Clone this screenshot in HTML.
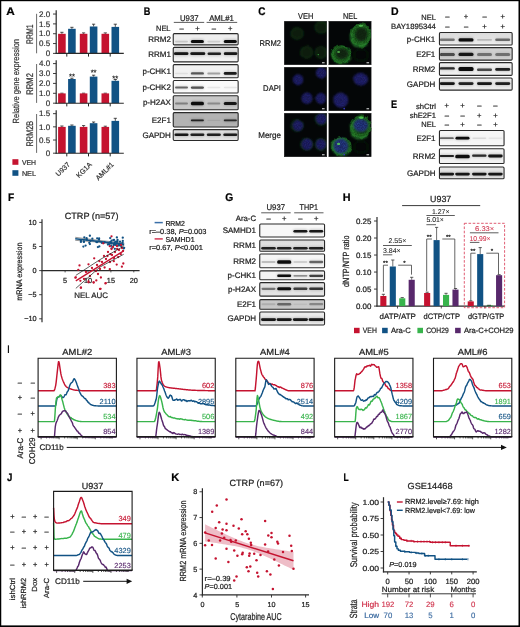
<!DOCTYPE html><html><head><meta charset="utf-8"><title>Figure</title><style>html,body{margin:0;padding:0;background:#fff;width:520px;height:627px;overflow:hidden}svg{display:block;will-change:transform;text-rendering:geometricPrecision;font-family:"Liberation Sans",sans-serif}</style></head><body><svg width="520" height="627" viewBox="0 0 520 627" font-family="Liberation Sans, sans-serif"><defs><filter id="bl" x="-30%" y="-200%" width="160%" height="500%"><feGaussianBlur stdDeviation="0.55"/></filter><filter id="bl2" x="-30%" y="-200%" width="160%" height="500%"><feGaussianBlur stdDeviation="0.9"/></filter><clipPath id="cp1"><rect x="172.80" y="33.20" width="65.80" height="12.10" rx="1.3"/></clipPath><clipPath id="cp2"><rect x="172.80" y="46.90" width="65.80" height="15.40" rx="1.3"/></clipPath><linearGradient id="cp2g" x1="0" y1="0" x2="0" y2="1"><stop offset="0" stop-color="#dedede"/><stop offset="1" stop-color="#f6f6f6"/></linearGradient><clipPath id="cp3"><rect x="172.80" y="64.20" width="65.80" height="14.00" rx="1.3"/></clipPath><clipPath id="cp4"><rect x="172.80" y="80.10" width="65.80" height="13.40" rx="1.3"/></clipPath><clipPath id="cp5"><rect x="172.80" y="95.30" width="65.80" height="14.90" rx="1.3"/></clipPath><clipPath id="cp6"><rect x="172.80" y="112.20" width="65.80" height="15.20" rx="1.3"/></clipPath><clipPath id="cp7"><rect x="172.80" y="129.20" width="65.80" height="11.70" rx="1.3"/></clipPath><clipPath id="cp8"><rect x="439.00" y="32.10" width="73.60" height="13.40" rx="1.3"/></clipPath><linearGradient id="cp8g" x1="0" y1="0" x2="0" y2="1"><stop offset="0" stop-color="#d9d9d9"/><stop offset="1" stop-color="#f0f0f0"/></linearGradient><clipPath id="cp9"><rect x="439.00" y="47.20" width="73.60" height="13.40" rx="1.3"/></clipPath><clipPath id="cp10"><rect x="439.00" y="62.20" width="73.60" height="13.60" rx="1.3"/></clipPath><clipPath id="cp11"><rect x="439.00" y="77.50" width="73.60" height="13.10" rx="1.3"/></clipPath><clipPath id="cp12"><rect x="439.00" y="130.00" width="65.50" height="16.20" rx="1.3"/></clipPath><clipPath id="cp13"><rect x="439.00" y="148.30" width="65.50" height="15.70" rx="1.3"/></clipPath><clipPath id="cp14"><rect x="439.00" y="166.60" width="65.50" height="12.60" rx="1.3"/></clipPath><clipPath id="cp15"><rect x="259.30" y="223.50" width="65.70" height="13.90" rx="1.3"/></clipPath><clipPath id="cp16"><rect x="259.30" y="239.60" width="65.70" height="12.10" rx="1.3"/></clipPath><linearGradient id="cp16g" x1="0" y1="0" x2="0" y2="1"><stop offset="0" stop-color="#dadada"/><stop offset="1" stop-color="#ececec"/></linearGradient><clipPath id="cp17"><rect x="259.30" y="253.50" width="65.70" height="14.70" rx="1.3"/></clipPath><clipPath id="cp18"><rect x="259.30" y="270.40" width="65.70" height="9.80" rx="1.3"/></clipPath><clipPath id="cp19"><rect x="259.30" y="282.20" width="65.70" height="14.40" rx="1.3"/></clipPath><clipPath id="cp20"><rect x="259.30" y="299.20" width="65.70" height="10.50" rx="1.3"/></clipPath><clipPath id="cp21"><rect x="259.30" y="311.60" width="65.70" height="13.80" rx="1.3"/></clipPath><filter id="cb1" x="-50%" y="-50%" width="200%" height="200%"><feGaussianBlur stdDeviation="0.7"/></filter><filter id="cb2" x="-50%" y="-50%" width="200%" height="200%"><feGaussianBlur stdDeviation="1.2"/></filter><filter id="org2" x="-30%" y="-30%" width="160%" height="160%"><feTurbulence type="fractalNoise" baseFrequency="0.18" numOctaves="2" seed="8" result="t"/><feDisplacementMap in="SourceGraphic" in2="t" scale="6" xChannelSelector="R" yChannelSelector="G" result="d"/><feGaussianBlur in="d" stdDeviation="0.7"/></filter><filter id="org" x="-30%" y="-30%" width="160%" height="160%"><feTurbulence type="fractalNoise" baseFrequency="0.3" numOctaves="2" seed="3" result="t"/><feDisplacementMap in="SourceGraphic" in2="t" scale="2.2" xChannelSelector="R" yChannelSelector="G" result="d"/><feGaussianBlur in="d" stdDeviation="0.85"/></filter><filter id="mot" x="-20%" y="-20%" width="140%" height="140%"><feTurbulence type="fractalNoise" baseFrequency="0.9" numOctaves="2" seed="5" result="n"/><feColorMatrix in="n" type="matrix" values="0 0 0 0 0  0 0 0 0 0  0 0 0 0 0  0 0 0 -2.2 1.7" result="m"/><feComposite in="SourceGraphic" in2="m" operator="in" result="c"/><feGaussianBlur in="c" stdDeviation="0.45"/></filter><radialGradient id="nuc"><stop offset="0" stop-color="#1e1e62"/><stop offset="0.8" stop-color="#252578"/><stop offset="1" stop-color="#252578" stop-opacity="0.5"/></radialGradient><radialGradient id="nucm"><stop offset="0" stop-color="#22387e"/><stop offset="0.8" stop-color="#28448c"/><stop offset="1" stop-color="#2a6080" stop-opacity="0.7"/></radialGradient><clipPath id="mc1"><rect x="284.0" y="21.0" width="43.0" height="44.0"/></clipPath><clipPath id="mc2"><rect x="328.5" y="21.0" width="43.0" height="44.0"/></clipPath><clipPath id="mc3"><rect x="284.0" y="67.0" width="43.0" height="44.0"/></clipPath><clipPath id="mc4"><rect x="328.5" y="67.0" width="43.0" height="44.0"/></clipPath><clipPath id="mc5"><rect x="284.0" y="113.0" width="43.0" height="44.0"/></clipPath><clipPath id="mc6"><rect x="328.5" y="113.0" width="43.0" height="44.0"/></clipPath></defs><rect width="520" height="627" fill="#fff"/><rect x="0.00" y="0.00" width="520.00" height="1.20" fill="#000" />
<rect x="0.00" y="0.00" width="1.25" height="627.00" fill="#000" />
<rect x="518.50" y="0.00" width="1.50" height="627.00" fill="#000" />
<rect x="0.00" y="625.40" width="520.00" height="1.60" fill="#000" />
<text x="6.30" y="14.80" font-size="11" stroke="#000" stroke-width="0.22" textLength="8.50" lengthAdjust="spacingAndGlyphs" fill="#000" font-weight="bold">A</text>
<text x="143.70" y="15.00" font-size="11" stroke="#000" stroke-width="0.22" textLength="6.60" lengthAdjust="spacingAndGlyphs" fill="#000" font-weight="bold">B</text>
<text x="258.20" y="15.30" font-size="11" stroke="#000" stroke-width="0.22" textLength="7.20" lengthAdjust="spacingAndGlyphs" fill="#000" font-weight="bold">C</text>
<text x="391.00" y="14.80" font-size="11" stroke="#000" stroke-width="0.22" textLength="7.60" lengthAdjust="spacingAndGlyphs" fill="#000" font-weight="bold">D</text>
<text x="391.00" y="108.00" font-size="11" stroke="#000" stroke-width="0.22" textLength="6.10" lengthAdjust="spacingAndGlyphs" fill="#000" font-weight="bold">E</text>
<text x="8.00" y="200.70" font-size="11" stroke="#000" stroke-width="0.22" textLength="6.20" lengthAdjust="spacingAndGlyphs" fill="#000" font-weight="bold">F</text>
<text x="225.20" y="200.60" font-size="11" stroke="#000" stroke-width="0.22" textLength="8.00" lengthAdjust="spacingAndGlyphs" fill="#000" font-weight="bold">G</text>
<text x="342.80" y="201.10" font-size="11" stroke="#000" stroke-width="0.22" textLength="7.80" lengthAdjust="spacingAndGlyphs" fill="#000" font-weight="bold">H</text>
<text x="7.40" y="352.50" font-size="11" stroke="#000" stroke-width="0.22" textLength="1.90" lengthAdjust="spacingAndGlyphs" fill="#000" font-weight="bold">I</text>
<text x="7.00" y="481.20" font-size="11" stroke="#000" stroke-width="0.22" textLength="5.40" lengthAdjust="spacingAndGlyphs" fill="#000" font-weight="bold">J</text>
<text x="171.20" y="481.10" font-size="11" stroke="#000" stroke-width="0.22" textLength="8.00" lengthAdjust="spacingAndGlyphs" fill="#000" font-weight="bold">K</text>
<text x="343.50" y="481.20" font-size="11" stroke="#000" stroke-width="0.22" textLength="5.20" lengthAdjust="spacingAndGlyphs" fill="#000" font-weight="bold">L</text>
<line x1="61.90" y1="33.80" x2="61.90" y2="32.30" stroke="#222" stroke-width="0.8" />
<line x1="60.30" y1="32.30" x2="63.50" y2="32.30" stroke="#222" stroke-width="0.8" />
<line x1="71.90" y1="28.80" x2="71.90" y2="27.30" stroke="#222" stroke-width="0.8" />
<line x1="70.30" y1="27.30" x2="73.50" y2="27.30" stroke="#222" stroke-width="0.8" />
<rect x="58.10" y="33.80" width="7.60" height="19.60" fill="#c51330" />
<rect x="68.10" y="28.80" width="7.60" height="24.60" fill="#115284" />
<line x1="66.80" y1="53.40" x2="66.80" y2="56.60" stroke="#222" stroke-width="1.0" />
<line x1="83.60" y1="33.80" x2="83.60" y2="32.90" stroke="#222" stroke-width="0.8" />
<line x1="82.00" y1="32.90" x2="85.20" y2="32.90" stroke="#222" stroke-width="0.8" />
<line x1="93.60" y1="26.50" x2="93.60" y2="24.20" stroke="#222" stroke-width="0.8" />
<line x1="92.00" y1="24.20" x2="95.20" y2="24.20" stroke="#222" stroke-width="0.8" />
<rect x="79.80" y="33.80" width="7.60" height="19.60" fill="#c51330" />
<rect x="89.80" y="26.50" width="7.60" height="26.90" fill="#115284" />
<line x1="88.50" y1="53.40" x2="88.50" y2="56.60" stroke="#222" stroke-width="1.0" />
<line x1="105.30" y1="33.80" x2="105.30" y2="32.90" stroke="#222" stroke-width="0.8" />
<line x1="103.70" y1="32.90" x2="106.90" y2="32.90" stroke="#222" stroke-width="0.8" />
<line x1="115.30" y1="26.90" x2="115.30" y2="24.20" stroke="#222" stroke-width="0.8" />
<line x1="113.70" y1="24.20" x2="116.90" y2="24.20" stroke="#222" stroke-width="0.8" />
<rect x="101.50" y="33.80" width="7.60" height="19.60" fill="#c51330" />
<rect x="111.50" y="26.90" width="7.60" height="26.50" fill="#115284" />
<line x1="110.20" y1="53.40" x2="110.20" y2="56.60" stroke="#222" stroke-width="1.0" />
<line x1="56.20" y1="10.20" x2="56.20" y2="53.90" stroke="#2b2b2b" stroke-width="1.2" />
<line x1="55.60" y1="53.40" x2="123.80" y2="53.40" stroke="#2b2b2b" stroke-width="1.1" />
<line x1="53.00" y1="53.40" x2="56.20" y2="53.40" stroke="#2b2b2b" stroke-width="0.9" />
<text x="50.20" y="56.05" font-size="8" stroke="#333" stroke-width="0.22" text-anchor="end" fill="#333">0</text>
<line x1="53.00" y1="43.56" x2="56.20" y2="43.56" stroke="#2b2b2b" stroke-width="0.9" />
<text x="50.20" y="46.21" font-size="8" stroke="#333" stroke-width="0.22" text-anchor="end" fill="#333">0.5</text>
<line x1="53.00" y1="33.72" x2="56.20" y2="33.72" stroke="#2b2b2b" stroke-width="0.9" />
<text x="50.20" y="36.37" font-size="8" stroke="#333" stroke-width="0.22" text-anchor="end" fill="#333">1.0</text>
<line x1="53.00" y1="23.88" x2="56.20" y2="23.88" stroke="#2b2b2b" stroke-width="0.9" />
<text x="50.20" y="26.53" font-size="8" stroke="#333" stroke-width="0.22" text-anchor="end" fill="#333">1.5</text>
<line x1="53.00" y1="14.04" x2="56.20" y2="14.04" stroke="#2b2b2b" stroke-width="0.9" />
<text x="50.20" y="16.69" font-size="8" stroke="#333" stroke-width="0.22" text-anchor="end" fill="#333">2.0</text>
<text x="33.10" y="34.20" font-size="9.6" stroke="#333" stroke-width="0.22" text-anchor="middle" textLength="19.70" lengthAdjust="spacingAndGlyphs" fill="#333" transform="rotate(-90 33.10 34.20)">RRM1</text>
<line x1="36.60" y1="13.80" x2="36.60" y2="53.30" stroke="#444" stroke-width="0.8" />
<line x1="61.90" y1="93.40" x2="61.90" y2="93.20" stroke="#222" stroke-width="0.8" />
<line x1="60.30" y1="93.20" x2="63.50" y2="93.20" stroke="#222" stroke-width="0.8" />
<line x1="71.90" y1="79.00" x2="71.90" y2="78.20" stroke="#222" stroke-width="0.8" />
<line x1="70.30" y1="78.20" x2="73.50" y2="78.20" stroke="#222" stroke-width="0.8" />
<rect x="58.10" y="93.40" width="7.60" height="9.80" fill="#c51330" />
<rect x="68.10" y="79.00" width="7.60" height="24.20" fill="#115284" />
<line x1="66.80" y1="103.20" x2="66.80" y2="106.40" stroke="#222" stroke-width="1.0" />
<text x="71.90" y="79.40" font-size="7.6" stroke="#222" stroke-width="0.22" text-anchor="middle" fill="#222">**</text>
<line x1="83.60" y1="93.40" x2="83.60" y2="93.20" stroke="#222" stroke-width="0.8" />
<line x1="82.00" y1="93.20" x2="85.20" y2="93.20" stroke="#222" stroke-width="0.8" />
<line x1="93.60" y1="76.60" x2="93.60" y2="75.20" stroke="#222" stroke-width="0.8" />
<line x1="92.00" y1="75.20" x2="95.20" y2="75.20" stroke="#222" stroke-width="0.8" />
<rect x="79.80" y="93.40" width="7.60" height="9.80" fill="#c51330" />
<rect x="89.80" y="76.60" width="7.60" height="26.60" fill="#115284" />
<line x1="88.50" y1="103.20" x2="88.50" y2="106.40" stroke="#222" stroke-width="1.0" />
<text x="93.60" y="75.40" font-size="7.6" stroke="#222" stroke-width="0.22" text-anchor="middle" fill="#222">**</text>
<line x1="105.30" y1="93.40" x2="105.30" y2="93.20" stroke="#222" stroke-width="0.8" />
<line x1="103.70" y1="93.20" x2="106.90" y2="93.20" stroke="#222" stroke-width="0.8" />
<line x1="115.30" y1="80.80" x2="115.30" y2="79.50" stroke="#222" stroke-width="0.8" />
<line x1="113.70" y1="79.50" x2="116.90" y2="79.50" stroke="#222" stroke-width="0.8" />
<rect x="101.50" y="93.40" width="7.60" height="9.80" fill="#c51330" />
<rect x="111.50" y="80.80" width="7.60" height="22.40" fill="#115284" />
<line x1="110.20" y1="103.20" x2="110.20" y2="106.40" stroke="#222" stroke-width="1.0" />
<text x="115.30" y="80.60" font-size="7.6" stroke="#222" stroke-width="0.22" text-anchor="middle" fill="#222">**</text>
<line x1="56.20" y1="60.20" x2="56.20" y2="103.70" stroke="#2b2b2b" stroke-width="1.2" />
<line x1="55.60" y1="103.20" x2="123.80" y2="103.20" stroke="#2b2b2b" stroke-width="1.1" />
<line x1="53.00" y1="103.20" x2="56.20" y2="103.20" stroke="#2b2b2b" stroke-width="0.9" />
<text x="50.20" y="105.85" font-size="8" stroke="#333" stroke-width="0.22" text-anchor="end" fill="#333">0</text>
<line x1="53.00" y1="93.30" x2="56.20" y2="93.30" stroke="#2b2b2b" stroke-width="0.9" />
<text x="50.20" y="95.95" font-size="8" stroke="#333" stroke-width="0.22" text-anchor="end" fill="#333">1.0</text>
<line x1="53.00" y1="83.40" x2="56.20" y2="83.40" stroke="#2b2b2b" stroke-width="0.9" />
<text x="50.20" y="86.05" font-size="8" stroke="#333" stroke-width="0.22" text-anchor="end" fill="#333">2.0</text>
<line x1="53.00" y1="73.50" x2="56.20" y2="73.50" stroke="#2b2b2b" stroke-width="0.9" />
<text x="50.20" y="76.15" font-size="8" stroke="#333" stroke-width="0.22" text-anchor="end" fill="#333">3.0</text>
<line x1="53.00" y1="63.60" x2="56.20" y2="63.60" stroke="#2b2b2b" stroke-width="0.9" />
<text x="50.20" y="66.25" font-size="8" stroke="#333" stroke-width="0.22" text-anchor="end" fill="#333">4.0</text>
<text x="33.10" y="83.85" font-size="9.6" stroke="#333" stroke-width="0.22" text-anchor="middle" textLength="21.60" lengthAdjust="spacingAndGlyphs" fill="#333" transform="rotate(-90 33.10 83.85)">RRM2</text>
<line x1="36.60" y1="64.00" x2="36.60" y2="102.90" stroke="#444" stroke-width="0.8" />
<line x1="61.90" y1="126.90" x2="61.90" y2="126.00" stroke="#222" stroke-width="0.8" />
<line x1="60.30" y1="126.00" x2="63.50" y2="126.00" stroke="#222" stroke-width="0.8" />
<line x1="71.90" y1="125.80" x2="71.90" y2="125.00" stroke="#222" stroke-width="0.8" />
<line x1="70.30" y1="125.00" x2="73.50" y2="125.00" stroke="#222" stroke-width="0.8" />
<rect x="58.10" y="126.90" width="7.60" height="26.30" fill="#c51330" />
<rect x="68.10" y="125.80" width="7.60" height="27.40" fill="#115284" />
<line x1="66.80" y1="153.20" x2="66.80" y2="156.40" stroke="#222" stroke-width="1.0" />
<line x1="83.60" y1="126.90" x2="83.60" y2="125.60" stroke="#222" stroke-width="0.8" />
<line x1="82.00" y1="125.60" x2="85.20" y2="125.60" stroke="#222" stroke-width="0.8" />
<line x1="93.60" y1="123.20" x2="93.60" y2="122.00" stroke="#222" stroke-width="0.8" />
<line x1="92.00" y1="122.00" x2="95.20" y2="122.00" stroke="#222" stroke-width="0.8" />
<rect x="79.80" y="126.90" width="7.60" height="26.30" fill="#c51330" />
<rect x="89.80" y="123.20" width="7.60" height="30.00" fill="#115284" />
<line x1="88.50" y1="153.20" x2="88.50" y2="156.40" stroke="#222" stroke-width="1.0" />
<line x1="105.30" y1="126.90" x2="105.30" y2="126.20" stroke="#222" stroke-width="0.8" />
<line x1="103.70" y1="126.20" x2="106.90" y2="126.20" stroke="#222" stroke-width="0.8" />
<line x1="115.30" y1="120.90" x2="115.30" y2="118.30" stroke="#222" stroke-width="0.8" />
<line x1="113.70" y1="118.30" x2="116.90" y2="118.30" stroke="#222" stroke-width="0.8" />
<rect x="101.50" y="126.90" width="7.60" height="26.30" fill="#c51330" />
<rect x="111.50" y="120.90" width="7.60" height="32.30" fill="#115284" />
<line x1="110.20" y1="153.20" x2="110.20" y2="156.40" stroke="#222" stroke-width="1.0" />
<line x1="56.20" y1="110.20" x2="56.20" y2="153.70" stroke="#2b2b2b" stroke-width="1.2" />
<line x1="55.60" y1="153.20" x2="123.80" y2="153.20" stroke="#2b2b2b" stroke-width="1.1" />
<line x1="53.00" y1="153.20" x2="56.20" y2="153.20" stroke="#2b2b2b" stroke-width="0.9" />
<text x="50.20" y="155.85" font-size="8" stroke="#333" stroke-width="0.22" text-anchor="end" fill="#333">0</text>
<line x1="53.00" y1="140.02" x2="56.20" y2="140.02" stroke="#2b2b2b" stroke-width="0.9" />
<text x="50.20" y="142.67" font-size="8" stroke="#333" stroke-width="0.22" text-anchor="end" fill="#333">0.5</text>
<line x1="53.00" y1="126.85" x2="56.20" y2="126.85" stroke="#2b2b2b" stroke-width="0.9" />
<text x="50.20" y="129.50" font-size="8" stroke="#333" stroke-width="0.22" text-anchor="end" fill="#333">1.0</text>
<line x1="53.00" y1="113.67" x2="56.20" y2="113.67" stroke="#2b2b2b" stroke-width="0.9" />
<text x="50.20" y="116.32" font-size="8" stroke="#333" stroke-width="0.22" text-anchor="end" fill="#333">1.5</text>
<text x="33.10" y="133.60" font-size="9.6" stroke="#333" stroke-width="0.22" text-anchor="middle" textLength="25.70" lengthAdjust="spacingAndGlyphs" fill="#333" transform="rotate(-90 33.10 133.60)">RRM2B</text>
<line x1="36.60" y1="114.00" x2="36.60" y2="152.90" stroke="#444" stroke-width="0.8" />
<text x="19.40" y="81.20" font-size="8.9" stroke="#333" stroke-width="0.22" text-anchor="middle" textLength="84.50" lengthAdjust="spacingAndGlyphs" fill="#333" transform="rotate(-90 19.40 81.20)">Relative gene expression</text>
<rect x="12.40" y="159.20" width="6.00" height="5.60" fill="#c51330" />
<rect x="12.40" y="170.20" width="6.00" height="5.60" fill="#115284" />
<text x="21.90" y="164.60" font-size="7.1" stroke="#333" stroke-width="0.22" textLength="14.10" lengthAdjust="spacingAndGlyphs" fill="#333">VEH</text>
<text x="21.90" y="175.80" font-size="7.1" stroke="#333" stroke-width="0.22" textLength="14.10" lengthAdjust="spacingAndGlyphs" fill="#333">NEL</text>
<text x="70.40" y="165.00" font-size="7.0" stroke="#333" stroke-width="0.22" text-anchor="end" fill="#333" transform="rotate(-45 70.40 165.00)">U937</text>
<text x="92.30" y="165.00" font-size="7.0" stroke="#333" stroke-width="0.22" text-anchor="end" fill="#333" transform="rotate(-45 92.30 165.00)">KG1A</text>
<text x="114.20" y="165.00" font-size="7.0" stroke="#333" stroke-width="0.22" text-anchor="end" fill="#333" transform="rotate(-45 114.20 165.00)">AML#1</text>
<text x="180.00" y="20.80" font-size="8.2" stroke="#222" stroke-width="0.22" textLength="18.50" lengthAdjust="spacingAndGlyphs" fill="#222">U937</text>
<text x="209.20" y="20.80" font-size="8.2" stroke="#222" stroke-width="0.22" textLength="24.60" lengthAdjust="spacingAndGlyphs" fill="#222">AML#1</text>
<line x1="173.80" y1="22.40" x2="204.20" y2="22.40" stroke="#333" stroke-width="0.8" />
<line x1="206.60" y1="22.40" x2="237.20" y2="22.40" stroke="#333" stroke-width="0.8" />
<text x="170.50" y="31.20" font-size="7.8" stroke="#222" stroke-width="0.22" text-anchor="end" textLength="14.50" lengthAdjust="spacingAndGlyphs" fill="#222">NEL</text>
<text x="181.50" y="31.00" font-size="7.6" stroke="#222" stroke-width="0.22" text-anchor="middle" fill="#222">–</text>
<text x="197.40" y="31.00" font-size="7.6" stroke="#222" stroke-width="0.22" text-anchor="middle" fill="#222">+</text>
<text x="213.80" y="31.00" font-size="7.6" stroke="#222" stroke-width="0.22" text-anchor="middle" fill="#222">–</text>
<text x="230.30" y="31.00" font-size="7.6" stroke="#222" stroke-width="0.22" text-anchor="middle" fill="#222">+</text>
<g clip-path="url(#cp1)"><rect x="172.80" y="33.20" width="65.80" height="12.10" fill="#eeeeee"/><rect x="174.50" y="39.80" width="14.00" height="3.60" rx="1.80" fill="#0a0a0a" fill-opacity="0.03" filter="url(#bl2)"/><rect x="175.00" y="40.80" width="13.00" height="1.60" rx="0.80" fill="#0a0a0a" fill-opacity="0.14" filter="url(#bl)"/><rect x="190.40" y="39.10" width="14.00" height="5.00" rx="2.50" fill="#0a0a0a" fill-opacity="0.18" filter="url(#bl2)"/><rect x="190.90" y="40.10" width="13.00" height="3.00" rx="1.50" fill="#0a0a0a" fill-opacity="1.00" filter="url(#bl)"/><rect x="206.80" y="39.80" width="14.00" height="3.60" rx="1.80" fill="#0a0a0a" fill-opacity="0.02" filter="url(#bl2)"/><rect x="207.30" y="40.80" width="13.00" height="1.60" rx="0.80" fill="#0a0a0a" fill-opacity="0.12" filter="url(#bl)"/><rect x="223.30" y="39.10" width="14.00" height="5.00" rx="2.50" fill="#0a0a0a" fill-opacity="0.18" filter="url(#bl2)"/><rect x="223.80" y="40.10" width="13.00" height="3.00" rx="1.50" fill="#0a0a0a" fill-opacity="1.00" filter="url(#bl)"/></g>
<rect x="173.25" y="33.65" width="64.90" height="11.20" rx="1.1" fill="none" stroke="#2a2a2a" stroke-width="1.1"/>
<text x="170.90" y="41.95" font-size="8.0" stroke="#222" stroke-width="0.22" text-anchor="end" fill="#222">RRM2</text>
<g clip-path="url(#cp2)"><rect x="172.80" y="46.90" width="65.80" height="15.40" fill="url(#cp2g)"/><rect x="173.45" y="51.30" width="15.50" height="4.80" rx="2.40" fill="#0a0a0a" fill-opacity="0.17" filter="url(#bl2)"/><rect x="173.95" y="52.30" width="14.50" height="2.80" rx="1.40" fill="#0a0a0a" fill-opacity="0.95" filter="url(#bl)"/><rect x="189.80" y="51.30" width="16.00" height="4.80" rx="2.40" fill="#0a0a0a" fill-opacity="0.17" filter="url(#bl2)"/><rect x="190.30" y="52.30" width="15.00" height="2.80" rx="1.40" fill="#0a0a0a" fill-opacity="0.95" filter="url(#bl)"/><rect x="207.05" y="51.40" width="14.50" height="4.60" rx="2.30" fill="#0a0a0a" fill-opacity="0.16" filter="url(#bl2)"/><rect x="207.55" y="52.40" width="13.50" height="2.60" rx="1.30" fill="#0a0a0a" fill-opacity="0.90" filter="url(#bl)"/><rect x="223.35" y="51.30" width="14.50" height="4.80" rx="2.40" fill="#0a0a0a" fill-opacity="0.17" filter="url(#bl2)"/><rect x="223.85" y="52.30" width="13.50" height="2.80" rx="1.40" fill="#0a0a0a" fill-opacity="0.95" filter="url(#bl)"/></g>
<rect x="173.25" y="47.35" width="64.90" height="14.50" rx="1.1" fill="none" stroke="#2a2a2a" stroke-width="1.1"/>
<text x="170.90" y="57.30" font-size="8.0" stroke="#222" stroke-width="0.22" text-anchor="end" fill="#222">RRM1</text>
<g clip-path="url(#cp3)"><rect x="172.80" y="64.20" width="65.80" height="14.00" fill="#f2f2f2"/><rect x="174.50" y="71.65" width="14.00" height="3.50" rx="1.75" fill="#0a0a0a" fill-opacity="0.01" filter="url(#bl2)"/><rect x="175.00" y="72.65" width="13.00" height="1.50" rx="0.75" fill="#0a0a0a" fill-opacity="0.07" filter="url(#bl)"/><rect x="190.40" y="71.20" width="14.00" height="4.40" rx="2.20" fill="#0a0a0a" fill-opacity="0.11" filter="url(#bl2)"/><rect x="190.90" y="72.20" width="13.00" height="2.40" rx="1.20" fill="#0a0a0a" fill-opacity="0.60" filter="url(#bl)"/><rect x="206.80" y="71.40" width="14.00" height="4.00" rx="2.00" fill="#0a0a0a" fill-opacity="0.05" filter="url(#bl2)"/><rect x="207.30" y="72.40" width="13.00" height="2.00" rx="1.00" fill="#0a0a0a" fill-opacity="0.30" filter="url(#bl)"/><rect x="223.30" y="71.00" width="14.00" height="4.80" rx="2.40" fill="#0a0a0a" fill-opacity="0.17" filter="url(#bl2)"/><rect x="223.80" y="72.00" width="13.00" height="2.80" rx="1.40" fill="#0a0a0a" fill-opacity="0.92" filter="url(#bl)"/></g>
<rect x="173.25" y="64.65" width="64.90" height="13.10" rx="1.1" fill="none" stroke="#2a2a2a" stroke-width="1.1"/>
<text x="170.90" y="73.90" font-size="8.0" stroke="#222" stroke-width="0.22" text-anchor="end" fill="#222">p-CHK1</text>
<g clip-path="url(#cp4)"><rect x="172.80" y="80.10" width="65.80" height="13.40" fill="#fafafa"/><rect x="174.50" y="85.60" width="14.00" height="4.00" rx="2.00" fill="#0a0a0a" fill-opacity="0.10" filter="url(#bl2)"/><rect x="175.00" y="86.60" width="13.00" height="2.00" rx="1.00" fill="#0a0a0a" fill-opacity="0.55" filter="url(#bl)"/><rect x="190.40" y="85.40" width="14.00" height="4.40" rx="2.20" fill="#0a0a0a" fill-opacity="0.12" filter="url(#bl2)"/><rect x="190.90" y="86.40" width="13.00" height="2.40" rx="1.20" fill="#0a0a0a" fill-opacity="0.68" filter="url(#bl)"/><rect x="206.80" y="85.85" width="14.00" height="3.50" rx="1.75" fill="#0a0a0a" fill-opacity="0.01" filter="url(#bl2)"/><rect x="207.30" y="86.85" width="13.00" height="1.50" rx="0.75" fill="#0a0a0a" fill-opacity="0.08" filter="url(#bl)"/><rect x="223.30" y="85.85" width="14.00" height="3.50" rx="1.75" fill="#0a0a0a" fill-opacity="0.01" filter="url(#bl2)"/><rect x="223.80" y="86.85" width="13.00" height="1.50" rx="0.75" fill="#0a0a0a" fill-opacity="0.08" filter="url(#bl)"/></g>
<rect x="173.25" y="80.55" width="64.90" height="12.50" rx="1.1" fill="none" stroke="#2a2a2a" stroke-width="1.1"/>
<text x="170.90" y="89.50" font-size="8.0" stroke="#222" stroke-width="0.22" text-anchor="end" fill="#222">p-CHK2</text>
<g clip-path="url(#cp5)"><rect x="172.80" y="95.30" width="65.80" height="14.90" fill="#c8c8c8"/><rect x="174.50" y="101.50" width="14.00" height="4.00" rx="2.00" fill="#0a0a0a" fill-opacity="0.06" filter="url(#bl2)"/><rect x="175.00" y="102.50" width="13.00" height="2.00" rx="1.00" fill="#0a0a0a" fill-opacity="0.33" filter="url(#bl)"/><rect x="190.40" y="100.80" width="14.00" height="5.40" rx="2.50" fill="#0a0a0a" fill-opacity="0.18" filter="url(#bl2)"/><rect x="190.90" y="101.80" width="13.00" height="3.40" rx="1.50" fill="#0a0a0a" fill-opacity="1.00" filter="url(#bl)"/><rect x="206.80" y="101.50" width="14.00" height="4.00" rx="2.00" fill="#0a0a0a" fill-opacity="0.05" filter="url(#bl2)"/><rect x="207.30" y="102.50" width="13.00" height="2.00" rx="1.00" fill="#0a0a0a" fill-opacity="0.28" filter="url(#bl)"/><rect x="223.30" y="101.00" width="14.00" height="5.00" rx="2.50" fill="#0a0a0a" fill-opacity="0.17" filter="url(#bl2)"/><rect x="223.80" y="102.00" width="13.00" height="3.00" rx="1.50" fill="#0a0a0a" fill-opacity="0.95" filter="url(#bl)"/></g>
<rect x="173.25" y="95.75" width="64.90" height="14.00" rx="1.1" fill="none" stroke="#2a2a2a" stroke-width="1.1"/>
<text x="170.90" y="105.45" font-size="8.0" stroke="#222" stroke-width="0.22" text-anchor="end" fill="#222">p-H2AX</text>
<g clip-path="url(#cp6)"><rect x="172.80" y="112.20" width="65.80" height="15.20" fill="#b3b3b3"/><rect x="190.40" y="118.60" width="14.00" height="3.60" rx="1.80" fill="#0a0a0a" fill-opacity="0.15" filter="url(#bl2)"/><rect x="190.90" y="119.60" width="13.00" height="1.60" rx="0.80" fill="#0a0a0a" fill-opacity="0.85" filter="url(#bl)"/><rect x="206.80" y="118.70" width="14.00" height="3.40" rx="1.70" fill="#0a0a0a" fill-opacity="0.01" filter="url(#bl2)"/><rect x="207.30" y="119.70" width="13.00" height="1.40" rx="0.70" fill="#0a0a0a" fill-opacity="0.08" filter="url(#bl)"/><rect x="223.30" y="118.60" width="14.00" height="3.60" rx="1.80" fill="#0a0a0a" fill-opacity="0.14" filter="url(#bl2)"/><rect x="223.80" y="119.60" width="13.00" height="1.60" rx="0.80" fill="#0a0a0a" fill-opacity="0.80" filter="url(#bl)"/></g>
<rect x="173.25" y="112.65" width="64.90" height="14.30" rx="1.1" fill="none" stroke="#2a2a2a" stroke-width="1.1"/>
<text x="170.90" y="122.50" font-size="8.0" stroke="#222" stroke-width="0.22" text-anchor="end" fill="#222">E2F1</text>
<g clip-path="url(#cp7)"><rect x="172.80" y="129.20" width="65.80" height="11.70" fill="#e2e2e2"/><rect x="174.00" y="132.40" width="15.00" height="4.60" rx="2.30" fill="#0a0a0a" fill-opacity="0.17" filter="url(#bl2)"/><rect x="174.50" y="133.40" width="14.00" height="2.60" rx="1.30" fill="#0a0a0a" fill-opacity="0.95" filter="url(#bl)"/><rect x="189.90" y="132.40" width="15.00" height="4.60" rx="2.30" fill="#0a0a0a" fill-opacity="0.16" filter="url(#bl2)"/><rect x="190.40" y="133.40" width="14.00" height="2.60" rx="1.30" fill="#0a0a0a" fill-opacity="0.90" filter="url(#bl)"/><rect x="206.30" y="132.40" width="15.00" height="4.60" rx="2.30" fill="#0a0a0a" fill-opacity="0.16" filter="url(#bl2)"/><rect x="206.80" y="133.40" width="14.00" height="2.60" rx="1.30" fill="#0a0a0a" fill-opacity="0.90" filter="url(#bl)"/><rect x="222.80" y="132.40" width="15.00" height="4.60" rx="2.30" fill="#0a0a0a" fill-opacity="0.17" filter="url(#bl2)"/><rect x="223.30" y="133.40" width="14.00" height="2.60" rx="1.30" fill="#0a0a0a" fill-opacity="0.92" filter="url(#bl)"/></g>
<rect x="173.25" y="129.65" width="64.90" height="10.80" rx="1.1" fill="none" stroke="#2a2a2a" stroke-width="1.1"/>
<text x="170.90" y="137.75" font-size="8.0" stroke="#222" stroke-width="0.22" text-anchor="end" fill="#222">GAPDH</text>
<text x="435.90" y="19.50" font-size="7.6" stroke="#222" stroke-width="0.22" text-anchor="end" textLength="14.60" lengthAdjust="spacingAndGlyphs" fill="#222">NEL</text>
<text x="435.90" y="28.70" font-size="7.6" stroke="#222" stroke-width="0.22" text-anchor="end" textLength="44.90" lengthAdjust="spacingAndGlyphs" fill="#222">BAY1895344</text>
<text x="447.30" y="19.30" font-size="7.6" stroke="#222" stroke-width="0.22" text-anchor="middle" fill="#222">–</text>
<text x="466.00" y="19.30" font-size="7.6" stroke="#222" stroke-width="0.22" text-anchor="middle" fill="#222">+</text>
<text x="484.50" y="19.30" font-size="7.6" stroke="#222" stroke-width="0.22" text-anchor="middle" fill="#222">–</text>
<text x="502.70" y="19.30" font-size="7.6" stroke="#222" stroke-width="0.22" text-anchor="middle" fill="#222">+</text>
<text x="447.30" y="28.60" font-size="7.6" stroke="#222" stroke-width="0.22" text-anchor="middle" fill="#222">–</text>
<text x="466.00" y="28.60" font-size="7.6" stroke="#222" stroke-width="0.22" text-anchor="middle" fill="#222">–</text>
<text x="484.50" y="28.60" font-size="7.6" stroke="#222" stroke-width="0.22" text-anchor="middle" fill="#222">+</text>
<text x="502.70" y="28.60" font-size="7.6" stroke="#222" stroke-width="0.22" text-anchor="middle" fill="#222">+</text>
<g clip-path="url(#cp8)"><rect x="439.00" y="32.10" width="73.60" height="13.40" fill="url(#cp8g)"/><rect x="439.30" y="37.60" width="16.00" height="4.40" rx="2.20" fill="#0a0a0a" fill-opacity="0.08" filter="url(#bl2)"/><rect x="439.80" y="38.60" width="15.00" height="2.40" rx="1.20" fill="#0a0a0a" fill-opacity="0.45" filter="url(#bl)"/><rect x="458.00" y="37.20" width="16.00" height="5.20" rx="2.50" fill="#0a0a0a" fill-opacity="0.18" filter="url(#bl2)"/><rect x="458.50" y="38.20" width="15.00" height="3.20" rx="1.50" fill="#0a0a0a" fill-opacity="1.00" filter="url(#bl)"/><rect x="476.50" y="37.90" width="16.00" height="3.80" rx="1.90" fill="#0a0a0a" fill-opacity="0.03" filter="url(#bl2)"/><rect x="477.00" y="38.90" width="15.00" height="1.80" rx="0.90" fill="#0a0a0a" fill-opacity="0.18" filter="url(#bl)"/><rect x="494.70" y="37.50" width="16.00" height="4.60" rx="2.30" fill="#0a0a0a" fill-opacity="0.09" filter="url(#bl2)"/><rect x="495.20" y="38.50" width="15.00" height="2.60" rx="1.30" fill="#0a0a0a" fill-opacity="0.50" filter="url(#bl)"/></g>
<rect x="439.45" y="32.55" width="72.70" height="12.50" rx="1.1" fill="none" stroke="#2a2a2a" stroke-width="1.1"/>
<text x="435.30" y="41.50" font-size="8.0" stroke="#222" stroke-width="0.22" text-anchor="end" fill="#222">p-CHK1</text>
<g clip-path="url(#cp9)"><rect x="439.00" y="47.20" width="73.60" height="13.40" fill="#d0d0d0"/><rect x="439.30" y="51.90" width="16.00" height="5.00" rx="2.50" fill="#0a0a0a" fill-opacity="0.12" filter="url(#bl2)"/><rect x="439.80" y="52.90" width="15.00" height="3.00" rx="1.50" fill="#0a0a0a" fill-opacity="0.65" filter="url(#bl)"/><rect x="458.00" y="51.70" width="16.00" height="5.40" rx="2.50" fill="#0a0a0a" fill-opacity="0.17" filter="url(#bl2)"/><rect x="458.50" y="52.70" width="15.00" height="3.40" rx="1.50" fill="#0a0a0a" fill-opacity="0.95" filter="url(#bl)"/><rect x="476.50" y="51.90" width="16.00" height="5.00" rx="2.50" fill="#0a0a0a" fill-opacity="0.08" filter="url(#bl2)"/><rect x="477.00" y="52.90" width="15.00" height="3.00" rx="1.50" fill="#0a0a0a" fill-opacity="0.42" filter="url(#bl)"/><rect x="494.70" y="51.90" width="16.00" height="5.00" rx="2.50" fill="#0a0a0a" fill-opacity="0.08" filter="url(#bl2)"/><rect x="495.20" y="52.90" width="15.00" height="3.00" rx="1.50" fill="#0a0a0a" fill-opacity="0.42" filter="url(#bl)"/></g>
<rect x="439.45" y="47.65" width="72.70" height="12.50" rx="1.1" fill="none" stroke="#2a2a2a" stroke-width="1.1"/>
<text x="435.30" y="56.60" font-size="8.0" stroke="#222" stroke-width="0.22" text-anchor="end" fill="#222">E2F1</text>
<g clip-path="url(#cp10)"><rect x="439.00" y="62.20" width="73.60" height="13.60" fill="#f0f0f0"/><rect x="439.30" y="66.20" width="16.00" height="4.40" rx="2.20" fill="#0a0a0a" fill-opacity="0.15" filter="url(#bl2)"/><rect x="439.80" y="67.20" width="15.00" height="2.40" rx="1.20" fill="#0a0a0a" fill-opacity="0.85" filter="url(#bl)"/><rect x="458.00" y="66.00" width="16.00" height="6.00" rx="2.50" fill="#0a0a0a" fill-opacity="0.18" filter="url(#bl2)"/><rect x="458.50" y="67.00" width="15.00" height="4.00" rx="1.50" fill="#0a0a0a" fill-opacity="1.00" filter="url(#bl)"/><rect x="476.50" y="67.60" width="16.00" height="4.40" rx="2.20" fill="#0a0a0a" fill-opacity="0.13" filter="url(#bl2)"/><rect x="477.00" y="68.60" width="15.00" height="2.40" rx="1.20" fill="#0a0a0a" fill-opacity="0.70" filter="url(#bl)"/><rect x="494.70" y="67.00" width="16.00" height="4.80" rx="2.40" fill="#0a0a0a" fill-opacity="0.16" filter="url(#bl2)"/><rect x="495.20" y="68.00" width="15.00" height="2.80" rx="1.40" fill="#0a0a0a" fill-opacity="0.90" filter="url(#bl)"/></g>
<rect x="439.45" y="62.65" width="72.70" height="12.70" rx="1.1" fill="none" stroke="#2a2a2a" stroke-width="1.1"/>
<text x="435.30" y="71.70" font-size="8.0" stroke="#222" stroke-width="0.22" text-anchor="end" fill="#222">RRM2</text>
<g clip-path="url(#cp11)"><rect x="439.00" y="77.50" width="73.60" height="13.10" fill="#ececec"/><rect x="439.30" y="81.30" width="16.00" height="4.60" rx="2.30" fill="#0a0a0a" fill-opacity="0.17" filter="url(#bl2)"/><rect x="439.80" y="82.30" width="15.00" height="2.60" rx="1.30" fill="#0a0a0a" fill-opacity="0.95" filter="url(#bl)"/><rect x="458.00" y="81.30" width="16.00" height="4.60" rx="2.30" fill="#0a0a0a" fill-opacity="0.16" filter="url(#bl2)"/><rect x="458.50" y="82.30" width="15.00" height="2.60" rx="1.30" fill="#0a0a0a" fill-opacity="0.90" filter="url(#bl)"/><rect x="476.50" y="81.20" width="16.00" height="4.80" rx="2.40" fill="#0a0a0a" fill-opacity="0.17" filter="url(#bl2)"/><rect x="477.00" y="82.20" width="15.00" height="2.80" rx="1.40" fill="#0a0a0a" fill-opacity="0.95" filter="url(#bl)"/><rect x="494.70" y="81.30" width="16.00" height="4.60" rx="2.30" fill="#0a0a0a" fill-opacity="0.16" filter="url(#bl2)"/><rect x="495.20" y="82.30" width="15.00" height="2.60" rx="1.30" fill="#0a0a0a" fill-opacity="0.90" filter="url(#bl)"/></g>
<rect x="439.45" y="77.95" width="72.70" height="12.20" rx="1.1" fill="none" stroke="#2a2a2a" stroke-width="1.1"/>
<text x="435.30" y="86.75" font-size="8.0" stroke="#222" stroke-width="0.22" text-anchor="end" fill="#222">GAPDH</text>
<text x="435.90" y="108.50" font-size="7.6" stroke="#222" stroke-width="0.22" text-anchor="end" textLength="19.90" lengthAdjust="spacingAndGlyphs" fill="#222">shCtrl</text>
<text x="435.90" y="117.90" font-size="7.6" stroke="#222" stroke-width="0.22" text-anchor="end" textLength="26.20" lengthAdjust="spacingAndGlyphs" fill="#222">shE2F1</text>
<text x="435.90" y="127.00" font-size="7.6" stroke="#222" stroke-width="0.22" text-anchor="end" textLength="14.60" lengthAdjust="spacingAndGlyphs" fill="#222">NEL</text>
<text x="446.80" y="108.40" font-size="7.6" stroke="#222" stroke-width="0.22" text-anchor="middle" fill="#222">+</text>
<text x="462.50" y="108.40" font-size="7.6" stroke="#222" stroke-width="0.22" text-anchor="middle" fill="#222">+</text>
<text x="479.30" y="108.40" font-size="7.6" stroke="#222" stroke-width="0.22" text-anchor="middle" fill="#222">–</text>
<text x="495.40" y="108.40" font-size="7.6" stroke="#222" stroke-width="0.22" text-anchor="middle" fill="#222">–</text>
<text x="446.80" y="117.80" font-size="7.6" stroke="#222" stroke-width="0.22" text-anchor="middle" fill="#222">–</text>
<text x="462.50" y="117.80" font-size="7.6" stroke="#222" stroke-width="0.22" text-anchor="middle" fill="#222">–</text>
<text x="479.30" y="117.80" font-size="7.6" stroke="#222" stroke-width="0.22" text-anchor="middle" fill="#222">+</text>
<text x="495.40" y="117.80" font-size="7.6" stroke="#222" stroke-width="0.22" text-anchor="middle" fill="#222">+</text>
<text x="446.80" y="127.00" font-size="7.6" stroke="#222" stroke-width="0.22" text-anchor="middle" fill="#222">–</text>
<text x="462.50" y="127.00" font-size="7.6" stroke="#222" stroke-width="0.22" text-anchor="middle" fill="#222">+</text>
<text x="479.30" y="127.00" font-size="7.6" stroke="#222" stroke-width="0.22" text-anchor="middle" fill="#222">–</text>
<text x="495.40" y="127.00" font-size="7.6" stroke="#222" stroke-width="0.22" text-anchor="middle" fill="#222">+</text>
<g clip-path="url(#cp12)"><rect x="439.00" y="130.00" width="65.50" height="16.20" fill="#f6f6f6"/><rect x="439.30" y="136.30" width="15.00" height="3.80" rx="1.90" fill="#0a0a0a" fill-opacity="0.10" filter="url(#bl2)"/><rect x="439.80" y="137.30" width="14.00" height="1.80" rx="0.90" fill="#0a0a0a" fill-opacity="0.55" filter="url(#bl)"/><rect x="455.00" y="135.80" width="15.00" height="4.80" rx="2.40" fill="#0a0a0a" fill-opacity="0.18" filter="url(#bl2)"/><rect x="455.50" y="136.80" width="14.00" height="2.80" rx="1.40" fill="#0a0a0a" fill-opacity="1.00" filter="url(#bl)"/><rect x="471.80" y="136.50" width="15.00" height="3.40" rx="1.70" fill="#0a0a0a" fill-opacity="0.02" filter="url(#bl2)"/><rect x="472.30" y="137.50" width="14.00" height="1.40" rx="0.70" fill="#0a0a0a" fill-opacity="0.10" filter="url(#bl)"/><rect x="487.90" y="136.50" width="15.00" height="3.40" rx="1.70" fill="#0a0a0a" fill-opacity="0.01" filter="url(#bl2)"/><rect x="488.40" y="137.50" width="14.00" height="1.40" rx="0.70" fill="#0a0a0a" fill-opacity="0.06" filter="url(#bl)"/></g>
<rect x="439.45" y="130.45" width="64.60" height="15.30" rx="1.1" fill="none" stroke="#2a2a2a" stroke-width="1.1"/>
<text x="435.50" y="140.80" font-size="8.0" stroke="#222" stroke-width="0.22" text-anchor="end" fill="#222">E2F1</text>
<g clip-path="url(#cp13)"><rect x="439.00" y="148.30" width="65.50" height="15.70" fill="#f2f2f2"/><rect x="439.05" y="153.90" width="15.50" height="4.20" rx="2.10" fill="#0a0a0a" fill-opacity="0.16" filter="url(#bl2)"/><rect x="439.55" y="154.90" width="14.50" height="2.20" rx="1.10" fill="#0a0a0a" fill-opacity="0.90" filter="url(#bl)"/><rect x="454.75" y="153.80" width="15.50" height="5.40" rx="2.50" fill="#0a0a0a" fill-opacity="0.18" filter="url(#bl2)"/><rect x="455.25" y="154.80" width="14.50" height="3.40" rx="1.50" fill="#0a0a0a" fill-opacity="1.00" filter="url(#bl)"/><rect x="471.55" y="153.60" width="15.50" height="4.20" rx="2.10" fill="#0a0a0a" fill-opacity="0.15" filter="url(#bl2)"/><rect x="472.05" y="154.60" width="14.50" height="2.20" rx="1.10" fill="#0a0a0a" fill-opacity="0.85" filter="url(#bl)"/><rect x="487.65" y="153.60" width="15.50" height="4.80" rx="2.40" fill="#0a0a0a" fill-opacity="0.17" filter="url(#bl2)"/><rect x="488.15" y="154.60" width="14.50" height="2.80" rx="1.40" fill="#0a0a0a" fill-opacity="0.95" filter="url(#bl)"/></g>
<rect x="439.45" y="148.75" width="64.60" height="14.80" rx="1.1" fill="none" stroke="#2a2a2a" stroke-width="1.1"/>
<text x="435.50" y="158.85" font-size="8.0" stroke="#222" stroke-width="0.22" text-anchor="end" fill="#222">RRM2</text>
<g clip-path="url(#cp14)"><rect x="439.00" y="166.60" width="65.50" height="12.60" fill="#e6e6e6"/><rect x="439.05" y="171.80" width="15.50" height="4.60" rx="2.30" fill="#0a0a0a" fill-opacity="0.17" filter="url(#bl2)"/><rect x="439.55" y="172.80" width="14.50" height="2.60" rx="1.30" fill="#0a0a0a" fill-opacity="0.95" filter="url(#bl)"/><rect x="454.75" y="171.80" width="15.50" height="4.60" rx="2.30" fill="#0a0a0a" fill-opacity="0.17" filter="url(#bl2)"/><rect x="455.25" y="172.80" width="14.50" height="2.60" rx="1.30" fill="#0a0a0a" fill-opacity="0.95" filter="url(#bl)"/><rect x="471.55" y="171.80" width="15.50" height="4.60" rx="2.30" fill="#0a0a0a" fill-opacity="0.17" filter="url(#bl2)"/><rect x="472.05" y="172.80" width="14.50" height="2.60" rx="1.30" fill="#0a0a0a" fill-opacity="0.95" filter="url(#bl)"/><rect x="487.65" y="171.70" width="15.50" height="4.80" rx="2.40" fill="#0a0a0a" fill-opacity="0.17" filter="url(#bl2)"/><rect x="488.15" y="172.70" width="14.50" height="2.80" rx="1.40" fill="#0a0a0a" fill-opacity="0.95" filter="url(#bl)"/></g>
<rect x="439.45" y="167.05" width="64.60" height="11.70" rx="1.1" fill="none" stroke="#2a2a2a" stroke-width="1.1"/>
<text x="435.50" y="175.60" font-size="8.0" stroke="#222" stroke-width="0.22" text-anchor="end" fill="#222">GAPDH</text>
<text x="266.50" y="210.10" font-size="8.2" stroke="#222" stroke-width="0.22" textLength="18.50" lengthAdjust="spacingAndGlyphs" fill="#222">U937</text>
<text x="299.60" y="210.10" font-size="8.2" stroke="#222" stroke-width="0.22" textLength="18.40" lengthAdjust="spacingAndGlyphs" fill="#222">THP1</text>
<line x1="261.20" y1="212.80" x2="290.70" y2="212.80" stroke="#333" stroke-width="0.8" />
<line x1="294.20" y1="212.80" x2="323.50" y2="212.80" stroke="#333" stroke-width="0.8" />
<text x="256.00" y="221.00" font-size="7.8" stroke="#222" stroke-width="0.22" text-anchor="end" textLength="20.20" lengthAdjust="spacingAndGlyphs" fill="#222">Ara-C</text>
<text x="268.50" y="221.00" font-size="7.6" stroke="#222" stroke-width="0.22" text-anchor="middle" fill="#222">–</text>
<text x="284.20" y="221.00" font-size="7.6" stroke="#222" stroke-width="0.22" text-anchor="middle" fill="#222">+</text>
<text x="300.40" y="221.00" font-size="7.6" stroke="#222" stroke-width="0.22" text-anchor="middle" fill="#222">–</text>
<text x="316.20" y="221.00" font-size="7.6" stroke="#222" stroke-width="0.22" text-anchor="middle" fill="#222">+</text>
<g clip-path="url(#cp15)"><rect x="259.30" y="223.50" width="65.70" height="13.90" fill="#f8f8f8"/><rect x="292.90" y="228.90" width="15.00" height="4.60" rx="2.30" fill="#0a0a0a" fill-opacity="0.17" filter="url(#bl2)"/><rect x="293.40" y="229.90" width="14.00" height="2.60" rx="1.30" fill="#0a0a0a" fill-opacity="0.95" filter="url(#bl)"/><rect x="308.70" y="228.90" width="15.00" height="4.60" rx="2.30" fill="#0a0a0a" fill-opacity="0.17" filter="url(#bl2)"/><rect x="309.20" y="229.90" width="14.00" height="2.60" rx="1.30" fill="#0a0a0a" fill-opacity="0.95" filter="url(#bl)"/></g>
<rect x="259.75" y="223.95" width="64.80" height="13.00" rx="1.1" fill="none" stroke="#2a2a2a" stroke-width="1.1"/>
<text x="256.00" y="233.15" font-size="8.0" stroke="#222" stroke-width="0.22" text-anchor="end" fill="#222">SAMHD1</text>
<g clip-path="url(#cp16)"><rect x="259.30" y="239.60" width="65.70" height="12.10" fill="url(#cp16g)"/><rect x="260.75" y="246.00" width="15.50" height="4.60" rx="2.30" fill="#0a0a0a" fill-opacity="0.16" filter="url(#bl2)"/><rect x="261.25" y="247.00" width="14.50" height="2.60" rx="1.30" fill="#0a0a0a" fill-opacity="0.90" filter="url(#bl)"/><rect x="276.45" y="246.00" width="15.50" height="4.60" rx="2.30" fill="#0a0a0a" fill-opacity="0.16" filter="url(#bl2)"/><rect x="276.95" y="247.00" width="14.50" height="2.60" rx="1.30" fill="#0a0a0a" fill-opacity="0.90" filter="url(#bl)"/><rect x="292.65" y="246.00" width="15.50" height="4.60" rx="2.30" fill="#0a0a0a" fill-opacity="0.16" filter="url(#bl2)"/><rect x="293.15" y="247.00" width="14.50" height="2.60" rx="1.30" fill="#0a0a0a" fill-opacity="0.90" filter="url(#bl)"/><rect x="308.45" y="246.00" width="15.50" height="4.60" rx="2.30" fill="#0a0a0a" fill-opacity="0.17" filter="url(#bl2)"/><rect x="308.95" y="247.00" width="14.50" height="2.60" rx="1.30" fill="#0a0a0a" fill-opacity="0.92" filter="url(#bl)"/></g>
<rect x="259.75" y="240.05" width="64.80" height="11.20" rx="1.1" fill="none" stroke="#2a2a2a" stroke-width="1.1"/>
<text x="256.00" y="248.35" font-size="8.0" stroke="#222" stroke-width="0.22" text-anchor="end" fill="#222">RRM1</text>
<g clip-path="url(#cp17)"><rect x="259.30" y="253.50" width="65.70" height="14.70" fill="#f6f6f6"/><rect x="261.00" y="260.10" width="15.00" height="3.80" rx="1.90" fill="#0a0a0a" fill-opacity="0.04" filter="url(#bl2)"/><rect x="261.50" y="261.10" width="14.00" height="1.80" rx="0.90" fill="#0a0a0a" fill-opacity="0.20" filter="url(#bl)"/><rect x="276.70" y="259.20" width="15.00" height="5.60" rx="2.50" fill="#0a0a0a" fill-opacity="0.18" filter="url(#bl2)"/><rect x="277.20" y="260.20" width="14.00" height="3.60" rx="1.50" fill="#0a0a0a" fill-opacity="1.00" filter="url(#bl)"/><rect x="292.90" y="260.20" width="15.00" height="3.60" rx="1.80" fill="#0a0a0a" fill-opacity="0.03" filter="url(#bl2)"/><rect x="293.40" y="261.20" width="14.00" height="1.60" rx="0.80" fill="#0a0a0a" fill-opacity="0.18" filter="url(#bl)"/><rect x="308.70" y="259.80" width="15.00" height="4.40" rx="2.20" fill="#0a0a0a" fill-opacity="0.10" filter="url(#bl2)"/><rect x="309.20" y="260.80" width="14.00" height="2.40" rx="1.20" fill="#0a0a0a" fill-opacity="0.55" filter="url(#bl)"/></g>
<rect x="259.75" y="253.95" width="64.80" height="13.80" rx="1.1" fill="none" stroke="#2a2a2a" stroke-width="1.1"/>
<text x="256.00" y="263.55" font-size="8.0" stroke="#222" stroke-width="0.22" text-anchor="end" fill="#222">RRM2</text>
<g clip-path="url(#cp18)"><rect x="259.30" y="270.40" width="65.70" height="9.80" fill="#f4f4f4"/><rect x="276.70" y="273.50" width="15.00" height="4.60" rx="2.30" fill="#0a0a0a" fill-opacity="0.18" filter="url(#bl2)"/><rect x="277.20" y="274.50" width="14.00" height="2.60" rx="1.30" fill="#0a0a0a" fill-opacity="1.00" filter="url(#bl)"/><rect x="292.90" y="274.20" width="15.00" height="3.20" rx="1.60" fill="#0a0a0a" fill-opacity="0.09" filter="url(#bl2)"/><rect x="293.40" y="275.20" width="14.00" height="1.20" rx="0.60" fill="#0a0a0a" fill-opacity="0.50" filter="url(#bl)"/><rect x="308.70" y="273.70" width="15.00" height="4.20" rx="2.10" fill="#0a0a0a" fill-opacity="0.14" filter="url(#bl2)"/><rect x="309.20" y="274.70" width="14.00" height="2.20" rx="1.10" fill="#0a0a0a" fill-opacity="0.75" filter="url(#bl)"/></g>
<rect x="259.75" y="270.85" width="64.80" height="8.90" rx="1.1" fill="none" stroke="#2a2a2a" stroke-width="1.1"/>
<text x="256.00" y="278.00" font-size="8.0" stroke="#222" stroke-width="0.22" text-anchor="end" fill="#222">p-CHK1</text>
<g clip-path="url(#cp19)"><rect x="259.30" y="282.20" width="65.70" height="14.40" fill="#e4e4e4"/><rect x="261.00" y="286.70" width="15.00" height="4.20" rx="2.10" fill="#0a0a0a" fill-opacity="0.08" filter="url(#bl2)"/><rect x="261.50" y="287.70" width="14.00" height="2.20" rx="1.10" fill="#0a0a0a" fill-opacity="0.45" filter="url(#bl)"/><rect x="276.70" y="286.30" width="15.00" height="5.00" rx="2.50" fill="#0a0a0a" fill-opacity="0.18" filter="url(#bl2)"/><rect x="277.20" y="287.30" width="14.00" height="3.00" rx="1.50" fill="#0a0a0a" fill-opacity="1.00" filter="url(#bl)"/><rect x="292.90" y="286.60" width="15.00" height="4.40" rx="2.20" fill="#0a0a0a" fill-opacity="0.14" filter="url(#bl2)"/><rect x="293.40" y="287.60" width="14.00" height="2.40" rx="1.20" fill="#0a0a0a" fill-opacity="0.75" filter="url(#bl)"/><rect x="308.70" y="286.60" width="15.00" height="4.40" rx="2.20" fill="#0a0a0a" fill-opacity="0.14" filter="url(#bl2)"/><rect x="309.20" y="287.60" width="14.00" height="2.40" rx="1.20" fill="#0a0a0a" fill-opacity="0.80" filter="url(#bl)"/></g>
<rect x="259.75" y="282.65" width="64.80" height="13.50" rx="1.1" fill="none" stroke="#2a2a2a" stroke-width="1.1"/>
<text x="256.00" y="292.10" font-size="8.0" stroke="#222" stroke-width="0.22" text-anchor="end" fill="#222">p-H2AX</text>
<g clip-path="url(#cp20)"><rect x="259.30" y="299.20" width="65.70" height="10.50" fill="#c9c9c9"/><rect x="261.00" y="302.20" width="15.00" height="4.00" rx="2.00" fill="#0a0a0a" fill-opacity="0.02" filter="url(#bl2)"/><rect x="261.50" y="303.20" width="14.00" height="2.00" rx="1.00" fill="#0a0a0a" fill-opacity="0.12" filter="url(#bl)"/><rect x="276.70" y="301.90" width="15.00" height="4.60" rx="2.30" fill="#0a0a0a" fill-opacity="0.08" filter="url(#bl2)"/><rect x="277.20" y="302.90" width="14.00" height="2.60" rx="1.30" fill="#0a0a0a" fill-opacity="0.45" filter="url(#bl)"/><rect x="292.90" y="302.40" width="15.00" height="3.60" rx="1.80" fill="#0a0a0a" fill-opacity="0.01" filter="url(#bl2)"/><rect x="293.40" y="303.40" width="14.00" height="1.60" rx="0.80" fill="#0a0a0a" fill-opacity="0.06" filter="url(#bl)"/><rect x="308.70" y="302.10" width="15.00" height="4.20" rx="2.10" fill="#0a0a0a" fill-opacity="0.05" filter="url(#bl2)"/><rect x="309.20" y="303.10" width="14.00" height="2.20" rx="1.10" fill="#0a0a0a" fill-opacity="0.30" filter="url(#bl)"/></g>
<rect x="259.75" y="299.65" width="64.80" height="9.60" rx="1.1" fill="none" stroke="#2a2a2a" stroke-width="1.1"/>
<text x="256.00" y="307.15" font-size="8.0" stroke="#222" stroke-width="0.22" text-anchor="end" fill="#222">E2F1</text>
<g clip-path="url(#cp21)"><rect x="259.30" y="311.60" width="65.70" height="13.80" fill="#ebebeb"/><rect x="260.50" y="317.30" width="16.00" height="4.60" rx="2.30" fill="#0a0a0a" fill-opacity="0.17" filter="url(#bl2)"/><rect x="261.00" y="318.30" width="15.00" height="2.60" rx="1.30" fill="#0a0a0a" fill-opacity="0.95" filter="url(#bl)"/><rect x="276.20" y="317.30" width="16.00" height="4.60" rx="2.30" fill="#0a0a0a" fill-opacity="0.17" filter="url(#bl2)"/><rect x="276.70" y="318.30" width="15.00" height="2.60" rx="1.30" fill="#0a0a0a" fill-opacity="0.95" filter="url(#bl)"/><rect x="292.40" y="317.30" width="16.00" height="4.60" rx="2.30" fill="#0a0a0a" fill-opacity="0.17" filter="url(#bl2)"/><rect x="292.90" y="318.30" width="15.00" height="2.60" rx="1.30" fill="#0a0a0a" fill-opacity="0.95" filter="url(#bl)"/><rect x="308.20" y="317.30" width="16.00" height="4.60" rx="2.30" fill="#0a0a0a" fill-opacity="0.17" filter="url(#bl2)"/><rect x="308.70" y="318.30" width="15.00" height="2.60" rx="1.30" fill="#0a0a0a" fill-opacity="0.95" filter="url(#bl)"/></g>
<rect x="259.75" y="312.05" width="64.80" height="12.90" rx="1.1" fill="none" stroke="#2a2a2a" stroke-width="1.1"/>
<text x="256.00" y="321.20" font-size="8.0" stroke="#222" stroke-width="0.22" text-anchor="end" fill="#222">GAPDH</text>
<text x="298.00" y="18.60" font-size="8.4" stroke="#222" stroke-width="0.22" textLength="15.30" lengthAdjust="spacingAndGlyphs" fill="#222">VEH</text>
<text x="343.10" y="18.60" font-size="8.4" stroke="#222" stroke-width="0.22" textLength="14.20" lengthAdjust="spacingAndGlyphs" fill="#222">NEL</text>
<text x="281.00" y="46.00" font-size="8.3" stroke="#222" stroke-width="0.22" text-anchor="end" textLength="21.40" lengthAdjust="spacingAndGlyphs" fill="#222">RRM2</text>
<text x="281.00" y="91.40" font-size="8.3" stroke="#222" stroke-width="0.22" text-anchor="end" textLength="17.90" lengthAdjust="spacingAndGlyphs" fill="#222">DAPI</text>
<text x="281.00" y="137.80" font-size="8.3" stroke="#222" stroke-width="0.22" text-anchor="end" textLength="22.80" lengthAdjust="spacingAndGlyphs" fill="#222">Merge</text>
<g clip-path="url(#mc1)"><rect x="284.0" y="21.0" width="43.0" height="44.0" fill="#040607"/><ellipse cx="297.1" cy="33.5" rx="5.9" ry="5.6" fill="#0a1d0e" stroke="#123616" stroke-width="1.1" filter="url(#org)"/><ellipse cx="321.3" cy="27.2" rx="6.0" ry="5.8" fill="#0a1d0e" stroke="#123616" stroke-width="1.1" filter="url(#org)"/><ellipse cx="306.6" cy="52.4" rx="5.8" ry="5.7" fill="#0a1d0e" stroke="#123616" stroke-width="1.1" filter="url(#org)"/><ellipse cx="321.0" cy="52.4" rx="5.4" ry="5.7" fill="#0a1d0e" stroke="#123616" stroke-width="1.1" filter="url(#org)"/><circle cx="318.3" cy="54.6" r="0.7" fill="#3aa040"/><rect x="322.0" y="62.2" width="2.6" height="1.1" fill="#d0d0d0"/></g>
<rect x="284.2" y="21.2" width="42.6" height="43.6" fill="none" stroke="#666" stroke-width="0.4"/>
<g clip-path="url(#mc2)"><rect x="328.5" y="21.0" width="43.0" height="44.0" fill="#040607"/><ellipse cx="360.8" cy="35.0" rx="10.3" ry="11.8" fill="#124c18" filter="url(#org2)"/><ellipse cx="360.8" cy="35.0" rx="9.8" ry="11.3" fill="#3fae45" filter="url(#mot)" opacity="0.35"/><ellipse cx="361.40000000000003" cy="34.4" rx="6.386" ry="6.844" fill="#071509" filter="url(#cb2)" opacity="0.8"/><ellipse cx="360.9" cy="25.8" rx="2.4" ry="1.1" fill="#5ccc58" opacity="0.75" filter="url(#cb1)"/><ellipse cx="341.4" cy="54.3" rx="10.3" ry="9.4" fill="#124c18" filter="url(#org2)"/><ellipse cx="341.4" cy="54.3" rx="9.8" ry="8.9" fill="#3fae45" filter="url(#mot)" opacity="0.35"/><ellipse cx="342.0" cy="53.699999999999996" rx="6.386" ry="5.452" fill="#071509" filter="url(#cb2)" opacity="0.8"/><ellipse cx="338.6" cy="52.0" rx="1.5" ry="1.1" fill="#5ccc58" opacity="0.75" filter="url(#cb1)"/><path d="M351.2,33.0 Q350.5,42.0 355,45.5 Q361,47.8 367,44.0" fill="none" stroke="#2c9032" stroke-width="1.6" filter="url(#org)"/><path d="M332,50.0 Q331,61.0 340,63.5 Q348,64.0 351,57.0" fill="none" stroke="#25802b" stroke-width="1.3" filter="url(#org)"/><ellipse cx="361" cy="55.0" rx="7" ry="6" fill="none" stroke="#0b1d0d" stroke-width="1.2" filter="url(#cb2)"/><rect x="366.5" y="62.2" width="2.6" height="1.1" fill="#d0d0d0"/></g>
<rect x="328.7" y="21.2" width="42.6" height="43.6" fill="none" stroke="#666" stroke-width="0.4"/>
<g clip-path="url(#mc3)"><rect x="284.0" y="67.0" width="43.0" height="44.0" fill="#040607"/><ellipse cx="298.0" cy="79.7" rx="5.2" ry="5.5" fill="url(#nuc)" filter="url(#org)"/><ellipse cx="298.0" cy="79.7" rx="4.680000000000001" ry="4.95" fill="#15154a" filter="url(#mot)" opacity="0.8"/><ellipse cx="321.3" cy="72.9" rx="5.4" ry="5.5" fill="url(#nuc)" filter="url(#org)"/><ellipse cx="321.3" cy="72.9" rx="4.86" ry="4.95" fill="#15154a" filter="url(#mot)" opacity="0.8"/><ellipse cx="307.0" cy="98.2" rx="5.5" ry="5.8" fill="url(#nuc)" filter="url(#org)"/><ellipse cx="307.0" cy="98.2" rx="4.95" ry="5.22" fill="#15154a" filter="url(#mot)" opacity="0.8"/><ellipse cx="320.9" cy="98.4" rx="5.0" ry="5.5" fill="url(#nuc)" filter="url(#org)"/><ellipse cx="320.9" cy="98.4" rx="4.5" ry="4.95" fill="#15154a" filter="url(#mot)" opacity="0.8"/><rect x="322.0" y="108.2" width="2.6" height="1.1" fill="#d0d0d0"/></g>
<rect x="284.2" y="67.2" width="42.6" height="43.6" fill="none" stroke="#666" stroke-width="0.4"/>
<g clip-path="url(#mc4)"><rect x="328.5" y="67.0" width="43.0" height="44.0" fill="#040607"/><ellipse cx="360.8" cy="79.2" rx="7.3" ry="6.5" fill="url(#nuc)" filter="url(#org)"/><ellipse cx="360.8" cy="79.2" rx="6.57" ry="5.8500000000000005" fill="#15154a" filter="url(#mot)" opacity="0.6"/><ellipse cx="340.8" cy="100.2" rx="7.5" ry="7.6" fill="url(#nuc)" filter="url(#org)"/><ellipse cx="340.8" cy="100.2" rx="6.75" ry="6.84" fill="#15154a" filter="url(#mot)" opacity="0.6"/><circle cx="344.2" cy="108.6" r="0.9" fill="#3434b8" filter="url(#cb1)"/><rect x="366.5" y="108.2" width="2.6" height="1.1" fill="#d0d0d0"/></g>
<rect x="328.7" y="67.2" width="42.6" height="43.6" fill="none" stroke="#666" stroke-width="0.4"/>
<g clip-path="url(#mc5)"><rect x="284.0" y="113.0" width="43.0" height="44.0" fill="#040607"/><ellipse cx="297.1" cy="125.5" rx="5.9" ry="5.6" fill="#0a1d0e" stroke="#123616" stroke-width="1.1" filter="url(#org)"/><ellipse cx="321.3" cy="119.2" rx="6.0" ry="5.8" fill="#0a1d0e" stroke="#123616" stroke-width="1.1" filter="url(#org)"/><ellipse cx="306.6" cy="144.4" rx="5.8" ry="5.7" fill="#0a1d0e" stroke="#123616" stroke-width="1.1" filter="url(#org)"/><ellipse cx="321.0" cy="144.4" rx="5.4" ry="5.7" fill="#0a1d0e" stroke="#123616" stroke-width="1.1" filter="url(#org)"/><circle cx="318.3" cy="146.6" r="0.7" fill="#3aa040"/><ellipse cx="298.0" cy="125.7" rx="5.2" ry="5.5" fill="url(#nuc)" filter="url(#org)"/><ellipse cx="298.0" cy="125.7" rx="4.680000000000001" ry="4.95" fill="#15154a" filter="url(#mot)" opacity="0.8"/><ellipse cx="321.3" cy="118.9" rx="5.4" ry="5.5" fill="url(#nuc)" filter="url(#org)"/><ellipse cx="321.3" cy="118.9" rx="4.86" ry="4.95" fill="#15154a" filter="url(#mot)" opacity="0.8"/><ellipse cx="307.0" cy="144.2" rx="5.5" ry="5.8" fill="url(#nuc)" filter="url(#org)"/><ellipse cx="307.0" cy="144.2" rx="4.95" ry="5.22" fill="#15154a" filter="url(#mot)" opacity="0.8"/><ellipse cx="320.9" cy="144.4" rx="5.0" ry="5.5" fill="url(#nuc)" filter="url(#org)"/><ellipse cx="320.9" cy="144.4" rx="4.5" ry="4.95" fill="#15154a" filter="url(#mot)" opacity="0.8"/><rect x="322.0" y="154.2" width="2.6" height="1.1" fill="#d0d0d0"/></g>
<rect x="284.2" y="113.2" width="42.6" height="43.6" fill="none" stroke="#666" stroke-width="0.4"/>
<g clip-path="url(#mc6)"><rect x="328.5" y="113.0" width="43.0" height="44.0" fill="#040607"/><ellipse cx="360.8" cy="127.0" rx="10.3" ry="11.8" fill="#124c18" filter="url(#org2)"/><ellipse cx="360.8" cy="127.0" rx="9.8" ry="11.3" fill="#3fae45" filter="url(#mot)" opacity="0.35"/><ellipse cx="361.40000000000003" cy="126.4" rx="6.386" ry="6.844" fill="#071509" filter="url(#cb2)" opacity="0.8"/><ellipse cx="360.9" cy="117.8" rx="2.4" ry="1.1" fill="#5ccc58" opacity="0.75" filter="url(#cb1)"/><ellipse cx="341.4" cy="146.3" rx="10.3" ry="9.4" fill="#124c18" filter="url(#org2)"/><ellipse cx="341.4" cy="146.3" rx="9.8" ry="8.9" fill="#3fae45" filter="url(#mot)" opacity="0.35"/><ellipse cx="342.0" cy="145.70000000000002" rx="6.386" ry="5.452" fill="#071509" filter="url(#cb2)" opacity="0.8"/><ellipse cx="338.6" cy="144.0" rx="1.5" ry="1.1" fill="#5ccc58" opacity="0.75" filter="url(#cb1)"/><path d="M351.2,125.0 Q350.5,134.0 355,137.5 Q361,139.8 367,136.0" fill="none" stroke="#2c9032" stroke-width="1.6" filter="url(#org)"/><path d="M332,142.0 Q331,153.0 340,155.5 Q348,156.0 351,149.0" fill="none" stroke="#25802b" stroke-width="1.3" filter="url(#org)"/><ellipse cx="361" cy="147.0" rx="7" ry="6" fill="none" stroke="#0b1d0d" stroke-width="1.2" filter="url(#cb2)"/><ellipse cx="360.8" cy="125.2" rx="7.3" ry="6.5" fill="url(#nucm)" filter="url(#org)"/><ellipse cx="360.8" cy="125.2" rx="6.57" ry="5.8500000000000005" fill="#15154a" filter="url(#mot)" opacity="0.6"/><ellipse cx="340.8" cy="146.2" rx="7.5" ry="7.6" fill="url(#nucm)" filter="url(#org)"/><ellipse cx="340.8" cy="146.2" rx="6.75" ry="6.84" fill="#15154a" filter="url(#mot)" opacity="0.6"/><circle cx="344.2" cy="154.6" r="0.9" fill="#3434b8" filter="url(#cb1)"/><ellipse cx="361.5" cy="117.7" rx="2.0" ry="1.1" fill="#4cc04c" filter="url(#cb1)"/><ellipse cx="338.6" cy="143.9" rx="1.6" ry="1.2" fill="#58d058" opacity="0.85" filter="url(#cb1)"/><rect x="366.5" y="154.2" width="2.6" height="1.1" fill="#d0d0d0"/></g>
<rect x="328.7" y="113.2" width="42.6" height="43.6" fill="none" stroke="#666" stroke-width="0.4"/>
<text x="64.70" y="218.90" font-size="9.0" stroke="#222" stroke-width="0.22" textLength="53.80" lengthAdjust="spacingAndGlyphs" fill="#222">CTRP (n=57)</text>
<line x1="42.00" y1="219.20" x2="42.00" y2="322.30" stroke="#2b2b2b" stroke-width="1.2" />
<line x1="41.40" y1="270.60" x2="139.60" y2="270.60" stroke="#2b2b2b" stroke-width="1.2" />
<line x1="39.20" y1="222.40" x2="42.00" y2="222.40" stroke="#2b2b2b" stroke-width="0.9" />
<text x="36.60" y="225.00" font-size="7.3" stroke="#222" stroke-width="0.22" text-anchor="end" fill="#222">10</text>
<line x1="39.20" y1="246.50" x2="42.00" y2="246.50" stroke="#2b2b2b" stroke-width="0.9" />
<text x="36.60" y="249.10" font-size="7.3" stroke="#222" stroke-width="0.22" text-anchor="end" fill="#222">5</text>
<line x1="39.20" y1="270.60" x2="42.00" y2="270.60" stroke="#2b2b2b" stroke-width="0.9" />
<text x="36.60" y="273.20" font-size="7.3" stroke="#222" stroke-width="0.22" text-anchor="end" fill="#222">0</text>
<line x1="39.20" y1="294.70" x2="42.00" y2="294.70" stroke="#2b2b2b" stroke-width="0.9" />
<text x="36.60" y="297.30" font-size="7.3" stroke="#222" stroke-width="0.22" text-anchor="end" fill="#222">−5</text>
<line x1="39.20" y1="318.80" x2="42.00" y2="318.80" stroke="#2b2b2b" stroke-width="0.9" />
<text x="36.60" y="321.40" font-size="7.3" stroke="#222" stroke-width="0.22" text-anchor="end" fill="#222">−10</text>
<line x1="65.10" y1="270.60" x2="65.10" y2="272.40" stroke="#2b2b2b" stroke-width="0.8" />
<text x="65.10" y="283.10" font-size="7.3" stroke="#222" stroke-width="0.22" text-anchor="middle" fill="#222">5</text>
<line x1="88.00" y1="270.60" x2="88.00" y2="272.40" stroke="#2b2b2b" stroke-width="0.8" />
<text x="88.00" y="283.10" font-size="7.3" stroke="#222" stroke-width="0.22" text-anchor="middle" fill="#222">10</text>
<line x1="110.90" y1="270.60" x2="110.90" y2="272.40" stroke="#2b2b2b" stroke-width="0.8" />
<text x="110.90" y="283.10" font-size="7.3" stroke="#222" stroke-width="0.22" text-anchor="middle" fill="#222">15</text>
<line x1="133.80" y1="270.60" x2="133.80" y2="272.40" stroke="#2b2b2b" stroke-width="0.8" />
<text x="133.80" y="283.10" font-size="7.3" stroke="#222" stroke-width="0.22" text-anchor="middle" fill="#222">20</text>
<text x="74.30" y="297.60" font-size="8.0" stroke="#222" stroke-width="0.22" textLength="33.70" lengthAdjust="spacingAndGlyphs" fill="#222">NEL AUC</text>
<text x="22.20" y="271.60" font-size="8.1" stroke="#222" stroke-width="0.22" text-anchor="middle" textLength="58.20" lengthAdjust="spacingAndGlyphs" fill="#222" transform="rotate(-90 22.20 271.60)">mRNA expression</text>
<path d="M75.20,237.30 L100.00,240.50 L124.20,243.00" fill="none" stroke="#555" stroke-width="0.6" stroke-linejoin="round" />
<path d="M75.20,240.30 L100.00,242.30 L124.20,245.60" fill="none" stroke="#555" stroke-width="0.6" stroke-linejoin="round" />
<circle cx="90.47" cy="240.82" r="1.15" fill="#115284"/>
<circle cx="114.25" cy="244.38" r="1.15" fill="#115284"/>
<circle cx="101.73" cy="242.87" r="1.15" fill="#115284"/>
<circle cx="104.61" cy="242.25" r="1.15" fill="#115284"/>
<circle cx="122.50" cy="242.73" r="1.15" fill="#115284"/>
<circle cx="86.60" cy="238.23" r="1.15" fill="#115284"/>
<circle cx="120.71" cy="244.51" r="1.15" fill="#115284"/>
<circle cx="110.58" cy="242.22" r="1.15" fill="#115284"/>
<circle cx="80.88" cy="240.77" r="1.15" fill="#115284"/>
<circle cx="89.30" cy="242.79" r="1.15" fill="#115284"/>
<circle cx="115.57" cy="244.92" r="1.15" fill="#115284"/>
<circle cx="97.19" cy="238.29" r="1.15" fill="#115284"/>
<circle cx="86.77" cy="239.64" r="1.15" fill="#115284"/>
<circle cx="109.26" cy="244.10" r="1.15" fill="#115284"/>
<circle cx="83.38" cy="246.56" r="1.15" fill="#115284"/>
<circle cx="118.98" cy="245.26" r="1.15" fill="#115284"/>
<circle cx="113.97" cy="239.90" r="1.15" fill="#115284"/>
<circle cx="122.77" cy="237.68" r="1.15" fill="#115284"/>
<circle cx="124.15" cy="247.83" r="1.15" fill="#115284"/>
<circle cx="117.02" cy="245.74" r="1.15" fill="#115284"/>
<circle cx="83.90" cy="241.88" r="1.15" fill="#115284"/>
<circle cx="97.22" cy="242.02" r="1.15" fill="#115284"/>
<circle cx="84.32" cy="237.29" r="1.15" fill="#115284"/>
<circle cx="121.14" cy="245.99" r="1.15" fill="#115284"/>
<circle cx="116.87" cy="237.42" r="1.15" fill="#115284"/>
<circle cx="99.13" cy="238.40" r="1.15" fill="#115284"/>
<circle cx="89.88" cy="235.75" r="1.15" fill="#115284"/>
<circle cx="83.85" cy="241.39" r="1.15" fill="#115284"/>
<circle cx="80.90" cy="241.96" r="1.15" fill="#115284"/>
<circle cx="113.32" cy="240.11" r="1.15" fill="#115284"/>
<circle cx="114.63" cy="243.74" r="1.15" fill="#115284"/>
<circle cx="99.00" cy="239.63" r="1.15" fill="#115284"/>
<circle cx="117.40" cy="241.47" r="1.15" fill="#115284"/>
<circle cx="117.57" cy="239.95" r="1.15" fill="#115284"/>
<circle cx="110.98" cy="243.23" r="1.15" fill="#115284"/>
<circle cx="114.77" cy="242.37" r="1.15" fill="#115284"/>
<circle cx="122.79" cy="240.94" r="1.15" fill="#115284"/>
<circle cx="99.32" cy="246.41" r="1.15" fill="#115284"/>
<circle cx="103.51" cy="242.96" r="1.15" fill="#115284"/>
<circle cx="110.20" cy="238.11" r="1.15" fill="#115284"/>
<circle cx="114.83" cy="248.80" r="1.15" fill="#115284"/>
<circle cx="89.89" cy="244.06" r="1.15" fill="#115284"/>
<circle cx="116.92" cy="241.96" r="1.15" fill="#115284"/>
<circle cx="120.01" cy="241.63" r="1.15" fill="#115284"/>
<circle cx="111.21" cy="245.75" r="1.15" fill="#115284"/>
<circle cx="115.91" cy="241.60" r="1.15" fill="#115284"/>
<circle cx="97.89" cy="247.06" r="1.15" fill="#115284"/>
<circle cx="107.98" cy="244.48" r="1.15" fill="#115284"/>
<circle cx="111.64" cy="248.29" r="1.15" fill="#115284"/>
<circle cx="92.38" cy="238.72" r="1.15" fill="#115284"/>
<circle cx="118.86" cy="245.40" r="1.15" fill="#115284"/>
<circle cx="85.60" cy="245.58" r="1.15" fill="#115284"/>
<circle cx="96.37" cy="242.09" r="1.15" fill="#115284"/>
<circle cx="113.64" cy="245.12" r="1.15" fill="#115284"/>
<circle cx="123.68" cy="248.45" r="1.15" fill="#115284"/>
<circle cx="111.56" cy="240.67" r="1.15" fill="#115284"/>
<circle cx="110.37" cy="242.43" r="1.15" fill="#115284"/>
<path d="M75.20,238.70 L124.20,244.40" fill="none" stroke="#115284" stroke-width="1.6" stroke-linejoin="round" />
<circle cx="111.50" cy="236.30" r="1.15" fill="#c51330"/>
<circle cx="103.20" cy="243.30" r="1.15" fill="#c51330"/>
<circle cx="109.80" cy="246.20" r="1.15" fill="#c51330"/>
<circle cx="111.50" cy="249.00" r="1.15" fill="#c51330"/>
<circle cx="117.10" cy="249.00" r="1.15" fill="#c51330"/>
<circle cx="94.20" cy="258.30" r="1.15" fill="#c51330"/>
<circle cx="99.40" cy="261.20" r="1.15" fill="#c51330"/>
<circle cx="88.50" cy="264.30" r="1.15" fill="#c51330"/>
<circle cx="79.50" cy="265.40" r="1.15" fill="#c51330"/>
<circle cx="78.30" cy="269.80" r="1.15" fill="#c51330"/>
<circle cx="104.60" cy="267.50" r="1.15" fill="#c51330"/>
<circle cx="109.80" cy="269.20" r="1.15" fill="#c51330"/>
<circle cx="116.70" cy="264.60" r="1.15" fill="#c51330"/>
<circle cx="121.90" cy="266.70" r="1.15" fill="#c51330"/>
<circle cx="123.30" cy="263.50" r="1.15" fill="#c51330"/>
<circle cx="75.80" cy="277.30" r="1.15" fill="#c51330"/>
<circle cx="80.40" cy="280.80" r="1.15" fill="#c51330"/>
<circle cx="88.50" cy="281.30" r="1.15" fill="#c51330"/>
<circle cx="93.70" cy="282.50" r="1.15" fill="#c51330"/>
<circle cx="96.30" cy="280.40" r="1.15" fill="#c51330"/>
<circle cx="100.90" cy="277.50" r="1.15" fill="#c51330"/>
<circle cx="105.80" cy="283.10" r="1.15" fill="#c51330"/>
<circle cx="100.60" cy="288.80" r="1.15" fill="#c51330"/>
<circle cx="81.00" cy="287.70" r="1.15" fill="#c51330"/>
<circle cx="107.50" cy="256.00" r="1.15" fill="#c51330"/>
<circle cx="110.40" cy="254.20" r="1.15" fill="#c51330"/>
<circle cx="113.80" cy="261.20" r="1.15" fill="#c51330"/>
<circle cx="118.20" cy="257.10" r="1.15" fill="#c51330"/>
<circle cx="120.80" cy="254.20" r="1.15" fill="#c51330"/>
<circle cx="123.10" cy="250.80" r="1.15" fill="#c51330"/>
<circle cx="75.40" cy="277.70" r="1.15" fill="#c51330"/>
<circle cx="88.50" cy="282.30" r="1.15" fill="#c51330"/>
<circle cx="93.50" cy="282.30" r="1.15" fill="#c51330"/>
<circle cx="105.40" cy="283.40" r="1.15" fill="#c51330"/>
<circle cx="80.80" cy="287.70" r="1.15" fill="#c51330"/>
<circle cx="100.00" cy="288.90" r="1.15" fill="#c51330"/>
<circle cx="86.00" cy="272.00" r="1.15" fill="#c51330"/>
<circle cx="92.00" cy="268.00" r="1.15" fill="#c51330"/>
<circle cx="97.00" cy="265.00" r="1.15" fill="#c51330"/>
<circle cx="102.00" cy="262.00" r="1.15" fill="#c51330"/>
<circle cx="106.00" cy="259.00" r="1.15" fill="#c51330"/>
<circle cx="112.00" cy="255.00" r="1.15" fill="#c51330"/>
<circle cx="115.00" cy="252.00" r="1.15" fill="#c51330"/>
<circle cx="119.00" cy="250.00" r="1.15" fill="#c51330"/>
<circle cx="122.00" cy="248.00" r="1.15" fill="#c51330"/>
<circle cx="90.00" cy="276.00" r="1.15" fill="#c51330"/>
<circle cx="84.00" cy="279.00" r="1.15" fill="#c51330"/>
<circle cx="108.00" cy="252.00" r="1.15" fill="#c51330"/>
<circle cx="113.00" cy="247.00" r="1.15" fill="#c51330"/>
<circle cx="117.00" cy="246.00" r="1.15" fill="#c51330"/>
<circle cx="121.00" cy="245.00" r="1.15" fill="#c51330"/>
<circle cx="96.00" cy="271.00" r="1.15" fill="#c51330"/>
<circle cx="100.00" cy="269.00" r="1.15" fill="#c51330"/>
<circle cx="110.00" cy="262.00" r="1.15" fill="#c51330"/>
<circle cx="114.00" cy="258.00" r="1.15" fill="#c51330"/>
<circle cx="104.00" cy="256.00" r="1.15" fill="#c51330"/>
<circle cx="98.00" cy="274.00" r="1.15" fill="#c51330"/>
<path d="M75.80,275.40 L100.00,259.60 L123.70,246.20" fill="none" stroke="#1a1a1a" stroke-width="0.7" stroke-linejoin="round" />
<path d="M75.80,288.40 L100.00,267.00 L123.70,254.30" fill="none" stroke="#1a1a1a" stroke-width="0.7" stroke-linejoin="round" />
<path d="M75.80,280.80 L123.70,250.80" fill="none" stroke="#c51330" stroke-width="1.4" stroke-linejoin="round" />
<line x1="154.60" y1="222.60" x2="162.80" y2="222.60" stroke="#3b6fa8" stroke-width="1.5" />
<text x="165.40" y="226.20" font-size="7.2" stroke="#222" stroke-width="0.22" textLength="19.50" lengthAdjust="spacingAndGlyphs" fill="#222">RRM2</text>
<text x="149.20" y="233.80" font-size="7.2" stroke="#222" stroke-width="0.22" textLength="57.30" lengthAdjust="spacingAndGlyphs" fill="#222">r=–0.38, <tspan font-style="italic">P</tspan>=0.003</text>
<line x1="154.60" y1="238.90" x2="162.80" y2="238.90" stroke="#d43a55" stroke-width="1.5" />
<text x="165.40" y="242.00" font-size="7.2" stroke="#222" stroke-width="0.22" textLength="29.20" lengthAdjust="spacingAndGlyphs" fill="#222">SAMHD1</text>
<text x="149.20" y="250.30" font-size="7.2" stroke="#222" stroke-width="0.22" textLength="53.60" lengthAdjust="spacingAndGlyphs" fill="#222">r=0.67, <tspan font-style="italic">P</tspan>&lt;0.001</text>
<text x="430.10" y="202.40" font-size="8.9" stroke="#222" stroke-width="0.22" textLength="21.20" lengthAdjust="spacingAndGlyphs" fill="#222">U937</text>
<line x1="402.10" y1="205.60" x2="480.20" y2="205.60" stroke="#222" stroke-width="0.9" />
<line x1="377.00" y1="216.90" x2="377.00" y2="306.60" stroke="#2b2b2b" stroke-width="1.2" />
<line x1="376.40" y1="306.10" x2="504.40" y2="306.10" stroke="#2b2b2b" stroke-width="1.2" />
<line x1="374.00" y1="221.00" x2="377.00" y2="221.00" stroke="#2b2b2b" stroke-width="0.9" />
<text x="371.40" y="223.80" font-size="7.8" stroke="#222" stroke-width="0.22" text-anchor="end" textLength="15.50" lengthAdjust="spacingAndGlyphs" fill="#222">0.25</text>
<line x1="374.00" y1="238.02" x2="377.00" y2="238.02" stroke="#2b2b2b" stroke-width="0.9" />
<text x="371.40" y="240.82" font-size="7.8" stroke="#222" stroke-width="0.22" text-anchor="end" textLength="15.50" lengthAdjust="spacingAndGlyphs" fill="#222">0.20</text>
<line x1="374.00" y1="255.04" x2="377.00" y2="255.04" stroke="#2b2b2b" stroke-width="0.9" />
<text x="371.40" y="257.84" font-size="7.8" stroke="#222" stroke-width="0.22" text-anchor="end" textLength="15.50" lengthAdjust="spacingAndGlyphs" fill="#222">0.15</text>
<line x1="374.00" y1="272.06" x2="377.00" y2="272.06" stroke="#2b2b2b" stroke-width="0.9" />
<text x="371.40" y="274.86" font-size="7.8" stroke="#222" stroke-width="0.22" text-anchor="end" textLength="15.50" lengthAdjust="spacingAndGlyphs" fill="#222">0.10</text>
<line x1="374.00" y1="289.08" x2="377.00" y2="289.08" stroke="#2b2b2b" stroke-width="0.9" />
<text x="371.40" y="291.88" font-size="7.8" stroke="#222" stroke-width="0.22" text-anchor="end" textLength="15.50" lengthAdjust="spacingAndGlyphs" fill="#222">0.05</text>
<line x1="374.00" y1="306.10" x2="377.00" y2="306.10" stroke="#2b2b2b" stroke-width="0.9" />
<text x="371.40" y="308.90" font-size="7.8" stroke="#222" stroke-width="0.22" text-anchor="end" textLength="15.50" lengthAdjust="spacingAndGlyphs" fill="#222">0.00</text>
<text x="349.40" y="261.20" font-size="8.9" stroke="#222" stroke-width="0.22" text-anchor="middle" textLength="51.50" lengthAdjust="spacingAndGlyphs" fill="#222" transform="rotate(-90 349.40 261.20)">dNTP/NTP ratio</text>
<line x1="383.35" y1="296.00" x2="383.35" y2="294.30" stroke="#333" stroke-width="0.7" />
<line x1="381.75" y1="294.30" x2="384.95" y2="294.30" stroke="#333" stroke-width="0.8" />
<rect x="380.30" y="296.00" width="6.10" height="10.10" fill="#c51330" />
<line x1="392.80" y1="266.50" x2="392.80" y2="260.00" stroke="#333" stroke-width="0.7" />
<line x1="391.20" y1="260.00" x2="394.40" y2="260.00" stroke="#333" stroke-width="0.8" />
<rect x="389.75" y="266.50" width="6.10" height="39.60" fill="#115284" />
<line x1="402.25" y1="298.30" x2="402.25" y2="297.60" stroke="#333" stroke-width="0.7" />
<line x1="400.65" y1="297.60" x2="403.85" y2="297.60" stroke="#333" stroke-width="0.8" />
<rect x="399.20" y="298.30" width="6.10" height="7.80" fill="#38b44c" />
<line x1="411.70" y1="279.80" x2="411.70" y2="277.30" stroke="#333" stroke-width="0.7" />
<line x1="410.10" y1="277.30" x2="413.30" y2="277.30" stroke="#333" stroke-width="0.8" />
<rect x="408.65" y="279.80" width="6.10" height="26.30" fill="#58286c" />
<line x1="397.50" y1="306.10" x2="397.50" y2="308.50" stroke="#2b2b2b" stroke-width="0.8" />
<line x1="427.15" y1="293.00" x2="427.15" y2="292.20" stroke="#333" stroke-width="0.7" />
<line x1="425.55" y1="292.20" x2="428.75" y2="292.20" stroke="#333" stroke-width="0.8" />
<rect x="424.10" y="293.00" width="6.10" height="13.10" fill="#c51330" />
<line x1="436.60" y1="240.10" x2="436.60" y2="227.40" stroke="#333" stroke-width="0.7" />
<line x1="435.00" y1="227.40" x2="438.20" y2="227.40" stroke="#333" stroke-width="0.8" />
<rect x="433.55" y="240.10" width="6.10" height="66.00" fill="#115284" />
<line x1="446.05" y1="294.90" x2="446.05" y2="293.30" stroke="#333" stroke-width="0.7" />
<line x1="444.45" y1="293.30" x2="447.65" y2="293.30" stroke="#333" stroke-width="0.8" />
<rect x="443.00" y="294.90" width="6.10" height="11.20" fill="#38b44c" />
<line x1="455.50" y1="289.60" x2="455.50" y2="288.50" stroke="#333" stroke-width="0.7" />
<line x1="453.90" y1="288.50" x2="457.10" y2="288.50" stroke="#333" stroke-width="0.8" />
<rect x="452.45" y="289.60" width="6.10" height="16.50" fill="#58286c" />
<line x1="441.30" y1="306.10" x2="441.30" y2="308.50" stroke="#2b2b2b" stroke-width="0.8" />
<line x1="470.75" y1="301.40" x2="470.75" y2="300.80" stroke="#333" stroke-width="0.7" />
<line x1="469.15" y1="300.80" x2="472.35" y2="300.80" stroke="#333" stroke-width="0.8" />
<rect x="467.70" y="301.40" width="6.10" height="4.70" fill="#c51330" />
<line x1="480.20" y1="254.10" x2="480.20" y2="247.60" stroke="#333" stroke-width="0.7" />
<line x1="478.60" y1="247.60" x2="481.80" y2="247.60" stroke="#333" stroke-width="0.8" />
<rect x="477.15" y="254.10" width="6.10" height="52.00" fill="#115284" />
<rect x="486.60" y="305.30" width="6.10" height="0.80" fill="#38b44c" />
<line x1="499.10" y1="275.20" x2="499.10" y2="274.70" stroke="#333" stroke-width="0.7" />
<line x1="497.50" y1="274.70" x2="500.70" y2="274.70" stroke="#333" stroke-width="0.8" />
<rect x="496.05" y="275.20" width="6.10" height="30.90" fill="#58286c" />
<line x1="484.90" y1="306.10" x2="484.90" y2="308.50" stroke="#2b2b2b" stroke-width="0.8" />
<text x="397.70" y="318.50" font-size="7.9" stroke="#222" stroke-width="0.22" text-anchor="middle" textLength="36.40" lengthAdjust="spacingAndGlyphs" fill="#222">dATP/ATP</text>
<text x="441.75" y="318.50" font-size="7.9" stroke="#222" stroke-width="0.22" text-anchor="middle" textLength="36.40" lengthAdjust="spacingAndGlyphs" fill="#222">dCTP/CTP</text>
<text x="486.10" y="318.50" font-size="7.9" stroke="#222" stroke-width="0.22" text-anchor="middle" textLength="36.40" lengthAdjust="spacingAndGlyphs" fill="#222">dGTP/GTP</text>
<path d="M383.40,291.80 L383.40,265.20 L388.00,265.20" fill="none" stroke="#333" stroke-width="0.75" stroke-linejoin="round" />
<text x="385.40" y="265.00" font-size="6.2" stroke="#222" stroke-width="0.22" text-anchor="middle" fill="#222">**</text>
<path d="M398.20,265.20 L411.50,265.20 L411.50,274.60" fill="none" stroke="#333" stroke-width="0.75" stroke-linejoin="round" />
<text x="404.50" y="265.00" font-size="6.2" stroke="#222" stroke-width="0.22" text-anchor="middle" fill="#222">*</text>
<text x="388.50" y="243.40" font-size="7.0" stroke="#222" stroke-width="0.08" textLength="17.80" lengthAdjust="spacingAndGlyphs" fill="#222">2.55<tspan font-size="7.00" stroke-width="0">×</tspan></text>
<line x1="383.00" y1="245.50" x2="411.80" y2="245.50" stroke="#333" stroke-width="0.8" />
<text x="383.00" y="253.10" font-size="7.0" stroke="#222" stroke-width="0.08" textLength="17.70" lengthAdjust="spacingAndGlyphs" fill="#222">3.84<tspan font-size="7.00" stroke-width="0">×</tspan></text>
<line x1="383.00" y1="254.80" x2="392.30" y2="254.80" stroke="#333" stroke-width="0.8" />
<path d="M426.70,291.20 L426.70,239.00 L432.00,239.00" fill="none" stroke="#333" stroke-width="0.75" stroke-linejoin="round" />
<text x="429.20" y="238.80" font-size="6.2" stroke="#222" stroke-width="0.22" text-anchor="middle" fill="#222">**</text>
<path d="M442.30,239.00 L454.80,239.00 L454.80,288.30" fill="none" stroke="#333" stroke-width="0.75" stroke-linejoin="round" />
<text x="448.30" y="238.80" font-size="6.2" stroke="#222" stroke-width="0.22" text-anchor="middle" fill="#222">**</text>
<text x="432.00" y="213.60" font-size="7.0" stroke="#222" stroke-width="0.08" textLength="17.50" lengthAdjust="spacingAndGlyphs" fill="#222">1.27<tspan font-size="7.00" stroke-width="0">×</tspan></text>
<line x1="426.40" y1="215.50" x2="454.80" y2="215.50" stroke="#333" stroke-width="0.8" />
<text x="426.40" y="222.30" font-size="7.0" stroke="#222" stroke-width="0.08" textLength="17.50" lengthAdjust="spacingAndGlyphs" fill="#222">5.01<tspan font-size="7.00" stroke-width="0">×</tspan></text>
<line x1="426.40" y1="224.70" x2="436.00" y2="224.70" stroke="#333" stroke-width="0.8" />
<path d="M470.80,300.60 L470.80,253.20 L475.60,253.20" fill="none" stroke="#333" stroke-width="0.75" stroke-linejoin="round" />
<text x="473.00" y="253.00" font-size="6.2" stroke="#222" stroke-width="0.22" text-anchor="middle" fill="#222">**</text>
<path d="M486.30,253.20 L498.50,253.20 L498.50,274.40" fill="none" stroke="#333" stroke-width="0.75" stroke-linejoin="round" />
<text x="492.00" y="253.00" font-size="6.2" stroke="#222" stroke-width="0.22" text-anchor="middle" fill="#222">*</text>
<text x="475.10" y="230.90" font-size="7.0" stroke="#d0354e" stroke-width="0.08" textLength="19.10" lengthAdjust="spacingAndGlyphs" fill="#d0354e">6.33<tspan font-size="7.00" stroke-width="0">×</tspan></text>
<line x1="469.90" y1="232.80" x2="498.50" y2="232.80" stroke="#333" stroke-width="0.8" />
<text x="469.60" y="240.50" font-size="7.0" stroke="#d0354e" stroke-width="0.08" textLength="21.00" lengthAdjust="spacingAndGlyphs" fill="#d0354e">10.99<tspan font-size="7.00" stroke-width="0">×</tspan></text>
<line x1="469.90" y1="242.40" x2="479.40" y2="242.40" stroke="#333" stroke-width="0.8" />
<line x1="487.20" y1="305.30" x2="491.00" y2="305.30" stroke="#333" stroke-width="0.9" />
<rect x="464.3" y="223.3" width="40.3" height="84.4" fill="none" stroke="#d8344f" stroke-width="0.8" stroke-dasharray="2.6,1.6"/>
<rect x="354.00" y="327.80" width="5.60" height="5.40" fill="#c51330" />
<text x="362.80" y="333.30" font-size="7.7" stroke="#222" stroke-width="0.22" textLength="14.00" lengthAdjust="spacingAndGlyphs" fill="#222">VEH</text>
<rect x="382.10" y="327.80" width="5.60" height="5.40" fill="#115284" />
<text x="390.90" y="333.30" font-size="7.7" stroke="#222" stroke-width="0.22" textLength="19.90" lengthAdjust="spacingAndGlyphs" fill="#222">Ara-C</text>
<rect x="417.40" y="327.80" width="5.60" height="5.40" fill="#38b44c" />
<text x="426.20" y="333.30" font-size="7.7" stroke="#222" stroke-width="0.22" textLength="22.50" lengthAdjust="spacingAndGlyphs" fill="#222">COH29</text>
<rect x="455.10" y="327.80" width="5.60" height="5.40" fill="#58286c" />
<text x="463.90" y="333.30" font-size="7.7" stroke="#222" stroke-width="0.22" textLength="49.70" lengthAdjust="spacingAndGlyphs" fill="#222">Ara-C+COH29</text>
<text x="19.80" y="384.90" font-size="7.4" stroke="#222" stroke-width="0.22" text-anchor="middle" fill="#222">–</text>
<text x="32.70" y="384.90" font-size="7.4" stroke="#222" stroke-width="0.22" text-anchor="middle" fill="#222">–</text>
<text x="19.80" y="400.40" font-size="7.4" stroke="#222" stroke-width="0.22" text-anchor="middle" fill="#222">+</text>
<text x="32.70" y="400.40" font-size="7.4" stroke="#222" stroke-width="0.22" text-anchor="middle" fill="#222">–</text>
<text x="19.80" y="416.40" font-size="7.4" stroke="#222" stroke-width="0.22" text-anchor="middle" fill="#222">–</text>
<text x="32.70" y="416.40" font-size="7.4" stroke="#222" stroke-width="0.22" text-anchor="middle" fill="#222">+</text>
<text x="19.80" y="432.60" font-size="7.4" stroke="#222" stroke-width="0.22" text-anchor="middle" fill="#222">+</text>
<text x="32.70" y="432.60" font-size="7.4" stroke="#222" stroke-width="0.22" text-anchor="middle" fill="#222">+</text>
<text x="22.70" y="437.60" font-size="8.4" stroke="#222" stroke-width="0.22" text-anchor="end" textLength="20.90" lengthAdjust="spacingAndGlyphs" fill="#222" transform="rotate(-90 22.70 437.60)">Ara-C</text>
<text x="35.50" y="437.60" font-size="8.4" stroke="#222" stroke-width="0.22" text-anchor="end" textLength="26.60" lengthAdjust="spacingAndGlyphs" fill="#222" transform="rotate(-90 35.50 437.60)">COH29</text>
<text x="39.40" y="450.40" font-size="8.1" stroke="#222" stroke-width="0.22" textLength="24.40" lengthAdjust="spacingAndGlyphs" fill="#222">CD11b</text>
<line x1="66.70" y1="447.40" x2="502.00" y2="447.40" stroke="#111" stroke-width="1.0" />
<path d="M501.0,444.7 L506.8,447.4 L501.0,450.1 Z" fill="#111"/>
<path d="M41.10,436.70v2.6 M46.54,436.70v1.7 M49.72,436.70v1.7 M51.98,436.70v1.7 M53.73,436.70v1.7 M55.17,436.70v1.7 M56.38,436.70v1.7 M57.42,436.70v1.7 M58.35,436.70v1.7 M59.17,436.70v2.6 M64.62,436.70v1.7 M67.80,436.70v1.7 M70.06,436.70v1.7 M71.81,436.70v1.7 M73.24,436.70v1.7 M74.45,436.70v1.7 M75.50,436.70v1.7 M76.42,436.70v1.7 M77.25,436.70v2.6 M82.69,436.70v1.7 M85.87,436.70v1.7 M88.13,436.70v1.7 M89.88,436.70v1.7 M91.32,436.70v1.7 M92.53,436.70v1.7 M93.57,436.70v1.7 M94.50,436.70v1.7 M95.32,436.70v2.6 M100.77,436.70v1.7 M103.95,436.70v1.7 M106.21,436.70v1.7 M107.96,436.70v1.7 M109.39,436.70v1.7 M110.60,436.70v1.7 M111.65,436.70v1.7 M112.57,436.70v1.7" stroke="#222" stroke-width="0.75" fill="none"/>
<text x="77.25" y="355.00" font-size="8.8" stroke="#222" stroke-width="0.22" text-anchor="middle" textLength="29.80" lengthAdjust="spacingAndGlyphs" fill="#222">AML#2</text>
<path d="M38.10,390.80 L38.50,390.80 L38.90,390.80 L39.30,390.80 L39.70,390.80 L40.10,390.80 L40.50,390.80 L40.90,390.80 L41.30,390.80 L41.70,390.80 L42.10,390.80 L42.50,390.80 L42.90,390.80 L43.30,390.80 L43.70,390.80 L44.10,390.80 L44.50,390.80 L44.90,390.80 L45.30,390.80 L45.70,390.80 L46.10,390.80 L46.50,390.80 L46.90,390.80 L47.30,390.80 L47.70,390.80 L48.10,390.80 L48.50,390.80 L48.90,390.80 L49.30,390.80 L49.70,390.80 L50.10,390.80 L50.50,390.80 L50.90,390.80 L51.30,390.80 L51.70,390.80 L52.10,390.80 L52.50,390.80 L52.90,390.80 L53.30,390.80 L53.70,390.80 L54.10,390.70 L54.50,389.96 L54.90,388.69 L55.30,387.09 L55.70,385.32 L56.10,382.62 L56.50,379.06 L56.90,375.21 L57.30,371.60 L57.70,368.16 L58.10,364.41 L58.50,361.80 L58.90,361.67 L59.30,363.47 L59.70,366.16 L60.10,368.80 L60.50,371.42 L60.90,373.93 L61.30,375.63 L61.70,377.10 L62.10,378.39 L62.50,379.55 L62.90,380.58 L63.30,381.53 L63.70,382.42 L64.10,383.27 L64.50,384.09 L64.90,384.84 L65.30,385.50 L65.70,386.06 L66.10,386.50 L66.50,386.85 L66.90,387.16 L67.30,387.45 L67.70,387.70 L68.10,387.93 L68.50,388.14 L68.90,388.32 L69.30,388.49 L69.70,388.64 L70.10,388.78 L70.50,388.92 L70.90,389.05 L71.30,389.19 L71.70,389.31 L72.10,389.43 L72.50,389.55 L72.90,389.65 L73.30,389.76 L73.70,389.85 L74.10,389.94 L74.50,390.02 L74.90,390.09 L75.30,390.16 L75.70,390.21 L76.10,390.26 L76.50,390.30 L76.90,390.33 L77.30,390.37 L77.70,390.40 L78.10,390.43 L78.50,390.46 L78.90,390.49 L79.30,390.52 L79.70,390.54 L80.10,390.57 L80.50,390.59 L80.90,390.62 L81.30,390.64 L81.70,390.66 L82.10,390.68 L82.50,390.70 L82.90,390.71 L83.30,390.73 L83.70,390.74 L84.10,390.76 L84.50,390.77 L84.90,390.78 L85.30,390.79 L85.70,390.79 L86.10,390.80 L86.50,390.80 L86.90,390.80 L87.30,390.80 L87.70,390.80 L88.10,390.80 L88.50,390.80 L88.90,390.80 L89.30,390.80 L89.70,390.80 L90.10,390.80 L90.50,390.80 L90.90,390.80 L91.30,390.80 L91.70,390.80 L92.10,390.80 L92.50,390.80 L92.90,390.80 L93.30,390.80 L93.70,390.80 L94.10,390.80 L94.50,390.80 L94.90,390.80 L95.30,390.80 L95.70,390.80 L96.10,390.80 L96.50,390.80 L96.90,390.80 L97.30,390.80 L97.70,390.80 L98.10,390.80 L98.50,390.80 L98.90,390.80 L99.30,390.80 L99.70,390.80 L100.10,390.80 L100.50,390.80 L100.90,390.80 L101.30,390.80 L101.70,390.80 L102.10,390.80 L102.50,390.80 L102.90,390.80 L103.30,390.80 L103.70,390.80 L104.10,390.80 L104.50,390.80 L104.90,390.80 L105.30,390.80 L105.70,390.80 L106.10,390.80 L106.50,390.80 L106.90,390.80 L107.30,390.80 L107.70,390.80 L108.10,390.80 L108.50,390.80 L108.90,390.80 L109.30,390.80 L109.70,390.80 L110.10,390.80 L110.50,390.80 L110.90,390.80 L111.30,390.80 L111.70,390.80 L112.10,390.80 L112.50,390.80 L112.90,390.80 L113.30,390.80 L113.70,390.80 L114.10,390.80 L114.50,390.80 L114.90,390.80 L115.30,390.80 L115.70,390.80 L116.10,390.80" fill="none" stroke="#c51330" stroke-width="1.45" stroke-linejoin="round" />
<path d="M38.10,405.90 L38.50,405.90 L38.90,405.90 L39.30,405.90 L39.70,405.90 L40.10,405.90 L40.50,405.90 L40.90,405.90 L41.30,405.90 L41.70,405.90 L42.10,405.90 L42.50,405.90 L42.90,405.90 L43.30,405.90 L43.70,405.90 L44.10,405.90 L44.50,405.90 L44.90,405.90 L45.30,405.90 L45.70,405.90 L46.10,405.90 L46.50,405.90 L46.90,405.90 L47.30,405.90 L47.70,405.90 L48.10,405.90 L48.50,405.90 L48.90,405.90 L49.30,405.90 L49.70,405.90 L50.10,405.90 L50.50,405.90 L50.90,405.90 L51.30,405.90 L51.70,405.90 L52.10,405.90 L52.50,405.90 L52.90,405.90 L53.30,405.90 L53.70,405.90 L54.10,405.90 L54.50,405.90 L54.90,405.90 L55.30,405.90 L55.70,405.40 L56.10,403.83 L56.50,401.22 L56.90,398.96 L57.30,397.90 L57.70,397.54 L58.10,397.10 L58.50,397.02 L58.90,396.89 L59.30,396.66 L59.70,396.21 L60.10,395.85 L60.50,395.56 L60.90,395.58 L61.30,395.75 L61.70,396.54 L62.10,397.08 L62.50,397.47 L62.90,397.48 L63.30,397.47 L63.70,397.19 L64.10,396.52 L64.50,395.74 L64.90,394.77 L65.30,394.65 L65.70,394.87 L66.10,394.77 L66.50,393.79 L66.90,392.65 L67.30,391.72 L67.70,391.37 L68.10,390.90 L68.50,389.84 L68.90,388.41 L69.30,387.00 L69.70,385.80 L70.10,384.71 L70.50,383.95 L70.90,383.32 L71.30,382.85 L71.70,382.54 L72.10,382.37 L72.50,381.87 L72.90,381.14 L73.30,380.11 L73.70,379.25 L74.10,378.76 L74.50,378.91 L74.90,379.55 L75.30,380.22 L75.70,381.00 L76.10,381.94 L76.50,382.99 L76.90,384.23 L77.30,385.33 L77.70,386.60 L78.10,387.52 L78.50,388.53 L78.90,389.45 L79.30,390.90 L79.70,392.04 L80.10,392.86 L80.50,393.60 L80.90,394.44 L81.30,395.07 L81.70,395.61 L82.10,396.01 L82.50,396.15 L82.90,396.39 L83.30,396.83 L83.70,397.48 L84.10,397.78 L84.50,398.42 L84.90,398.47 L85.30,398.66 L85.70,398.91 L86.10,399.82 L86.50,400.28 L86.90,400.38 L87.30,401.09 L87.70,401.85 L88.10,402.19 L88.50,402.17 L88.90,403.00 L89.30,403.49 L89.70,403.74 L90.10,403.98 L90.50,404.46 L90.90,404.62 L91.30,404.68 L91.70,404.84 L92.10,405.06 L92.50,405.29 L92.90,405.39 L93.30,405.49 L93.70,405.56 L94.10,405.63 L94.50,405.66 L94.90,405.69 L95.30,405.73 L95.70,405.78 L96.10,405.82 L96.50,405.85 L96.90,405.87 L97.30,405.89 L97.70,405.90 L98.10,405.90 L98.50,405.90 L98.90,405.90 L99.30,405.90 L99.70,405.90 L100.10,405.90 L100.50,405.90 L100.90,405.90 L101.30,405.90 L101.70,405.90 L102.10,405.90 L102.50,405.90 L102.90,405.90 L103.30,405.90 L103.70,405.90 L104.10,405.90 L104.50,405.90 L104.90,405.90 L105.30,405.90 L105.70,405.90 L106.10,405.90 L106.50,405.90 L106.90,405.90 L107.30,405.90 L107.70,405.90 L108.10,405.90 L108.50,405.90 L108.90,405.90 L109.30,405.90 L109.70,405.90 L110.10,405.90 L110.50,405.90 L110.90,405.90 L111.30,405.90 L111.70,405.90 L112.10,405.90 L112.50,405.90 L112.90,405.90 L113.30,405.90 L113.70,405.90 L114.10,405.90 L114.50,405.90 L114.90,405.90 L115.30,405.90 L115.70,405.90 L116.10,405.90" fill="none" stroke="#115284" stroke-width="1.45" stroke-linejoin="round" />
<path d="M38.10,421.60 L38.50,421.60 L38.90,421.60 L39.30,421.60 L39.70,421.60 L40.10,421.60 L40.50,421.60 L40.90,421.60 L41.30,421.60 L41.70,421.60 L42.10,421.60 L42.50,421.60 L42.90,421.60 L43.30,421.60 L43.70,421.60 L44.10,421.60 L44.50,421.60 L44.90,421.60 L45.30,421.60 L45.70,421.60 L46.10,421.60 L46.50,421.60 L46.90,421.60 L47.30,421.60 L47.70,421.60 L48.10,421.60 L48.50,421.60 L48.90,421.60 L49.30,421.60 L49.70,421.60 L50.10,421.60 L50.50,421.60 L50.90,421.60 L51.30,421.60 L51.70,421.60 L52.10,421.60 L52.50,421.60 L52.90,421.60 L53.30,421.60 L53.70,421.60 L54.10,421.60 L54.50,420.85 L54.90,415.83 L55.30,409.25 L55.70,404.59 L56.10,400.86 L56.50,398.17 L56.90,397.57 L57.30,397.50 L57.70,397.15 L58.10,396.89 L58.50,396.88 L58.90,396.76 L59.30,396.18 L59.70,395.42 L60.10,395.09 L60.50,394.96 L60.90,395.17 L61.30,396.25 L61.70,397.96 L62.10,399.64 L62.50,401.00 L62.90,402.31 L63.30,404.05 L63.70,405.65 L64.10,407.19 L64.50,408.53 L64.90,409.77 L65.30,410.47 L65.70,411.19 L66.10,411.99 L66.50,412.81 L66.90,413.40 L67.30,414.31 L67.70,414.58 L68.10,415.42 L68.50,415.99 L68.90,416.45 L69.30,416.72 L69.70,417.30 L70.10,417.70 L70.50,417.50 L70.90,417.50 L71.30,417.83 L71.70,418.61 L72.10,418.92 L72.50,418.77 L72.90,418.92 L73.30,419.38 L73.70,419.67 L74.10,419.75 L74.50,419.94 L74.90,420.01 L75.30,420.30 L75.70,420.44 L76.10,420.57 L76.50,420.61 L76.90,420.74 L77.30,420.95 L77.70,421.04 L78.10,421.12 L78.50,421.19 L78.90,421.30 L79.30,421.38 L79.70,421.40 L80.10,421.45 L80.50,421.51 L80.90,421.56 L81.30,421.59 L81.70,421.60 L82.10,421.60 L82.50,421.60 L82.90,421.60 L83.30,421.60 L83.70,421.60 L84.10,421.60 L84.50,421.60 L84.90,421.60 L85.30,421.60 L85.70,421.60 L86.10,421.60 L86.50,421.60 L86.90,421.60 L87.30,421.60 L87.70,421.60 L88.10,421.60 L88.50,421.60 L88.90,421.60 L89.30,421.60 L89.70,421.60 L90.10,421.60 L90.50,421.60 L90.90,421.60 L91.30,421.60 L91.70,421.60 L92.10,421.60 L92.50,421.60 L92.90,421.60 L93.30,421.60 L93.70,421.60 L94.10,421.60 L94.50,421.60 L94.90,421.60 L95.30,421.60 L95.70,421.60 L96.10,421.60 L96.50,421.60 L96.90,421.60 L97.30,421.60 L97.70,421.60 L98.10,421.60 L98.50,421.60 L98.90,421.60 L99.30,421.60 L99.70,421.60 L100.10,421.60 L100.50,421.60 L100.90,421.60 L101.30,421.60 L101.70,421.60 L102.10,421.60 L102.50,421.60 L102.90,421.60 L103.30,421.60 L103.70,421.60 L104.10,421.60 L104.50,421.60 L104.90,421.60 L105.30,421.60 L105.70,421.60 L106.10,421.60 L106.50,421.60 L106.90,421.60 L107.30,421.60 L107.70,421.60 L108.10,421.60 L108.50,421.60 L108.90,421.60 L109.30,421.60 L109.70,421.60 L110.10,421.60 L110.50,421.60 L110.90,421.60 L111.30,421.60 L111.70,421.60 L112.10,421.60 L112.50,421.60 L112.90,421.60 L113.30,421.60 L113.70,421.60 L114.10,421.60 L114.50,421.60 L114.90,421.60 L115.30,421.60 L115.70,421.60 L116.10,421.60" fill="none" stroke="#38b44c" stroke-width="1.45" stroke-linejoin="round" />
<path d="M38.10,437.00 L38.50,437.00 L38.90,437.00 L39.30,437.00 L39.70,437.00 L40.10,437.00 L40.50,437.00 L40.90,437.00 L41.30,437.00 L41.70,437.00 L42.10,437.00 L42.50,437.00 L42.90,437.00 L43.30,437.00 L43.70,437.00 L44.10,437.00 L44.50,437.00 L44.90,437.00 L45.30,437.00 L45.70,437.00 L46.10,437.00 L46.50,437.00 L46.90,437.00 L47.30,437.00 L47.70,437.00 L48.10,437.00 L48.50,437.00 L48.90,437.00 L49.30,437.00 L49.70,437.00 L50.10,437.00 L50.50,437.00 L50.90,437.00 L51.30,437.00 L51.70,437.00 L52.10,437.00 L52.50,437.00 L52.90,437.00 L53.30,437.00 L53.70,437.00 L54.10,437.00 L54.50,436.29 L54.90,431.26 L55.30,426.53 L55.70,424.26 L56.10,422.88 L56.50,421.83 L56.90,421.08 L57.30,420.18 L57.70,419.07 L58.10,417.72 L58.50,416.76 L58.90,416.03 L59.30,415.29 L59.70,414.99 L60.10,414.57 L60.50,414.40 L60.90,413.92 L61.30,413.76 L61.70,412.92 L62.10,412.07 L62.50,411.44 L62.90,411.10 L63.30,411.01 L63.70,410.82 L64.10,410.82 L64.50,410.81 L64.90,410.92 L65.30,410.85 L65.70,411.18 L66.10,411.75 L66.50,412.50 L66.90,412.67 L67.30,413.16 L67.70,413.68 L68.10,414.49 L68.50,415.23 L68.90,416.29 L69.30,417.00 L69.70,417.84 L70.10,418.48 L70.50,419.30 L70.90,420.00 L71.30,420.91 L71.70,421.60 L72.10,422.24 L72.50,423.25 L72.90,424.67 L73.30,425.64 L73.70,426.21 L74.10,426.54 L74.50,427.23 L74.90,427.80 L75.30,428.41 L75.70,428.99 L76.10,429.55 L76.50,430.15 L76.90,430.83 L77.30,431.11 L77.70,431.22 L78.10,431.89 L78.50,432.76 L78.90,433.15 L79.30,433.13 L79.70,433.44 L80.10,434.04 L80.50,434.66 L80.90,434.98 L81.30,435.26 L81.70,435.67 L82.10,436.18 L82.50,436.74 L82.90,437.00 L83.30,437.00 L83.70,437.00 L84.10,437.00 L84.50,437.00 L84.90,437.00 L85.30,437.00 L85.70,437.00 L86.10,437.00 L86.50,437.00 L86.90,437.00 L87.30,437.00 L87.70,437.00 L88.10,437.00 L88.50,437.00 L88.90,437.00 L89.30,437.00 L89.70,437.00 L90.10,437.00 L90.50,437.00 L90.90,437.00 L91.30,437.00 L91.70,437.00 L92.10,437.00 L92.50,437.00 L92.90,437.00 L93.30,437.00 L93.70,437.00 L94.10,437.00 L94.50,437.00 L94.90,437.00 L95.30,437.00 L95.70,437.00 L96.10,437.00 L96.50,437.00 L96.90,437.00 L97.30,437.00 L97.70,437.00 L98.10,437.00 L98.50,437.00 L98.90,437.00 L99.30,437.00 L99.70,437.00 L100.10,437.00 L100.50,437.00 L100.90,437.00 L101.30,437.00 L101.70,437.00 L102.10,437.00 L102.50,437.00 L102.90,437.00 L103.30,437.00 L103.70,437.00 L104.10,437.00 L104.50,437.00 L104.90,437.00 L105.30,437.00 L105.70,437.00 L106.10,437.00 L106.50,437.00 L106.90,437.00 L107.30,437.00 L107.70,437.00 L108.10,437.00 L108.50,437.00 L108.90,437.00 L109.30,437.00 L109.70,437.00 L110.10,437.00 L110.50,437.00 L110.90,437.00 L111.30,437.00 L111.70,437.00 L112.10,437.00 L112.50,437.00 L112.90,437.00 L113.30,437.00 L113.70,437.00 L114.10,437.00 L114.50,437.00 L114.90,437.00 L115.30,437.00 L115.70,437.00 L116.10,437.00" fill="none" stroke="#58286c" stroke-width="1.45" stroke-linejoin="round" />
<text x="115.50" y="387.50" font-size="7.4" stroke="#c51330" stroke-width="0.12" text-anchor="end" fill="#c51330">383</text>
<text x="115.50" y="403.80" font-size="7.4" stroke="#115284" stroke-width="0.12" text-anchor="end" fill="#115284">2110</text>
<text x="115.50" y="419.00" font-size="7.4" stroke="#38b44c" stroke-width="0.12" text-anchor="end" fill="#38b44c">534</text>
<text x="115.50" y="434.20" font-size="7.4" stroke="#58286c" stroke-width="0.12" text-anchor="end" fill="#58286c">854</text>
<path d="M38.10,436.70 V358.20 H116.40 V436.70" fill="none" stroke="#1a1a1a" stroke-width="1.1"/>
<line x1="37.60" y1="436.70" x2="116.90" y2="436.70" stroke="#1a1a1a" stroke-width="1.6" />
<path d="M139.95,436.70v2.6 M145.39,436.70v1.7 M148.57,436.70v1.7 M150.83,436.70v1.7 M152.58,436.70v1.7 M154.02,436.70v1.7 M155.23,436.70v1.7 M156.27,436.70v1.7 M157.20,436.70v1.7 M158.02,436.70v2.6 M163.47,436.70v1.7 M166.65,436.70v1.7 M168.91,436.70v1.7 M170.66,436.70v1.7 M172.09,436.70v1.7 M173.30,436.70v1.7 M174.35,436.70v1.7 M175.27,436.70v1.7 M176.10,436.70v2.6 M181.54,436.70v1.7 M184.72,436.70v1.7 M186.98,436.70v1.7 M188.73,436.70v1.7 M190.17,436.70v1.7 M191.38,436.70v1.7 M192.42,436.70v1.7 M193.35,436.70v1.7 M194.17,436.70v2.6 M199.62,436.70v1.7 M202.80,436.70v1.7 M205.06,436.70v1.7 M206.81,436.70v1.7 M208.24,436.70v1.7 M209.45,436.70v1.7 M210.50,436.70v1.7 M211.42,436.70v1.7" stroke="#222" stroke-width="0.75" fill="none"/>
<text x="176.10" y="355.00" font-size="8.8" stroke="#222" stroke-width="0.22" text-anchor="middle" textLength="29.80" lengthAdjust="spacingAndGlyphs" fill="#222">AML#3</text>
<path d="M136.95,390.80 L137.35,390.80 L137.75,390.80 L138.15,390.80 L138.55,390.80 L138.95,390.80 L139.35,390.80 L139.75,390.80 L140.15,390.80 L140.55,390.80 L140.95,390.80 L141.35,390.80 L141.75,390.80 L142.15,390.80 L142.55,390.80 L142.95,390.80 L143.35,390.80 L143.75,390.80 L144.15,390.80 L144.55,390.80 L144.95,390.80 L145.35,390.80 L145.75,390.80 L146.15,390.80 L146.55,390.80 L146.95,390.80 L147.35,390.80 L147.75,390.80 L148.15,390.80 L148.55,390.80 L148.95,390.80 L149.35,390.80 L149.75,390.80 L150.15,390.80 L150.55,390.80 L150.95,390.80 L151.35,390.80 L151.75,390.80 L152.15,390.80 L152.55,390.80 L152.95,390.80 L153.35,390.80 L153.75,390.80 L154.15,390.80 L154.55,390.80 L154.95,390.80 L155.35,390.80 L155.75,390.80 L156.15,390.53 L156.55,388.63 L156.95,385.43 L157.35,381.57 L157.75,376.90 L158.15,369.04 L158.55,362.48 L158.95,361.67 L159.35,363.45 L159.75,366.08 L160.15,368.91 L160.55,372.87 L160.95,376.91 L161.35,379.60 L161.75,381.05 L162.15,382.30 L162.55,383.36 L162.95,384.22 L163.35,384.91 L163.75,385.41 L164.15,385.76 L164.55,386.05 L164.95,386.31 L165.35,386.54 L165.75,386.73 L166.15,386.90 L166.55,387.05 L166.95,387.17 L167.35,387.28 L167.75,387.37 L168.15,387.45 L168.55,387.54 L168.95,387.61 L169.35,387.68 L169.75,387.75 L170.15,387.81 L170.55,387.87 L170.95,387.93 L171.35,387.98 L171.75,388.04 L172.15,388.08 L172.55,388.13 L172.95,388.17 L173.35,388.22 L173.75,388.26 L174.15,388.30 L174.55,388.34 L174.95,388.38 L175.35,388.43 L175.75,388.47 L176.15,388.51 L176.55,388.55 L176.95,388.60 L177.35,388.65 L177.75,388.69 L178.15,388.74 L178.55,388.79 L178.95,388.84 L179.35,388.88 L179.75,388.93 L180.15,388.98 L180.55,389.03 L180.95,389.08 L181.35,389.13 L181.75,389.17 L182.15,389.22 L182.55,389.27 L182.95,389.32 L183.35,389.36 L183.75,389.41 L184.15,389.46 L184.55,389.50 L184.95,389.55 L185.35,389.59 L185.75,389.63 L186.15,389.68 L186.55,389.72 L186.95,389.76 L187.35,389.80 L187.75,389.84 L188.15,389.88 L188.55,389.91 L188.95,389.95 L189.35,389.99 L189.75,390.02 L190.15,390.05 L190.55,390.08 L190.95,390.11 L191.35,390.14 L191.75,390.17 L192.15,390.19 L192.55,390.22 L192.95,390.24 L193.35,390.26 L193.75,390.28 L194.15,390.30 L194.55,390.31 L194.95,390.33 L195.35,390.34 L195.75,390.36 L196.15,390.37 L196.55,390.38 L196.95,390.40 L197.35,390.41 L197.75,390.42 L198.15,390.43 L198.55,390.44 L198.95,390.46 L199.35,390.47 L199.75,390.48 L200.15,390.49 L200.55,390.50 L200.95,390.51 L201.35,390.52 L201.75,390.53 L202.15,390.54 L202.55,390.54 L202.95,390.55 L203.35,390.56 L203.75,390.57 L204.15,390.58 L204.55,390.59 L204.95,390.59 L205.35,390.60 L205.75,390.61 L206.15,390.62 L206.55,390.63 L206.95,390.63 L207.35,390.64 L207.75,390.65 L208.15,390.66 L208.55,390.66 L208.95,390.67 L209.35,390.68 L209.75,390.69 L210.15,390.69 L210.55,390.70 L210.95,390.71 L211.35,390.72 L211.75,390.72 L212.15,390.73 L212.55,390.74 L212.95,390.75 L213.35,390.76 L213.75,390.77 L214.15,390.77 L214.55,390.78 L214.95,390.79" fill="none" stroke="#c51330" stroke-width="1.45" stroke-linejoin="round" />
<path d="M136.95,405.90 L137.35,405.90 L137.75,405.90 L138.15,405.90 L138.55,405.90 L138.95,405.90 L139.35,405.90 L139.75,405.90 L140.15,405.90 L140.55,405.90 L140.95,405.90 L141.35,405.90 L141.75,405.90 L142.15,405.90 L142.55,405.90 L142.95,405.90 L143.35,405.90 L143.75,405.90 L144.15,405.90 L144.55,405.90 L144.95,405.90 L145.35,405.90 L145.75,405.90 L146.15,405.90 L146.55,405.90 L146.95,405.90 L147.35,405.90 L147.75,405.90 L148.15,405.90 L148.55,405.90 L148.95,405.90 L149.35,405.90 L149.75,405.90 L150.15,405.90 L150.55,405.90 L150.95,405.90 L151.35,405.90 L151.75,405.90 L152.15,405.90 L152.55,405.90 L152.95,405.90 L153.35,405.90 L153.75,405.71 L154.15,405.03 L154.55,404.11 L154.95,403.02 L155.35,401.77 L155.75,400.42 L156.15,399.30 L156.55,397.02 L156.95,393.46 L157.35,389.83 L157.75,387.02 L158.15,385.06 L158.55,383.28 L158.95,381.57 L159.35,381.11 L159.75,381.48 L160.15,382.05 L160.55,382.79 L160.95,383.32 L161.35,384.03 L161.75,384.53 L162.15,385.03 L162.55,385.67 L162.95,386.81 L163.35,387.78 L163.75,388.56 L164.15,389.64 L164.55,390.93 L164.95,391.80 L165.35,392.91 L165.75,394.23 L166.15,395.25 L166.55,396.08 L166.95,396.76 L167.35,397.55 L167.75,397.96 L168.15,398.27 L168.55,397.73 L168.95,397.37 L169.35,396.51 L169.75,395.66 L170.15,395.07 L170.55,395.35 L170.95,395.71 L171.35,395.66 L171.75,396.51 L172.15,397.74 L172.55,399.19 L172.95,400.09 L173.35,400.28 L173.75,400.27 L174.15,400.29 L174.55,400.31 L174.95,399.77 L175.35,399.86 L175.75,399.68 L176.15,399.48 L176.55,398.99 L176.95,399.15 L177.35,399.67 L177.75,400.20 L178.15,400.10 L178.55,399.79 L178.95,399.87 L179.35,399.82 L179.75,399.35 L180.15,399.40 L180.55,399.54 L180.95,400.26 L181.35,400.91 L181.75,401.08 L182.15,400.44 L182.55,399.90 L182.95,399.85 L183.35,399.78 L183.75,399.77 L184.15,399.82 L184.55,400.26 L184.95,400.63 L185.35,400.69 L185.75,400.19 L186.15,400.56 L186.55,400.97 L186.95,401.48 L187.35,401.34 L187.75,400.96 L188.15,400.61 L188.55,400.70 L188.95,400.99 L189.35,400.78 L189.75,400.77 L190.15,400.91 L190.55,400.66 L190.95,400.15 L191.35,400.17 L191.75,400.69 L192.15,400.99 L192.55,401.34 L192.95,401.21 L193.35,401.01 L193.75,400.78 L194.15,401.34 L194.55,401.75 L194.95,401.73 L195.35,401.44 L195.75,401.55 L196.15,401.75 L196.55,401.69 L196.95,401.85 L197.35,402.34 L197.75,402.87 L198.15,403.15 L198.55,403.04 L198.95,402.76 L199.35,402.60 L199.75,403.13 L200.15,403.63 L200.55,403.79 L200.95,403.70 L201.35,403.63 L201.75,403.81 L202.15,403.79 L202.55,403.59 L202.95,403.36 L203.35,403.38 L203.75,403.72 L204.15,403.97 L204.55,404.26 L204.95,404.31 L205.35,404.48 L205.75,404.61 L206.15,404.81 L206.55,404.78 L206.95,404.75 L207.35,404.76 L207.75,404.94 L208.15,405.03 L208.55,405.15 L208.95,405.07 L209.35,405.07 L209.75,405.06 L210.15,405.18 L210.55,405.30 L210.95,405.42 L211.35,405.45 L211.75,405.34 L212.15,405.35 L212.55,405.45 L212.95,405.53 L213.35,405.57 L213.75,405.64 L214.15,405.68 L214.55,405.67 L214.95,405.67" fill="none" stroke="#115284" stroke-width="1.45" stroke-linejoin="round" />
<path d="M136.95,421.60 L137.35,421.60 L137.75,421.60 L138.15,421.60 L138.55,421.60 L138.95,421.60 L139.35,421.60 L139.75,421.60 L140.15,421.60 L140.55,421.60 L140.95,421.60 L141.35,421.60 L141.75,421.60 L142.15,421.60 L142.55,421.60 L142.95,421.60 L143.35,421.60 L143.75,421.60 L144.15,421.60 L144.55,421.60 L144.95,421.60 L145.35,421.60 L145.75,421.60 L146.15,421.60 L146.55,421.60 L146.95,421.60 L147.35,421.60 L147.75,421.60 L148.15,421.60 L148.55,421.60 L148.95,421.60 L149.35,421.60 L149.75,421.60 L150.15,421.60 L150.55,421.60 L150.95,421.60 L151.35,421.60 L151.75,421.60 L152.15,421.60 L152.55,421.60 L152.95,421.60 L153.35,421.60 L153.75,421.60 L154.15,421.60 L154.55,421.41 L154.95,420.62 L155.35,419.09 L155.75,417.52 L156.15,415.66 L156.55,413.62 L156.95,411.01 L157.35,408.82 L157.75,405.57 L158.15,402.16 L158.55,399.25 L158.95,397.54 L159.35,396.07 L159.75,395.62 L160.15,396.26 L160.55,397.28 L160.95,398.69 L161.35,400.14 L161.75,401.69 L162.15,403.41 L162.55,405.27 L162.95,407.40 L163.35,409.06 L163.75,410.40 L164.15,411.26 L164.55,412.10 L164.95,412.51 L165.35,412.80 L165.75,413.49 L166.15,413.99 L166.55,414.28 L166.95,414.52 L167.35,415.15 L167.75,415.70 L168.15,415.98 L168.55,416.33 L168.95,416.69 L169.35,416.83 L169.75,416.76 L170.15,416.48 L170.55,416.67 L170.95,417.21 L171.35,417.59 L171.75,417.57 L172.15,417.42 L172.55,417.57 L172.95,417.80 L173.35,418.07 L173.75,418.00 L174.15,417.85 L174.55,418.00 L174.95,418.12 L175.35,418.34 L175.75,418.46 L176.15,418.58 L176.55,418.62 L176.95,418.84 L177.35,418.93 L177.75,418.79 L178.15,418.76 L178.55,418.90 L178.95,419.08 L179.35,419.22 L179.75,418.89 L180.15,418.77 L180.55,418.73 L180.95,419.08 L181.35,419.02 L181.75,419.05 L182.15,419.02 L182.55,419.28 L182.95,419.59 L183.35,419.62 L183.75,419.65 L184.15,419.75 L184.55,419.75 L184.95,419.52 L185.35,419.47 L185.75,419.69 L186.15,419.89 L186.55,419.92 L186.95,419.96 L187.35,420.08 L187.75,420.21 L188.15,420.19 L188.55,420.21 L188.95,420.30 L189.35,420.33 L189.75,420.17 L190.15,420.12 L190.55,420.20 L190.95,420.23 L191.35,420.31 L191.75,420.44 L192.15,420.52 L192.55,420.45 L192.95,420.44 L193.35,420.64 L193.75,420.73 L194.15,420.72 L194.55,420.68 L194.95,420.74 L195.35,420.76 L195.75,420.81 L196.15,420.93 L196.55,421.07 L196.95,421.12 L197.35,421.16 L197.75,421.19 L198.15,421.25 L198.55,421.29 L198.95,421.32 L199.35,421.35 L199.75,421.41 L200.15,421.45 L200.55,421.48 L200.95,421.52 L201.35,421.55 L201.75,421.57 L202.15,421.59 L202.55,421.60 L202.95,421.60 L203.35,421.60 L203.75,421.60 L204.15,421.60 L204.55,421.60 L204.95,421.60 L205.35,421.60 L205.75,421.60 L206.15,421.60 L206.55,421.60 L206.95,421.60 L207.35,421.60 L207.75,421.60 L208.15,421.60 L208.55,421.60 L208.95,421.60 L209.35,421.60 L209.75,421.60 L210.15,421.60 L210.55,421.60 L210.95,421.60 L211.35,421.60 L211.75,421.60 L212.15,421.60 L212.55,421.60 L212.95,421.60 L213.35,421.60 L213.75,421.60 L214.15,421.60 L214.55,421.60 L214.95,421.60" fill="none" stroke="#38b44c" stroke-width="1.45" stroke-linejoin="round" />
<path d="M136.95,437.00 L137.35,437.00 L137.75,437.00 L138.15,437.00 L138.55,437.00 L138.95,437.00 L139.35,437.00 L139.75,437.00 L140.15,437.00 L140.55,437.00 L140.95,437.00 L141.35,437.00 L141.75,437.00 L142.15,437.00 L142.55,437.00 L142.95,437.00 L143.35,437.00 L143.75,437.00 L144.15,437.00 L144.55,437.00 L144.95,437.00 L145.35,437.00 L145.75,437.00 L146.15,437.00 L146.55,437.00 L146.95,437.00 L147.35,437.00 L147.75,437.00 L148.15,437.00 L148.55,437.00 L148.95,437.00 L149.35,437.00 L149.75,437.00 L150.15,437.00 L150.55,437.00 L150.95,437.00 L151.35,437.00 L151.75,437.00 L152.15,437.00 L152.55,437.00 L152.95,437.00 L153.35,437.00 L153.75,437.00 L154.15,437.00 L154.55,437.00 L154.95,437.00 L155.35,437.00 L155.75,436.58 L156.15,433.48 L156.55,429.89 L156.95,426.78 L157.35,424.33 L157.75,421.46 L158.15,418.09 L158.55,414.85 L158.95,412.81 L159.35,412.35 L159.75,412.94 L160.15,413.89 L160.55,415.32 L160.95,416.78 L161.35,418.26 L161.75,419.65 L162.15,420.89 L162.55,421.86 L162.95,423.25 L163.35,424.82 L163.75,425.93 L164.15,426.16 L164.55,426.76 L164.95,427.72 L165.35,428.63 L165.75,428.78 L166.15,429.12 L166.55,429.40 L166.95,429.88 L167.35,430.00 L167.75,430.35 L168.15,430.62 L168.55,430.85 L168.95,431.19 L169.35,431.62 L169.75,431.86 L170.15,431.65 L170.55,431.70 L170.95,432.47 L171.35,432.82 L171.75,432.80 L172.15,432.65 L172.55,433.32 L172.95,433.45 L173.35,433.01 L173.75,432.60 L174.15,432.66 L174.55,433.11 L174.95,433.35 L175.35,433.71 L175.75,433.90 L176.15,434.07 L176.55,434.11 L176.95,434.12 L177.35,434.22 L177.75,434.17 L178.15,434.10 L178.55,433.98 L178.95,434.14 L179.35,434.16 L179.75,434.43 L180.15,434.38 L180.55,434.37 L180.95,434.50 L181.35,434.73 L181.75,434.54 L182.15,434.14 L182.55,434.27 L182.95,434.60 L183.35,434.68 L183.75,434.63 L184.15,434.54 L184.55,434.61 L184.95,434.63 L185.35,434.73 L185.75,434.92 L186.15,435.23 L186.55,435.39 L186.95,435.34 L187.35,435.37 L187.75,435.37 L188.15,435.56 L188.55,435.66 L188.95,435.83 L189.35,435.83 L189.75,435.88 L190.15,435.95 L190.55,436.13 L190.95,436.27 L191.35,436.37 L191.75,436.42 L192.15,436.52 L192.55,436.63 L192.95,436.74 L193.35,436.84 L193.75,436.95 L194.15,437.00 L194.55,437.00 L194.95,437.00 L195.35,437.00 L195.75,437.00 L196.15,437.00 L196.55,437.00 L196.95,437.00 L197.35,437.00 L197.75,437.00 L198.15,437.00 L198.55,437.00 L198.95,437.00 L199.35,437.00 L199.75,437.00 L200.15,437.00 L200.55,437.00 L200.95,437.00 L201.35,437.00 L201.75,437.00 L202.15,437.00 L202.55,437.00 L202.95,437.00 L203.35,437.00 L203.75,437.00 L204.15,437.00 L204.55,437.00 L204.95,437.00 L205.35,437.00 L205.75,437.00 L206.15,437.00 L206.55,437.00 L206.95,437.00 L207.35,437.00 L207.75,437.00 L208.15,437.00 L208.55,437.00 L208.95,437.00 L209.35,437.00 L209.75,437.00 L210.15,437.00 L210.55,437.00 L210.95,437.00 L211.35,437.00 L211.75,437.00 L212.15,437.00 L212.55,437.00 L212.95,437.00 L213.35,437.00 L213.75,437.00 L214.15,437.00 L214.55,437.00 L214.95,437.00" fill="none" stroke="#58286c" stroke-width="1.45" stroke-linejoin="round" />
<text x="214.35" y="387.50" font-size="7.4" stroke="#c51330" stroke-width="0.12" text-anchor="end" fill="#c51330">602</text>
<text x="214.35" y="403.80" font-size="7.4" stroke="#115284" stroke-width="0.12" text-anchor="end" fill="#115284">2895</text>
<text x="214.35" y="419.00" font-size="7.4" stroke="#38b44c" stroke-width="0.12" text-anchor="end" fill="#38b44c">506</text>
<text x="214.35" y="434.20" font-size="7.4" stroke="#58286c" stroke-width="0.12" text-anchor="end" fill="#58286c">1389</text>
<path d="M136.95,436.70 V358.20 H215.25 V436.70" fill="none" stroke="#1a1a1a" stroke-width="1.1"/>
<line x1="136.45" y1="436.70" x2="215.75" y2="436.70" stroke="#1a1a1a" stroke-width="1.6" />
<path d="M238.80,436.70v2.6 M244.24,436.70v1.7 M247.42,436.70v1.7 M249.68,436.70v1.7 M251.43,436.70v1.7 M252.87,436.70v1.7 M254.08,436.70v1.7 M255.12,436.70v1.7 M256.05,436.70v1.7 M256.88,436.70v2.6 M262.32,436.70v1.7 M265.50,436.70v1.7 M267.76,436.70v1.7 M269.51,436.70v1.7 M270.94,436.70v1.7 M272.15,436.70v1.7 M273.20,436.70v1.7 M274.12,436.70v1.7 M274.95,436.70v2.6 M280.39,436.70v1.7 M283.57,436.70v1.7 M285.83,436.70v1.7 M287.58,436.70v1.7 M289.02,436.70v1.7 M290.23,436.70v1.7 M291.27,436.70v1.7 M292.20,436.70v1.7 M293.02,436.70v2.6 M298.47,436.70v1.7 M301.65,436.70v1.7 M303.91,436.70v1.7 M305.66,436.70v1.7 M307.09,436.70v1.7 M308.30,436.70v1.7 M309.35,436.70v1.7 M310.27,436.70v1.7" stroke="#222" stroke-width="0.75" fill="none"/>
<text x="274.95" y="355.00" font-size="8.8" stroke="#222" stroke-width="0.22" text-anchor="middle" textLength="29.80" lengthAdjust="spacingAndGlyphs" fill="#222">AML#4</text>
<path d="M235.80,390.80 L236.20,390.80 L236.60,390.80 L237.00,390.80 L237.40,390.80 L237.80,390.80 L238.20,390.80 L238.60,390.80 L239.00,390.80 L239.40,390.80 L239.80,390.80 L240.20,390.80 L240.60,390.80 L241.00,390.80 L241.40,390.80 L241.80,390.80 L242.20,390.80 L242.60,390.80 L243.00,390.80 L243.40,390.80 L243.80,390.80 L244.20,390.80 L244.60,390.80 L245.00,390.80 L245.40,390.80 L245.80,390.80 L246.20,390.80 L246.60,390.80 L247.00,390.80 L247.40,390.80 L247.80,390.80 L248.20,390.80 L248.60,390.80 L249.00,390.80 L249.40,390.80 L249.80,390.80 L250.20,390.80 L250.60,390.80 L251.00,390.80 L251.40,390.80 L251.80,390.80 L252.20,390.80 L252.60,390.80 L253.00,390.80 L253.40,390.80 L253.80,390.80 L254.20,390.80 L254.60,390.80 L255.00,390.80 L255.40,387.95 L255.80,383.36 L256.20,379.09 L256.60,374.16 L257.00,368.53 L257.40,364.03 L257.80,361.91 L258.20,361.26 L258.60,361.35 L259.00,362.32 L259.40,364.40 L259.80,366.42 L260.20,368.34 L260.60,369.85 L261.00,371.36 L261.40,373.12 L261.80,374.23 L262.20,375.03 L262.60,375.37 L263.00,376.27 L263.40,376.77 L263.80,377.24 L264.20,377.65 L264.60,378.30 L265.00,378.94 L265.40,379.46 L265.80,379.94 L266.20,380.22 L266.60,380.48 L267.00,380.87 L267.40,381.48 L267.80,381.98 L268.20,382.48 L268.60,382.87 L269.00,383.41 L269.40,383.53 L269.80,383.73 L270.20,383.59 L270.60,383.87 L271.00,384.20 L271.40,384.26 L271.80,384.02 L272.20,384.02 L272.60,384.45 L273.00,384.64 L273.40,384.71 L273.80,384.76 L274.20,384.62 L274.60,384.74 L275.00,384.89 L275.40,385.31 L275.80,385.35 L276.20,385.57 L276.60,385.77 L277.00,386.17 L277.40,386.59 L277.80,386.72 L278.20,386.62 L278.60,386.79 L279.00,387.37 L279.40,387.46 L279.80,387.02 L280.20,387.02 L280.60,387.21 L281.00,387.30 L281.40,387.61 L281.80,388.01 L282.20,388.09 L282.60,388.15 L283.00,388.41 L283.40,388.63 L283.80,388.84 L284.20,388.95 L284.60,389.11 L285.00,389.43 L285.40,389.72 L285.80,389.74 L286.20,389.86 L286.60,390.09 L287.00,390.26 L287.40,390.40 L287.80,390.59 L288.20,390.73 L288.60,390.79 L289.00,390.80 L289.40,390.80 L289.80,390.80 L290.20,390.80 L290.60,390.80 L291.00,390.80 L291.40,390.80 L291.80,390.80 L292.20,390.80 L292.60,390.80 L293.00,390.80 L293.40,390.80 L293.80,390.80 L294.20,390.80 L294.60,390.80 L295.00,390.80 L295.40,390.80 L295.80,390.80 L296.20,390.80 L296.60,390.80 L297.00,390.80 L297.40,390.80 L297.80,390.80 L298.20,390.80 L298.60,390.80 L299.00,390.80 L299.40,390.80 L299.80,390.80 L300.20,390.80 L300.60,390.80 L301.00,390.80 L301.40,390.80 L301.80,390.80 L302.20,390.80 L302.60,390.80 L303.00,390.80 L303.40,390.80 L303.80,390.80 L304.20,390.80 L304.60,390.80 L305.00,390.80 L305.40,390.80 L305.80,390.80 L306.20,390.80 L306.60,390.80 L307.00,390.80 L307.40,390.80 L307.80,390.80 L308.20,390.80 L308.60,390.80 L309.00,390.80 L309.40,390.80 L309.80,390.80 L310.20,390.80 L310.60,390.80 L311.00,390.80 L311.40,390.80 L311.80,390.80 L312.20,390.80 L312.60,390.80 L313.00,390.80 L313.40,390.80 L313.80,390.80" fill="none" stroke="#c51330" stroke-width="1.45" stroke-linejoin="round" />
<path d="M235.80,405.90 L236.20,405.90 L236.60,405.90 L237.00,405.90 L237.40,405.90 L237.80,405.90 L238.20,405.90 L238.60,405.90 L239.00,405.90 L239.40,405.90 L239.80,405.90 L240.20,405.90 L240.60,405.90 L241.00,405.90 L241.40,405.90 L241.80,405.90 L242.20,405.90 L242.60,405.90 L243.00,405.90 L243.40,405.90 L243.80,405.90 L244.20,405.90 L244.60,405.90 L245.00,405.90 L245.40,405.90 L245.80,405.90 L246.20,405.90 L246.60,405.90 L247.00,405.90 L247.40,405.90 L247.80,405.90 L248.20,405.90 L248.60,405.90 L249.00,405.90 L249.40,405.90 L249.80,405.90 L250.20,405.90 L250.60,405.90 L251.00,405.90 L251.40,405.90 L251.80,405.90 L252.20,405.90 L252.60,405.90 L253.00,405.90 L253.40,405.90 L253.80,405.90 L254.20,405.90 L254.60,405.90 L255.00,405.90 L255.40,405.90 L255.80,405.90 L256.20,405.76 L256.60,405.16 L257.00,404.43 L257.40,403.48 L257.80,402.42 L258.20,400.91 L258.60,400.12 L259.00,399.05 L259.40,398.33 L259.80,397.44 L260.20,397.09 L260.60,396.58 L261.00,396.03 L261.40,394.91 L261.80,393.97 L262.20,393.11 L262.60,392.09 L263.00,390.78 L263.40,389.80 L263.80,388.94 L264.20,388.19 L264.60,387.44 L265.00,386.12 L265.40,383.51 L265.80,381.11 L266.20,379.77 L266.60,380.08 L267.00,380.99 L267.40,381.77 L267.80,382.53 L268.20,383.71 L268.60,384.46 L269.00,384.16 L269.40,383.68 L269.80,383.73 L270.20,383.97 L270.60,384.34 L271.00,385.19 L271.40,385.78 L271.80,386.42 L272.20,386.92 L272.60,387.12 L273.00,387.37 L273.40,387.95 L273.80,388.93 L274.20,388.67 L274.60,388.82 L275.00,388.94 L275.40,388.94 L275.80,388.40 L276.20,388.75 L276.60,389.84 L277.00,390.74 L277.40,391.60 L277.80,392.53 L278.20,393.00 L278.60,393.57 L279.00,393.95 L279.40,394.51 L279.80,394.41 L280.20,394.43 L280.60,394.73 L281.00,395.11 L281.40,395.46 L281.80,395.72 L282.20,396.04 L282.60,396.21 L283.00,396.61 L283.40,397.12 L283.80,397.06 L284.20,397.38 L284.60,397.54 L285.00,398.02 L285.40,398.05 L285.80,398.71 L286.20,398.84 L286.60,398.89 L287.00,398.53 L287.40,398.72 L287.80,399.14 L288.20,399.84 L288.60,399.72 L289.00,399.41 L289.40,399.45 L289.80,399.56 L290.20,399.69 L290.60,399.98 L291.00,400.49 L291.40,400.96 L291.80,401.24 L292.20,401.76 L292.60,401.76 L293.00,401.80 L293.40,401.85 L293.80,402.06 L294.20,402.51 L294.60,402.74 L295.00,403.13 L295.40,403.46 L295.80,403.66 L296.20,403.44 L296.60,402.93 L297.00,403.15 L297.40,403.62 L297.80,403.93 L298.20,404.16 L298.60,404.29 L299.00,404.66 L299.40,404.89 L299.80,405.13 L300.20,405.17 L300.60,405.24 L301.00,405.43 L301.40,405.61 L301.80,405.75 L302.20,405.84 L302.60,405.89 L303.00,405.90 L303.40,405.90 L303.80,405.90 L304.20,405.90 L304.60,405.90 L305.00,405.90 L305.40,405.90 L305.80,405.90 L306.20,405.90 L306.60,405.90 L307.00,405.90 L307.40,405.90 L307.80,405.90 L308.20,405.90 L308.60,405.90 L309.00,405.90 L309.40,405.90 L309.80,405.90 L310.20,405.90 L310.60,405.90 L311.00,405.90 L311.40,405.90 L311.80,405.90 L312.20,405.90 L312.60,405.90 L313.00,405.90 L313.40,405.90 L313.80,405.90" fill="none" stroke="#115284" stroke-width="1.45" stroke-linejoin="round" />
<path d="M235.80,421.60 L236.20,421.60 L236.60,421.60 L237.00,421.60 L237.40,421.60 L237.80,421.60 L238.20,421.60 L238.60,421.60 L239.00,421.60 L239.40,421.60 L239.80,421.60 L240.20,421.60 L240.60,421.60 L241.00,421.60 L241.40,421.60 L241.80,421.60 L242.20,421.60 L242.60,421.60 L243.00,421.60 L243.40,421.60 L243.80,421.60 L244.20,421.60 L244.60,421.60 L245.00,421.60 L245.40,421.60 L245.80,421.60 L246.20,421.60 L246.60,421.60 L247.00,421.60 L247.40,421.60 L247.80,421.60 L248.20,421.60 L248.60,421.60 L249.00,421.60 L249.40,421.60 L249.80,421.60 L250.20,421.60 L250.60,421.60 L251.00,421.60 L251.40,421.60 L251.80,421.60 L252.20,421.60 L252.60,421.60 L253.00,421.60 L253.40,421.60 L253.80,421.60 L254.20,421.56 L254.60,420.61 L255.00,418.66 L255.40,416.03 L255.80,413.02 L256.20,409.79 L256.60,404.24 L257.00,398.28 L257.40,395.50 L257.80,396.36 L258.20,398.28 L258.60,400.30 L259.00,402.25 L259.40,404.43 L259.80,406.55 L260.20,408.33 L260.60,409.56 L261.00,410.59 L261.40,411.49 L261.80,412.29 L262.20,413.00 L262.60,413.63 L263.00,414.20 L263.40,414.73 L263.80,415.23 L264.20,415.69 L264.60,416.13 L265.00,416.53 L265.40,416.89 L265.80,417.21 L266.20,417.48 L266.60,417.71 L267.00,417.93 L267.40,418.14 L267.80,418.33 L268.20,418.52 L268.60,418.69 L269.00,418.86 L269.40,419.02 L269.80,419.16 L270.20,419.30 L270.60,419.44 L271.00,419.56 L271.40,419.68 L271.80,419.80 L272.20,419.91 L272.60,420.01 L273.00,420.11 L273.40,420.20 L273.80,420.29 L274.20,420.39 L274.60,420.48 L275.00,420.57 L275.40,420.66 L275.80,420.75 L276.20,420.84 L276.60,420.93 L277.00,421.01 L277.40,421.09 L277.80,421.17 L278.20,421.24 L278.60,421.30 L279.00,421.36 L279.40,421.42 L279.80,421.47 L280.20,421.51 L280.60,421.54 L281.00,421.57 L281.40,421.59 L281.80,421.60 L282.20,421.60 L282.60,421.60 L283.00,421.60 L283.40,421.60 L283.80,421.60 L284.20,421.60 L284.60,421.60 L285.00,421.60 L285.40,421.60 L285.80,421.60 L286.20,421.60 L286.60,421.60 L287.00,421.60 L287.40,421.60 L287.80,421.60 L288.20,421.60 L288.60,421.60 L289.00,421.60 L289.40,421.60 L289.80,421.60 L290.20,421.60 L290.60,421.60 L291.00,421.60 L291.40,421.60 L291.80,421.60 L292.20,421.60 L292.60,421.60 L293.00,421.60 L293.40,421.60 L293.80,421.60 L294.20,421.60 L294.60,421.60 L295.00,421.60 L295.40,421.60 L295.80,421.60 L296.20,421.60 L296.60,421.60 L297.00,421.60 L297.40,421.60 L297.80,421.60 L298.20,421.60 L298.60,421.60 L299.00,421.60 L299.40,421.60 L299.80,421.60 L300.20,421.60 L300.60,421.60 L301.00,421.60 L301.40,421.60 L301.80,421.60 L302.20,421.60 L302.60,421.60 L303.00,421.60 L303.40,421.60 L303.80,421.60 L304.20,421.60 L304.60,421.60 L305.00,421.60 L305.40,421.60 L305.80,421.60 L306.20,421.60 L306.60,421.60 L307.00,421.60 L307.40,421.60 L307.80,421.60 L308.20,421.60 L308.60,421.60 L309.00,421.60 L309.40,421.60 L309.80,421.60 L310.20,421.60 L310.60,421.60 L311.00,421.60 L311.40,421.60 L311.80,421.60 L312.20,421.60 L312.60,421.60 L313.00,421.60 L313.40,421.60 L313.80,421.60" fill="none" stroke="#38b44c" stroke-width="1.45" stroke-linejoin="round" />
<path d="M235.80,437.00 L236.20,437.00 L236.60,437.00 L237.00,437.00 L237.40,437.00 L237.80,437.00 L238.20,437.00 L238.60,437.00 L239.00,437.00 L239.40,437.00 L239.80,437.00 L240.20,437.00 L240.60,437.00 L241.00,437.00 L241.40,437.00 L241.80,437.00 L242.20,437.00 L242.60,437.00 L243.00,437.00 L243.40,437.00 L243.80,437.00 L244.20,437.00 L244.60,437.00 L245.00,437.00 L245.40,437.00 L245.80,437.00 L246.20,437.00 L246.60,437.00 L247.00,437.00 L247.40,437.00 L247.80,437.00 L248.20,437.00 L248.60,437.00 L249.00,437.00 L249.40,437.00 L249.80,437.00 L250.20,437.00 L250.60,437.00 L251.00,437.00 L251.40,437.00 L251.80,437.00 L252.20,437.00 L252.60,437.00 L253.00,437.00 L253.40,437.00 L253.80,437.00 L254.20,437.00 L254.60,437.00 L255.00,437.00 L255.40,437.00 L255.80,433.95 L256.20,429.60 L256.60,425.37 L257.00,422.23 L257.40,419.36 L257.80,416.45 L258.20,413.81 L258.60,411.74 L259.00,410.56 L259.40,410.46 L259.80,410.92 L260.20,411.70 L260.60,412.68 L261.00,413.71 L261.40,414.72 L261.80,415.96 L262.20,417.38 L262.60,418.89 L263.00,420.38 L263.40,421.75 L263.80,422.90 L264.20,423.88 L264.60,424.82 L265.00,425.72 L265.40,426.56 L265.80,427.35 L266.20,428.09 L266.60,428.76 L267.00,429.38 L267.40,429.93 L267.80,430.45 L268.20,430.95 L268.60,431.42 L269.00,431.87 L269.40,432.29 L269.80,432.68 L270.20,433.05 L270.60,433.38 L271.00,433.69 L271.40,433.97 L271.80,434.22 L272.20,434.44 L272.60,434.64 L273.00,434.81 L273.40,434.97 L273.80,435.13 L274.20,435.27 L274.60,435.42 L275.00,435.57 L275.40,435.72 L275.80,435.89 L276.20,436.08 L276.60,436.29 L277.00,436.54 L277.40,436.91 L277.80,437.00 L278.20,437.00 L278.60,437.00 L279.00,437.00 L279.40,437.00 L279.80,437.00 L280.20,437.00 L280.60,437.00 L281.00,437.00 L281.40,437.00 L281.80,437.00 L282.20,437.00 L282.60,437.00 L283.00,437.00 L283.40,437.00 L283.80,437.00 L284.20,437.00 L284.60,437.00 L285.00,437.00 L285.40,437.00 L285.80,437.00 L286.20,437.00 L286.60,437.00 L287.00,437.00 L287.40,437.00 L287.80,437.00 L288.20,437.00 L288.60,437.00 L289.00,437.00 L289.40,437.00 L289.80,437.00 L290.20,437.00 L290.60,437.00 L291.00,437.00 L291.40,437.00 L291.80,437.00 L292.20,437.00 L292.60,437.00 L293.00,437.00 L293.40,437.00 L293.80,437.00 L294.20,437.00 L294.60,437.00 L295.00,437.00 L295.40,437.00 L295.80,437.00 L296.20,437.00 L296.60,437.00 L297.00,437.00 L297.40,437.00 L297.80,437.00 L298.20,437.00 L298.60,437.00 L299.00,437.00 L299.40,437.00 L299.80,437.00 L300.20,437.00 L300.60,437.00 L301.00,437.00 L301.40,437.00 L301.80,437.00 L302.20,437.00 L302.60,437.00 L303.00,437.00 L303.40,437.00 L303.80,437.00 L304.20,437.00 L304.60,437.00 L305.00,437.00 L305.40,437.00 L305.80,437.00 L306.20,437.00 L306.60,437.00 L307.00,437.00 L307.40,437.00 L307.80,437.00 L308.20,437.00 L308.60,437.00 L309.00,437.00 L309.40,437.00 L309.80,437.00 L310.20,437.00 L310.60,437.00 L311.00,437.00 L311.40,437.00 L311.80,437.00 L312.20,437.00 L312.60,437.00 L313.00,437.00 L313.40,437.00 L313.80,437.00" fill="none" stroke="#58286c" stroke-width="1.45" stroke-linejoin="round" />
<text x="313.20" y="387.50" font-size="7.4" stroke="#c51330" stroke-width="0.12" text-anchor="end" fill="#c51330">876</text>
<text x="313.20" y="403.80" font-size="7.4" stroke="#115284" stroke-width="0.12" text-anchor="end" fill="#115284">2514</text>
<text x="313.20" y="419.00" font-size="7.4" stroke="#38b44c" stroke-width="0.12" text-anchor="end" fill="#38b44c">492</text>
<text x="313.20" y="434.20" font-size="7.4" stroke="#58286c" stroke-width="0.12" text-anchor="end" fill="#58286c">844</text>
<path d="M235.80,436.70 V358.20 H314.10 V436.70" fill="none" stroke="#1a1a1a" stroke-width="1.1"/>
<line x1="235.30" y1="436.70" x2="314.60" y2="436.70" stroke="#1a1a1a" stroke-width="1.6" />
<path d="M337.65,436.70v2.6 M343.09,436.70v1.7 M346.27,436.70v1.7 M348.53,436.70v1.7 M350.28,436.70v1.7 M351.72,436.70v1.7 M352.93,436.70v1.7 M353.97,436.70v1.7 M354.90,436.70v1.7 M355.72,436.70v2.6 M361.17,436.70v1.7 M364.35,436.70v1.7 M366.61,436.70v1.7 M368.36,436.70v1.7 M369.79,436.70v1.7 M371.00,436.70v1.7 M372.05,436.70v1.7 M372.97,436.70v1.7 M373.80,436.70v2.6 M379.24,436.70v1.7 M382.42,436.70v1.7 M384.68,436.70v1.7 M386.43,436.70v1.7 M387.87,436.70v1.7 M389.08,436.70v1.7 M390.12,436.70v1.7 M391.05,436.70v1.7 M391.88,436.70v2.6 M397.32,436.70v1.7 M400.50,436.70v1.7 M402.76,436.70v1.7 M404.51,436.70v1.7 M405.94,436.70v1.7 M407.15,436.70v1.7 M408.20,436.70v1.7 M409.12,436.70v1.7" stroke="#222" stroke-width="0.75" fill="none"/>
<text x="373.80" y="355.00" font-size="8.8" stroke="#222" stroke-width="0.22" text-anchor="middle" textLength="29.80" lengthAdjust="spacingAndGlyphs" fill="#222">AML#5</text>
<path d="M334.65,390.80 L335.05,390.80 L335.45,390.80 L335.85,390.80 L336.25,390.80 L336.65,390.80 L337.05,390.80 L337.45,390.80 L337.85,390.80 L338.25,390.80 L338.65,390.80 L339.05,390.80 L339.45,390.80 L339.85,390.80 L340.25,390.80 L340.65,390.80 L341.05,390.80 L341.45,390.80 L341.85,390.80 L342.25,390.80 L342.65,390.80 L343.05,390.80 L343.45,390.80 L343.85,390.80 L344.25,390.80 L344.65,390.80 L345.05,390.80 L345.45,390.80 L345.85,390.80 L346.25,390.80 L346.65,390.80 L347.05,390.80 L347.45,390.80 L347.85,390.80 L348.25,390.80 L348.65,390.80 L349.05,390.80 L349.45,390.80 L349.85,390.80 L350.25,390.80 L350.65,390.80 L351.05,390.80 L351.45,390.80 L351.85,390.80 L352.25,390.80 L352.65,390.80 L353.05,390.80 L353.45,390.73 L353.85,389.71 L354.25,387.41 L354.65,383.79 L355.05,380.17 L355.45,378.40 L355.85,376.26 L356.25,374.69 L356.65,373.72 L357.05,374.07 L357.45,374.64 L357.85,374.55 L358.25,374.41 L358.65,374.31 L359.05,374.10 L359.45,373.64 L359.85,373.38 L360.25,373.32 L360.65,372.58 L361.05,372.19 L361.45,371.74 L361.85,371.61 L362.25,370.89 L362.65,370.47 L363.05,369.88 L363.45,369.34 L363.85,368.68 L364.25,367.95 L364.65,367.14 L365.05,366.83 L365.45,366.66 L365.85,367.12 L366.25,366.93 L366.65,366.58 L367.05,365.83 L367.45,365.96 L367.85,365.81 L368.25,365.74 L368.65,365.86 L369.05,365.81 L369.45,365.30 L369.85,365.35 L370.25,365.80 L370.65,366.13 L371.05,365.37 L371.45,364.77 L371.85,364.22 L372.25,364.75 L372.65,364.70 L373.05,364.74 L373.45,364.51 L373.85,364.75 L374.25,364.81 L374.65,365.31 L375.05,365.67 L375.45,366.11 L375.85,366.17 L376.25,366.77 L376.65,367.17 L377.05,367.25 L377.45,367.12 L377.85,366.96 L378.25,366.87 L378.65,366.67 L379.05,368.17 L379.45,370.74 L379.85,373.43 L380.25,375.36 L380.65,376.99 L381.05,378.28 L381.45,378.36 L381.85,378.49 L382.25,379.48 L382.65,381.14 L383.05,381.64 L383.45,382.15 L383.85,382.57 L384.25,383.14 L384.65,383.45 L385.05,384.00 L385.45,385.15 L385.85,385.96 L386.25,386.30 L386.65,386.14 L387.05,386.53 L387.45,387.23 L387.85,387.90 L388.25,388.63 L388.65,388.67 L389.05,388.91 L389.45,389.22 L389.85,389.75 L390.25,390.10 L390.65,390.36 L391.05,390.49 L391.45,390.61 L391.85,390.72 L392.25,390.79 L392.65,390.80 L393.05,390.80 L393.45,390.80 L393.85,390.80 L394.25,390.80 L394.65,390.80 L395.05,390.80 L395.45,390.80 L395.85,390.80 L396.25,390.80 L396.65,390.80 L397.05,390.80 L397.45,390.80 L397.85,390.80 L398.25,390.80 L398.65,390.80 L399.05,390.80 L399.45,390.80 L399.85,390.80 L400.25,390.80 L400.65,390.80 L401.05,390.80 L401.45,390.80 L401.85,390.80 L402.25,390.80 L402.65,390.80 L403.05,390.80 L403.45,390.80 L403.85,390.80 L404.25,390.80 L404.65,390.80 L405.05,390.80 L405.45,390.80 L405.85,390.80 L406.25,390.80 L406.65,390.80 L407.05,390.80 L407.45,390.80 L407.85,390.80 L408.25,390.80 L408.65,390.80 L409.05,390.80 L409.45,390.80 L409.85,390.80 L410.25,390.80 L410.65,390.80 L411.05,390.80 L411.45,390.80 L411.85,390.80 L412.25,390.80 L412.65,390.80" fill="none" stroke="#c51330" stroke-width="1.45" stroke-linejoin="round" />
<path d="M334.65,405.90 L335.05,405.90 L335.45,405.90 L335.85,405.90 L336.25,405.90 L336.65,405.90 L337.05,405.90 L337.45,405.90 L337.85,405.90 L338.25,405.90 L338.65,405.90 L339.05,405.90 L339.45,405.90 L339.85,405.90 L340.25,405.90 L340.65,405.90 L341.05,405.90 L341.45,405.90 L341.85,405.90 L342.25,405.90 L342.65,405.90 L343.05,405.90 L343.45,405.90 L343.85,405.90 L344.25,405.90 L344.65,405.90 L345.05,405.90 L345.45,405.90 L345.85,405.90 L346.25,405.90 L346.65,405.90 L347.05,405.90 L347.45,405.90 L347.85,405.90 L348.25,405.90 L348.65,405.90 L349.05,405.90 L349.45,405.90 L349.85,405.90 L350.25,405.90 L350.65,405.90 L351.05,405.90 L351.45,405.90 L351.85,405.90 L352.25,405.90 L352.65,405.90 L353.05,405.90 L353.45,405.90 L353.85,405.90 L354.25,405.87 L354.65,405.27 L355.05,404.19 L355.45,403.40 L355.85,402.45 L356.25,400.43 L356.65,398.42 L357.05,396.85 L357.45,396.35 L357.85,396.12 L358.25,396.01 L358.65,396.51 L359.05,397.25 L359.45,397.83 L359.85,398.27 L360.25,399.03 L360.65,399.77 L361.05,400.10 L361.45,400.32 L361.85,400.03 L362.25,399.84 L362.65,399.99 L363.05,400.58 L363.45,401.17 L363.85,401.09 L364.25,400.93 L364.65,400.74 L365.05,400.95 L365.45,400.21 L365.85,400.07 L366.25,399.79 L366.65,400.11 L367.05,399.58 L367.45,399.01 L367.85,398.19 L368.25,398.02 L368.65,397.92 L369.05,397.53 L369.45,397.43 L369.85,396.79 L370.25,396.64 L370.65,396.53 L371.05,396.87 L371.45,396.55 L371.85,396.44 L372.25,396.30 L372.65,396.42 L373.05,396.59 L373.45,396.61 L373.85,395.90 L374.25,394.77 L374.65,394.51 L375.05,394.61 L375.45,394.95 L375.85,394.32 L376.25,393.97 L376.65,392.83 L377.05,392.63 L377.45,392.25 L377.85,392.46 L378.25,392.06 L378.65,391.72 L379.05,391.31 L379.45,390.61 L379.85,390.10 L380.25,389.18 L380.65,388.48 L381.05,388.16 L381.45,388.00 L381.85,387.45 L382.25,386.53 L382.65,385.71 L383.05,384.91 L383.45,384.20 L383.85,383.57 L384.25,383.00 L384.65,382.64 L385.05,382.29 L385.45,381.97 L385.85,381.50 L386.25,381.54 L386.65,381.56 L387.05,381.73 L387.45,381.60 L387.85,382.09 L388.25,382.49 L388.65,382.98 L389.05,383.38 L389.45,384.50 L389.85,385.31 L390.25,386.16 L390.65,387.21 L391.05,388.99 L391.45,390.88 L391.85,392.72 L392.25,394.41 L392.65,395.90 L393.05,397.62 L393.45,399.16 L393.85,400.26 L394.25,400.75 L394.65,401.41 L395.05,402.15 L395.45,402.44 L395.85,403.03 L396.25,403.57 L396.65,404.34 L397.05,404.68 L397.45,404.90 L397.85,404.99 L398.25,405.26 L398.65,405.40 L399.05,405.54 L399.45,405.65 L399.85,405.73 L400.25,405.76 L400.65,405.78 L401.05,405.81 L401.45,405.84 L401.85,405.87 L402.25,405.89 L402.65,405.90 L403.05,405.90 L403.45,405.90 L403.85,405.90 L404.25,405.90 L404.65,405.90 L405.05,405.90 L405.45,405.90 L405.85,405.90 L406.25,405.90 L406.65,405.90 L407.05,405.90 L407.45,405.90 L407.85,405.90 L408.25,405.90 L408.65,405.90 L409.05,405.90 L409.45,405.90 L409.85,405.90 L410.25,405.90 L410.65,405.90 L411.05,405.90 L411.45,405.90 L411.85,405.90 L412.25,405.90 L412.65,405.90" fill="none" stroke="#115284" stroke-width="1.45" stroke-linejoin="round" />
<path d="M334.65,421.60 L335.05,421.60 L335.45,421.60 L335.85,421.60 L336.25,421.60 L336.65,421.60 L337.05,421.60 L337.45,421.60 L337.85,421.60 L338.25,421.60 L338.65,421.60 L339.05,421.60 L339.45,421.60 L339.85,421.60 L340.25,421.60 L340.65,421.60 L341.05,421.60 L341.45,421.60 L341.85,421.60 L342.25,421.60 L342.65,421.60 L343.05,421.60 L343.45,421.60 L343.85,421.60 L344.25,421.60 L344.65,421.60 L345.05,421.60 L345.45,421.60 L345.85,421.60 L346.25,421.60 L346.65,421.60 L347.05,421.60 L347.45,421.60 L347.85,421.60 L348.25,421.60 L348.65,421.60 L349.05,421.60 L349.45,421.60 L349.85,421.60 L350.25,421.60 L350.65,421.60 L351.05,421.60 L351.45,421.60 L351.85,421.60 L352.25,421.60 L352.65,421.60 L353.05,421.60 L353.45,421.60 L353.85,421.60 L354.25,421.60 L354.65,421.60 L355.05,421.60 L355.45,419.00 L355.85,413.22 L356.25,408.55 L356.65,407.28 L357.05,406.60 L357.45,406.85 L357.85,407.67 L358.25,408.75 L358.65,409.09 L359.05,409.47 L359.45,409.54 L359.85,409.51 L360.25,409.65 L360.65,409.41 L361.05,409.56 L361.45,409.20 L361.85,409.36 L362.25,409.55 L362.65,410.06 L363.05,410.43 L363.45,410.17 L363.85,409.94 L364.25,409.76 L364.65,409.30 L365.05,408.52 L365.45,407.80 L365.85,407.84 L366.25,408.04 L366.65,407.78 L367.05,407.13 L367.45,406.47 L367.85,405.74 L368.25,404.84 L368.65,404.58 L369.05,404.99 L369.45,404.86 L369.85,404.15 L370.25,403.17 L370.65,402.16 L371.05,401.38 L371.45,401.05 L371.85,401.29 L372.25,401.16 L372.65,400.37 L373.05,399.39 L373.45,399.15 L373.85,398.95 L374.25,398.70 L374.65,398.30 L375.05,398.21 L375.45,397.39 L375.85,397.09 L376.25,396.73 L376.65,396.45 L377.05,396.28 L377.45,396.86 L377.85,397.79 L378.25,397.65 L378.65,397.60 L379.05,397.65 L379.45,398.39 L379.85,399.00 L380.25,399.84 L380.65,401.07 L381.05,401.75 L381.45,402.85 L381.85,403.84 L382.25,405.27 L382.65,406.26 L383.05,407.10 L383.45,408.60 L383.85,409.89 L384.25,410.84 L384.65,411.51 L385.05,412.91 L385.45,413.88 L385.85,414.55 L386.25,415.81 L386.65,416.69 L387.05,416.89 L387.45,417.57 L387.85,418.62 L388.25,419.30 L388.65,419.77 L389.05,420.54 L389.45,420.81 L389.85,420.78 L390.25,420.88 L390.65,421.16 L391.05,421.37 L391.45,421.47 L391.85,421.55 L392.25,421.59 L392.65,421.60 L393.05,421.60 L393.45,421.60 L393.85,421.60 L394.25,421.60 L394.65,421.60 L395.05,421.60 L395.45,421.60 L395.85,421.60 L396.25,421.60 L396.65,421.60 L397.05,421.60 L397.45,421.60 L397.85,421.60 L398.25,421.60 L398.65,421.60 L399.05,421.60 L399.45,421.60 L399.85,421.60 L400.25,421.60 L400.65,421.60 L401.05,421.60 L401.45,421.60 L401.85,421.60 L402.25,421.60 L402.65,421.60 L403.05,421.60 L403.45,421.60 L403.85,421.60 L404.25,421.60 L404.65,421.60 L405.05,421.60 L405.45,421.60 L405.85,421.60 L406.25,421.60 L406.65,421.60 L407.05,421.60 L407.45,421.60 L407.85,421.60 L408.25,421.60 L408.65,421.60 L409.05,421.60 L409.45,421.60 L409.85,421.60 L410.25,421.60 L410.65,421.60 L411.05,421.60 L411.45,421.60 L411.85,421.60 L412.25,421.60 L412.65,421.60" fill="none" stroke="#38b44c" stroke-width="1.45" stroke-linejoin="round" />
<path d="M334.65,437.00 L335.05,437.00 L335.45,437.00 L335.85,437.00 L336.25,437.00 L336.65,437.00 L337.05,437.00 L337.45,437.00 L337.85,437.00 L338.25,437.00 L338.65,437.00 L339.05,437.00 L339.45,437.00 L339.85,437.00 L340.25,437.00 L340.65,437.00 L341.05,437.00 L341.45,437.00 L341.85,437.00 L342.25,437.00 L342.65,437.00 L343.05,437.00 L343.45,437.00 L343.85,437.00 L344.25,437.00 L344.65,437.00 L345.05,437.00 L345.45,437.00 L345.85,437.00 L346.25,437.00 L346.65,437.00 L347.05,437.00 L347.45,437.00 L347.85,437.00 L348.25,437.00 L348.65,437.00 L349.05,437.00 L349.45,437.00 L349.85,437.00 L350.25,437.00 L350.65,437.00 L351.05,437.00 L351.45,437.00 L351.85,437.00 L352.25,437.00 L352.65,437.00 L353.05,437.00 L353.45,437.00 L353.85,437.00 L354.25,437.00 L354.65,437.00 L355.05,435.34 L355.45,432.14 L355.85,428.54 L356.25,425.43 L356.65,423.14 L357.05,422.42 L357.45,422.43 L357.85,423.14 L358.25,423.86 L358.65,425.01 L359.05,425.53 L359.45,426.89 L359.85,427.51 L360.25,427.66 L360.65,427.01 L361.05,427.17 L361.45,427.96 L361.85,428.31 L362.25,427.97 L362.65,428.31 L363.05,428.97 L363.45,429.19 L363.85,428.64 L364.25,428.99 L364.65,429.09 L365.05,428.85 L365.45,428.36 L365.85,428.01 L366.25,427.44 L366.65,427.16 L367.05,426.78 L367.45,426.77 L367.85,426.06 L368.25,426.14 L368.65,425.48 L369.05,425.70 L369.45,425.13 L369.85,424.74 L370.25,424.20 L370.65,423.85 L371.05,423.75 L371.45,423.42 L371.85,423.09 L372.25,422.32 L372.65,421.64 L373.05,421.06 L373.45,419.95 L373.85,419.21 L374.25,419.01 L374.65,419.25 L375.05,418.98 L375.45,418.44 L375.85,418.06 L376.25,417.22 L376.65,416.55 L377.05,416.25 L377.45,416.44 L377.85,415.77 L378.25,414.81 L378.65,414.28 L379.05,414.26 L379.45,414.08 L379.85,413.34 L380.25,412.64 L380.65,412.46 L381.05,412.19 L381.45,412.21 L381.85,411.88 L382.25,411.16 L382.65,409.97 L383.05,410.36 L383.45,411.48 L383.85,412.47 L384.25,412.67 L384.65,413.35 L385.05,413.97 L385.45,415.00 L385.85,415.93 L386.25,417.52 L386.65,418.98 L387.05,420.26 L387.45,421.41 L387.85,422.09 L388.25,422.70 L388.65,423.91 L389.05,425.16 L389.45,426.20 L389.85,426.66 L390.25,427.86 L390.65,428.95 L391.05,430.36 L391.45,431.49 L391.85,432.28 L392.25,433.14 L392.65,433.47 L393.05,434.11 L393.45,434.61 L393.85,435.33 L394.25,436.03 L394.65,436.64 L395.05,437.00 L395.45,437.00 L395.85,437.00 L396.25,437.00 L396.65,437.00 L397.05,437.00 L397.45,437.00 L397.85,437.00 L398.25,437.00 L398.65,437.00 L399.05,437.00 L399.45,437.00 L399.85,437.00 L400.25,437.00 L400.65,437.00 L401.05,437.00 L401.45,437.00 L401.85,437.00 L402.25,437.00 L402.65,437.00 L403.05,437.00 L403.45,437.00 L403.85,437.00 L404.25,437.00 L404.65,437.00 L405.05,437.00 L405.45,437.00 L405.85,437.00 L406.25,437.00 L406.65,437.00 L407.05,437.00 L407.45,437.00 L407.85,437.00 L408.25,437.00 L408.65,437.00 L409.05,437.00 L409.45,437.00 L409.85,437.00 L410.25,437.00 L410.65,437.00 L411.05,437.00 L411.45,437.00 L411.85,437.00 L412.25,437.00 L412.65,437.00" fill="none" stroke="#58286c" stroke-width="1.45" stroke-linejoin="round" />
<text x="412.05" y="387.50" font-size="7.4" stroke="#c51330" stroke-width="0.12" text-anchor="end" fill="#c51330">1358</text>
<text x="412.05" y="403.80" font-size="7.4" stroke="#115284" stroke-width="0.12" text-anchor="end" fill="#115284">4209</text>
<text x="412.05" y="419.00" font-size="7.4" stroke="#38b44c" stroke-width="0.12" text-anchor="end" fill="#38b44c">1867</text>
<text x="412.05" y="434.20" font-size="7.4" stroke="#58286c" stroke-width="0.12" text-anchor="end" fill="#58286c">2770</text>
<path d="M334.65,436.70 V358.20 H412.95 V436.70" fill="none" stroke="#1a1a1a" stroke-width="1.1"/>
<line x1="334.15" y1="436.70" x2="413.45" y2="436.70" stroke="#1a1a1a" stroke-width="1.6" />
<path d="M436.50,436.70v2.6 M441.94,436.70v1.7 M445.12,436.70v1.7 M447.38,436.70v1.7 M449.13,436.70v1.7 M450.57,436.70v1.7 M451.78,436.70v1.7 M452.82,436.70v1.7 M453.75,436.70v1.7 M454.57,436.70v2.6 M460.02,436.70v1.7 M463.20,436.70v1.7 M465.46,436.70v1.7 M467.21,436.70v1.7 M468.64,436.70v1.7 M469.85,436.70v1.7 M470.90,436.70v1.7 M471.82,436.70v1.7 M472.65,436.70v2.6 M478.09,436.70v1.7 M481.27,436.70v1.7 M483.53,436.70v1.7 M485.28,436.70v1.7 M486.72,436.70v1.7 M487.93,436.70v1.7 M488.97,436.70v1.7 M489.90,436.70v1.7 M490.73,436.70v2.6 M496.17,436.70v1.7 M499.35,436.70v1.7 M501.61,436.70v1.7 M503.36,436.70v1.7 M504.79,436.70v1.7 M506.00,436.70v1.7 M507.05,436.70v1.7 M507.97,436.70v1.7" stroke="#222" stroke-width="0.75" fill="none"/>
<text x="472.65" y="355.00" font-size="8.8" stroke="#222" stroke-width="0.22" text-anchor="middle" textLength="29.80" lengthAdjust="spacingAndGlyphs" fill="#222">AML#6</text>
<path d="M433.50,390.80 L433.90,390.80 L434.30,390.80 L434.70,390.80 L435.10,390.80 L435.50,390.80 L435.90,390.80 L436.30,390.80 L436.70,390.80 L437.10,390.80 L437.50,390.80 L437.90,390.80 L438.30,390.80 L438.70,390.80 L439.10,390.80 L439.50,390.80 L439.90,390.80 L440.30,390.80 L440.70,390.80 L441.10,390.79 L441.50,390.76 L441.90,390.70 L442.30,390.62 L442.70,390.51 L443.10,390.38 L443.50,390.25 L443.90,390.14 L444.30,390.10 L444.70,389.99 L445.10,389.76 L445.50,389.54 L445.90,389.57 L446.30,389.47 L446.70,389.42 L447.10,389.16 L447.50,389.06 L447.90,388.84 L448.30,388.58 L448.70,388.07 L449.10,387.41 L449.50,386.70 L449.90,386.13 L450.30,386.02 L450.70,385.63 L451.10,384.97 L451.50,384.33 L451.90,383.74 L452.30,383.18 L452.70,382.47 L453.10,382.11 L453.50,381.51 L453.90,380.74 L454.30,379.79 L454.70,378.95 L455.10,378.33 L455.50,376.87 L455.90,375.33 L456.30,373.40 L456.70,372.45 L457.10,371.30 L457.50,370.32 L457.90,368.65 L458.30,367.53 L458.70,366.32 L459.10,365.87 L459.50,365.09 L459.90,364.61 L460.30,364.03 L460.70,363.75 L461.10,363.76 L461.50,363.63 L461.90,363.83 L462.30,364.38 L462.70,365.78 L463.10,366.74 L463.50,366.83 L463.90,366.66 L464.30,366.43 L464.70,366.22 L465.10,365.91 L465.50,365.63 L465.90,365.71 L466.30,366.08 L466.70,366.77 L467.10,367.44 L467.50,368.79 L467.90,370.01 L468.30,371.28 L468.70,371.90 L469.10,372.20 L469.50,372.88 L469.90,374.02 L470.30,375.17 L470.70,376.16 L471.10,376.90 L471.50,377.56 L471.90,378.03 L472.30,378.73 L472.70,378.95 L473.10,379.85 L473.50,381.43 L473.90,382.86 L474.30,384.13 L474.70,384.90 L475.10,385.53 L475.50,385.52 L475.90,386.15 L476.30,386.70 L476.70,387.27 L477.10,387.53 L477.50,387.62 L477.90,388.16 L478.30,388.70 L478.70,389.04 L479.10,389.11 L479.50,389.40 L479.90,389.85 L480.30,390.07 L480.70,390.11 L481.10,390.04 L481.50,390.03 L481.90,390.10 L482.30,390.16 L482.70,390.18 L483.10,390.23 L483.50,390.33 L483.90,390.47 L484.30,390.57 L484.70,390.63 L485.10,390.63 L485.50,390.67 L485.90,390.72 L486.30,390.77 L486.70,390.79 L487.10,390.80 L487.50,390.80 L487.90,390.80 L488.30,390.80 L488.70,390.80 L489.10,390.80 L489.50,390.80 L489.90,390.80 L490.30,390.80 L490.70,390.80 L491.10,390.80 L491.50,390.80 L491.90,390.80 L492.30,390.80 L492.70,390.80 L493.10,390.80 L493.50,390.80 L493.90,390.80 L494.30,390.80 L494.70,390.80 L495.10,390.80 L495.50,390.80 L495.90,390.80 L496.30,390.80 L496.70,390.80 L497.10,390.80 L497.50,390.80 L497.90,390.80 L498.30,390.80 L498.70,390.80 L499.10,390.80 L499.50,390.80 L499.90,390.80 L500.30,390.80 L500.70,390.80 L501.10,390.80 L501.50,390.80 L501.90,390.80 L502.30,390.80 L502.70,390.80 L503.10,390.80 L503.50,390.80 L503.90,390.80 L504.30,390.80 L504.70,390.80 L505.10,390.80 L505.50,390.80 L505.90,390.80 L506.30,390.80 L506.70,390.80 L507.10,390.80 L507.50,390.80 L507.90,390.80 L508.30,390.80 L508.70,390.80 L509.10,390.80 L509.50,390.80 L509.90,390.80 L510.30,390.80 L510.70,390.80 L511.10,390.80 L511.50,390.80" fill="none" stroke="#c51330" stroke-width="1.45" stroke-linejoin="round" />
<path d="M433.50,405.90 L433.90,405.90 L434.30,405.90 L434.70,405.90 L435.10,405.90 L435.50,405.90 L435.90,405.90 L436.30,405.90 L436.70,405.90 L437.10,405.90 L437.50,405.90 L437.90,405.90 L438.30,405.90 L438.70,405.90 L439.10,405.90 L439.50,405.90 L439.90,405.90 L440.30,405.90 L440.70,405.90 L441.10,405.90 L441.50,405.90 L441.90,405.90 L442.30,405.90 L442.70,405.90 L443.10,405.90 L443.50,405.90 L443.90,405.90 L444.30,405.90 L444.70,405.90 L445.10,405.90 L445.50,405.90 L445.90,405.90 L446.30,405.90 L446.70,405.90 L447.10,405.90 L447.50,405.90 L447.90,405.90 L448.30,405.90 L448.70,405.90 L449.10,405.90 L449.50,405.90 L449.90,405.90 L450.30,405.90 L450.70,405.90 L451.10,405.90 L451.50,405.90 L451.90,405.90 L452.30,405.90 L452.70,405.90 L453.10,405.88 L453.50,405.84 L453.90,405.76 L454.30,405.65 L454.70,405.50 L455.10,405.33 L455.50,405.18 L455.90,405.08 L456.30,405.04 L456.70,404.84 L457.10,404.35 L457.50,404.04 L457.90,403.74 L458.30,403.72 L458.70,403.40 L459.10,403.17 L459.50,402.07 L459.90,401.28 L460.30,400.49 L460.70,399.70 L461.10,398.59 L461.50,397.91 L461.90,397.25 L462.30,396.49 L462.70,395.42 L463.10,394.42 L463.50,393.47 L463.90,392.85 L464.30,391.96 L464.70,390.65 L465.10,388.87 L465.50,387.24 L465.90,386.29 L466.30,385.74 L466.70,385.36 L467.10,384.20 L467.50,383.26 L467.90,382.46 L468.30,381.91 L468.70,381.12 L469.10,380.16 L469.50,379.49 L469.90,379.31 L470.30,379.56 L470.70,380.05 L471.10,380.50 L471.50,381.27 L471.90,382.31 L472.30,383.73 L472.70,384.90 L473.10,385.95 L473.50,386.75 L473.90,387.66 L474.30,388.62 L474.70,389.98 L475.10,391.08 L475.50,392.02 L475.90,392.84 L476.30,393.67 L476.70,394.42 L477.10,395.18 L477.50,396.14 L477.90,396.98 L478.30,397.77 L478.70,398.34 L479.10,398.97 L479.50,399.42 L479.90,399.97 L480.30,400.56 L480.70,401.31 L481.10,401.81 L481.50,401.72 L481.90,401.90 L482.30,402.31 L482.70,402.66 L483.10,402.61 L483.50,402.90 L483.90,403.34 L484.30,403.41 L484.70,403.55 L485.10,403.75 L485.50,404.12 L485.90,404.47 L486.30,404.76 L486.70,404.90 L487.10,405.01 L487.50,405.19 L487.90,405.39 L488.30,405.49 L488.70,405.56 L489.10,405.59 L489.50,405.66 L489.90,405.72 L490.30,405.78 L490.70,405.80 L491.10,405.84 L491.50,405.86 L491.90,405.89 L492.30,405.90 L492.70,405.90 L493.10,405.90 L493.50,405.90 L493.90,405.90 L494.30,405.90 L494.70,405.90 L495.10,405.90 L495.50,405.90 L495.90,405.90 L496.30,405.90 L496.70,405.90 L497.10,405.90 L497.50,405.90 L497.90,405.90 L498.30,405.90 L498.70,405.90 L499.10,405.90 L499.50,405.90 L499.90,405.90 L500.30,405.90 L500.70,405.90 L501.10,405.90 L501.50,405.90 L501.90,405.90 L502.30,405.90 L502.70,405.90 L503.10,405.90 L503.50,405.90 L503.90,405.90 L504.30,405.90 L504.70,405.90 L505.10,405.90 L505.50,405.90 L505.90,405.90 L506.30,405.90 L506.70,405.90 L507.10,405.90 L507.50,405.90 L507.90,405.90 L508.30,405.90 L508.70,405.90 L509.10,405.90 L509.50,405.90 L509.90,405.90 L510.30,405.90 L510.70,405.90 L511.10,405.90 L511.50,405.90" fill="none" stroke="#115284" stroke-width="1.45" stroke-linejoin="round" />
<path d="M433.50,421.60 L433.90,421.60 L434.30,421.60 L434.70,421.60 L435.10,421.60 L435.50,421.60 L435.90,421.60 L436.30,421.60 L436.70,421.60 L437.10,421.60 L437.50,421.60 L437.90,421.60 L438.30,421.60 L438.70,421.60 L439.10,421.60 L439.50,421.60 L439.90,421.60 L440.30,421.60 L440.70,421.60 L441.10,421.60 L441.50,421.60 L441.90,421.60 L442.30,421.60 L442.70,421.60 L443.10,421.60 L443.50,421.60 L443.90,421.60 L444.30,421.60 L444.70,421.60 L445.10,421.60 L445.50,421.60 L445.90,421.60 L446.30,421.53 L446.70,421.40 L447.10,421.21 L447.50,420.93 L447.90,420.75 L448.30,420.51 L448.70,420.19 L449.10,419.53 L449.50,418.89 L449.90,418.36 L450.30,417.83 L450.70,417.29 L451.10,416.57 L451.50,415.63 L451.90,414.30 L452.30,413.12 L452.70,412.44 L453.10,411.74 L453.50,410.80 L453.90,409.69 L454.30,408.66 L454.70,407.36 L455.10,406.05 L455.50,405.20 L455.90,404.42 L456.30,403.33 L456.70,401.56 L457.10,400.06 L457.50,399.05 L457.90,398.87 L458.30,399.17 L458.70,399.41 L459.10,399.49 L459.50,399.95 L459.90,400.69 L460.30,401.45 L460.70,402.17 L461.10,402.94 L461.50,403.38 L461.90,403.92 L462.30,404.52 L462.70,405.78 L463.10,406.56 L463.50,407.29 L463.90,407.62 L464.30,408.36 L464.70,409.20 L465.10,409.79 L465.50,410.14 L465.90,410.05 L466.30,410.49 L466.70,411.19 L467.10,411.92 L467.50,412.09 L467.90,412.24 L468.30,412.64 L468.70,413.10 L469.10,413.43 L469.50,413.56 L469.90,414.02 L470.30,414.48 L470.70,414.97 L471.10,415.38 L471.50,415.64 L471.90,415.74 L472.30,415.80 L472.70,416.17 L473.10,416.70 L473.50,417.08 L473.90,417.30 L474.30,417.44 L474.70,417.66 L475.10,417.73 L475.50,417.51 L475.90,417.59 L476.30,417.88 L476.70,418.35 L477.10,418.85 L477.50,419.12 L477.90,419.15 L478.30,418.73 L478.70,418.82 L479.10,419.06 L479.50,419.46 L479.90,419.71 L480.30,419.79 L480.70,419.78 L481.10,419.76 L481.50,420.05 L481.90,420.16 L482.30,420.37 L482.70,420.44 L483.10,420.47 L483.50,420.53 L483.90,420.73 L484.30,420.90 L484.70,420.95 L485.10,421.07 L485.50,421.15 L485.90,421.21 L486.30,421.25 L486.70,421.34 L487.10,421.39 L487.50,421.46 L487.90,421.52 L488.30,421.57 L488.70,421.59 L489.10,421.60 L489.50,421.60 L489.90,421.60 L490.30,421.60 L490.70,421.60 L491.10,421.60 L491.50,421.60 L491.90,421.60 L492.30,421.60 L492.70,421.60 L493.10,421.60 L493.50,421.60 L493.90,421.60 L494.30,421.60 L494.70,421.60 L495.10,421.60 L495.50,421.60 L495.90,421.60 L496.30,421.60 L496.70,421.60 L497.10,421.60 L497.50,421.60 L497.90,421.60 L498.30,421.60 L498.70,421.60 L499.10,421.60 L499.50,421.60 L499.90,421.60 L500.30,421.60 L500.70,421.60 L501.10,421.60 L501.50,421.60 L501.90,421.60 L502.30,421.60 L502.70,421.60 L503.10,421.60 L503.50,421.60 L503.90,421.60 L504.30,421.60 L504.70,421.60 L505.10,421.60 L505.50,421.60 L505.90,421.60 L506.30,421.60 L506.70,421.60 L507.10,421.60 L507.50,421.60 L507.90,421.60 L508.30,421.60 L508.70,421.60 L509.10,421.60 L509.50,421.60 L509.90,421.60 L510.30,421.60 L510.70,421.60 L511.10,421.60 L511.50,421.60" fill="none" stroke="#38b44c" stroke-width="1.45" stroke-linejoin="round" />
<path d="M433.50,437.00 L433.90,437.00 L434.30,437.00 L434.70,437.00 L435.10,437.00 L435.50,437.00 L435.90,437.00 L436.30,437.00 L436.70,437.00 L437.10,437.00 L437.50,437.00 L437.90,437.00 L438.30,437.00 L438.70,437.00 L439.10,437.00 L439.50,437.00 L439.90,437.00 L440.30,437.00 L440.70,437.00 L441.10,437.00 L441.50,437.00 L441.90,437.00 L442.30,437.00 L442.70,437.00 L443.10,437.00 L443.50,437.00 L443.90,437.00 L444.30,437.00 L444.70,437.00 L445.10,437.00 L445.50,437.00 L445.90,437.00 L446.30,437.00 L446.70,437.00 L447.10,437.00 L447.50,437.00 L447.90,437.00 L448.30,437.00 L448.70,437.00 L449.10,437.00 L449.50,437.00 L449.90,436.84 L450.30,436.12 L450.70,435.39 L451.10,434.90 L451.50,434.74 L451.90,433.82 L452.30,433.21 L452.70,432.35 L453.10,431.80 L453.50,431.14 L453.90,430.94 L454.30,430.25 L454.70,429.48 L455.10,428.26 L455.50,426.79 L455.90,425.25 L456.30,424.56 L456.70,423.86 L457.10,423.05 L457.50,421.81 L457.90,420.77 L458.30,419.71 L458.70,419.11 L459.10,418.07 L459.50,416.60 L459.90,415.05 L460.30,414.07 L460.70,413.57 L461.10,413.12 L461.50,412.81 L461.90,412.02 L462.30,412.22 L462.70,412.77 L463.10,413.60 L463.50,413.58 L463.90,413.61 L464.30,413.14 L464.70,412.67 L465.10,412.40 L465.50,412.51 L465.90,412.32 L466.30,412.12 L466.70,411.85 L467.10,412.84 L467.50,413.44 L467.90,414.62 L468.30,415.74 L468.70,417.26 L469.10,418.25 L469.50,418.84 L469.90,419.74 L470.30,420.45 L470.70,421.72 L471.10,422.70 L471.50,423.57 L471.90,424.17 L472.30,424.61 L472.70,425.21 L473.10,426.04 L473.50,427.71 L473.90,428.67 L474.30,428.88 L474.70,429.05 L475.10,429.71 L475.50,430.92 L475.90,431.47 L476.30,431.94 L476.70,431.40 L477.10,431.08 L477.50,430.74 L477.90,430.97 L478.30,430.81 L478.70,431.06 L479.10,431.25 L479.50,431.37 L479.90,431.19 L480.30,431.40 L480.70,431.89 L481.10,432.16 L481.50,432.12 L481.90,432.52 L482.30,432.90 L482.70,433.27 L483.10,433.05 L483.50,432.76 L483.90,432.80 L484.30,432.81 L484.70,433.03 L485.10,433.18 L485.50,433.79 L485.90,434.18 L486.30,434.52 L486.70,434.68 L487.10,434.93 L487.50,435.06 L487.90,435.57 L488.30,435.83 L488.70,435.90 L489.10,435.96 L489.50,436.11 L489.90,436.32 L490.30,436.45 L490.70,436.64 L491.10,436.82 L491.50,436.99 L491.90,437.00 L492.30,437.00 L492.70,437.00 L493.10,437.00 L493.50,437.00 L493.90,437.00 L494.30,437.00 L494.70,437.00 L495.10,437.00 L495.50,437.00 L495.90,437.00 L496.30,437.00 L496.70,437.00 L497.10,437.00 L497.50,437.00 L497.90,437.00 L498.30,437.00 L498.70,437.00 L499.10,437.00 L499.50,437.00 L499.90,437.00 L500.30,437.00 L500.70,437.00 L501.10,437.00 L501.50,437.00 L501.90,437.00 L502.30,437.00 L502.70,437.00 L503.10,437.00 L503.50,437.00 L503.90,437.00 L504.30,437.00 L504.70,437.00 L505.10,437.00 L505.50,437.00 L505.90,437.00 L506.30,437.00 L506.70,437.00 L507.10,437.00 L507.50,437.00 L507.90,437.00 L508.30,437.00 L508.70,437.00 L509.10,437.00 L509.50,437.00 L509.90,437.00 L510.30,437.00 L510.70,437.00 L511.10,437.00 L511.50,437.00" fill="none" stroke="#58286c" stroke-width="1.45" stroke-linejoin="round" />
<text x="510.90" y="387.50" font-size="7.4" stroke="#c51330" stroke-width="0.12" text-anchor="end" fill="#c51330">653</text>
<text x="510.90" y="403.80" font-size="7.4" stroke="#38b44c" stroke-width="0.12" text-anchor="end" fill="#38b44c">1891</text>
<text x="510.90" y="419.00" font-size="7.4" stroke="#115284" stroke-width="0.12" text-anchor="end" fill="#115284">659</text>
<text x="510.90" y="434.20" font-size="7.4" stroke="#58286c" stroke-width="0.12" text-anchor="end" fill="#58286c">1282</text>
<path d="M433.50,436.70 V358.20 H511.80 V436.70" fill="none" stroke="#1a1a1a" stroke-width="1.1"/>
<line x1="433.00" y1="436.70" x2="512.30" y2="436.70" stroke="#1a1a1a" stroke-width="1.6" />
<text x="92.45" y="488.60" font-size="8.8" stroke="#222" stroke-width="0.22" text-anchor="middle" textLength="21.50" lengthAdjust="spacingAndGlyphs" fill="#222">U937</text>
<text x="12.40" y="518.50" font-size="7.4" stroke="#222" stroke-width="0.22" text-anchor="middle" fill="#222">+</text>
<text x="23.90" y="518.50" font-size="7.4" stroke="#222" stroke-width="0.22" text-anchor="middle" fill="#222">–</text>
<text x="35.20" y="518.50" font-size="7.4" stroke="#222" stroke-width="0.22" text-anchor="middle" fill="#222">+</text>
<text x="46.60" y="518.50" font-size="7.4" stroke="#222" stroke-width="0.22" text-anchor="middle" fill="#222">–</text>
<text x="12.40" y="534.20" font-size="7.4" stroke="#222" stroke-width="0.22" text-anchor="middle" fill="#222">–</text>
<text x="23.90" y="534.20" font-size="7.4" stroke="#222" stroke-width="0.22" text-anchor="middle" fill="#222">+</text>
<text x="35.20" y="534.20" font-size="7.4" stroke="#222" stroke-width="0.22" text-anchor="middle" fill="#222">+</text>
<text x="46.60" y="534.20" font-size="7.4" stroke="#222" stroke-width="0.22" text-anchor="middle" fill="#222">–</text>
<text x="12.40" y="550.00" font-size="7.4" stroke="#222" stroke-width="0.22" text-anchor="middle" fill="#222">+</text>
<text x="23.90" y="550.00" font-size="7.4" stroke="#222" stroke-width="0.22" text-anchor="middle" fill="#222">–</text>
<text x="35.20" y="550.00" font-size="7.4" stroke="#222" stroke-width="0.22" text-anchor="middle" fill="#222">+</text>
<text x="46.60" y="550.00" font-size="7.4" stroke="#222" stroke-width="0.22" text-anchor="middle" fill="#222">+</text>
<text x="12.40" y="566.80" font-size="7.4" stroke="#222" stroke-width="0.22" text-anchor="middle" fill="#222">–</text>
<text x="23.90" y="566.80" font-size="7.4" stroke="#222" stroke-width="0.22" text-anchor="middle" fill="#222">+</text>
<text x="35.20" y="566.80" font-size="7.4" stroke="#222" stroke-width="0.22" text-anchor="middle" fill="#222">+</text>
<text x="46.60" y="566.80" font-size="7.4" stroke="#222" stroke-width="0.22" text-anchor="middle" fill="#222">+</text>
<text x="15.20" y="577.90" font-size="7.4" stroke="#222" stroke-width="0.22" text-anchor="end" textLength="22.30" lengthAdjust="spacingAndGlyphs" fill="#222" transform="rotate(-90 15.20 577.90)">ishCtrl</text>
<text x="26.50" y="577.90" font-size="7.4" stroke="#222" stroke-width="0.22" text-anchor="end" textLength="30.60" lengthAdjust="spacingAndGlyphs" fill="#222" transform="rotate(-90 26.50 577.90)">ishRRM2</text>
<text x="37.30" y="577.90" font-size="7.4" stroke="#222" stroke-width="0.22" text-anchor="end" textLength="13.80" lengthAdjust="spacingAndGlyphs" fill="#222" transform="rotate(-90 37.30 577.90)">Dox</text>
<text x="48.80" y="577.90" font-size="7.4" stroke="#222" stroke-width="0.22" text-anchor="end" textLength="20.10" lengthAdjust="spacingAndGlyphs" fill="#222" transform="rotate(-90 48.80 577.90)">Ara-C</text>
<text x="55.00" y="583.80" font-size="8.1" stroke="#222" stroke-width="0.22" textLength="24.80" lengthAdjust="spacingAndGlyphs" fill="#222">CD11b</text>
<line x1="83.20" y1="581.30" x2="127.50" y2="581.30" stroke="#111" stroke-width="1.0" />
<path d="M126.6,578.7 L132.2,581.3 L126.6,583.9 Z" fill="#111"/>
<path d="M56.60,570.30v2.6 M62.06,570.30v1.7 M65.25,570.30v1.7 M67.51,570.30v1.7 M69.27,570.30v1.7 M70.70,570.30v1.7 M71.92,570.30v1.7 M72.97,570.30v1.7 M73.90,570.30v1.7 M74.72,570.30v2.6 M80.18,570.30v1.7 M83.37,570.30v1.7 M85.64,570.30v1.7 M87.39,570.30v1.7 M88.83,570.30v1.7 M90.04,570.30v1.7 M91.09,570.30v1.7 M92.02,570.30v1.7 M92.85,570.30v2.6 M98.31,570.30v1.7 M101.50,570.30v1.7 M103.76,570.30v1.7 M105.52,570.30v1.7 M106.95,570.30v1.7 M108.17,570.30v1.7 M109.22,570.30v1.7 M110.15,570.30v1.7 M110.97,570.30v2.6 M116.43,570.30v1.7 M119.62,570.30v1.7 M121.89,570.30v1.7 M123.64,570.30v1.7 M125.08,570.30v1.7 M126.29,570.30v1.7 M127.34,570.30v1.7 M128.27,570.30v1.7" stroke="#222" stroke-width="0.75" fill="none"/>
<path d="M53.60,507.88 L54.00,515.71 L54.40,519.52 L54.80,521.14 L55.20,522.01 L55.60,522.43 L56.00,522.71 L56.40,522.91 L56.80,523.02 L57.20,523.08 L57.60,523.10 L58.00,523.10 L58.40,523.07 L58.80,523.04 L59.20,523.00 L59.60,523.00 L60.00,522.95 L60.40,522.90 L60.80,522.88 L61.20,522.82 L61.60,522.68 L62.00,522.60 L62.40,522.63 L62.80,522.60 L63.20,522.46 L63.60,522.29 L64.00,522.12 L64.40,522.03 L64.80,521.95 L65.20,521.86 L65.60,521.78 L66.00,521.71 L66.40,521.50 L66.80,521.13 L67.20,520.92 L67.60,520.73 L68.00,520.70 L68.40,520.66 L68.80,520.65 L69.20,520.30 L69.60,519.95 L70.00,519.56 L70.40,519.24 L70.80,518.75 L71.20,518.50 L71.60,518.26 L72.00,517.92 L72.40,517.45 L72.80,516.84 L73.20,516.40 L73.60,515.80 L74.00,515.33 L74.40,514.57 L74.80,513.71 L75.20,512.70 L75.60,511.79 L76.00,510.80 L76.40,509.84 L76.80,508.92 L77.20,508.12 L77.60,506.94 L78.00,505.55 L78.40,504.15 L78.80,503.00 L79.20,501.93 L79.60,500.74 L80.00,499.52 L80.40,498.35 L80.80,497.64 L81.20,497.47 L81.60,497.73 L82.00,498.38 L82.40,499.44 L82.80,500.47 L83.20,501.46 L83.60,502.58 L84.00,504.09 L84.40,505.33 L84.80,506.72 L85.20,507.81 L85.60,508.89 L86.00,509.94 L86.40,510.93 L86.80,511.77 L87.20,512.48 L87.60,513.42 L88.00,514.32 L88.40,515.20 L88.80,516.08 L89.20,516.95 L89.60,517.53 L90.00,517.79 L90.40,518.21 L90.80,518.73 L91.20,519.40 L91.60,519.98 L92.00,520.65 L92.40,521.13 L92.80,521.70 L93.20,522.16 L93.60,522.42 L94.00,522.59 L94.40,522.68 L94.80,522.74 L95.20,522.78 L95.60,522.89 L96.00,522.97 L96.40,523.05 L96.80,523.14 L97.20,523.24 L97.60,523.30 L98.00,523.35 L98.40,523.40 L98.80,523.46 L99.20,523.52 L99.60,523.55 L100.00,523.59 L100.40,523.63 L100.80,523.67 L101.20,523.69 L101.60,523.70 L102.00,523.70 L102.40,523.70 L102.80,523.70 L103.20,523.70 L103.60,523.70 L104.00,523.70 L104.40,523.70 L104.80,523.70 L105.20,523.70 L105.60,523.70 L106.00,523.70 L106.40,523.70 L106.80,523.70 L107.20,523.70 L107.60,523.70 L108.00,523.70 L108.40,523.70 L108.80,523.70 L109.20,523.70 L109.60,523.70 L110.00,523.70 L110.40,523.70 L110.80,523.70 L111.20,523.70 L111.60,523.70 L112.00,523.70 L112.40,523.70 L112.80,523.70 L113.20,523.70 L113.60,523.70 L114.00,523.70 L114.40,523.70 L114.80,523.70 L115.20,523.70 L115.60,523.70 L116.00,523.70 L116.40,523.70 L116.80,523.70 L117.20,523.70 L117.60,523.70 L118.00,523.70 L118.40,523.70 L118.80,523.70 L119.20,523.70 L119.60,523.70 L120.00,523.70 L120.40,523.70 L120.80,523.70 L121.20,523.70 L121.60,523.70 L122.00,523.70 L122.40,523.70 L122.80,523.70 L123.20,523.70 L123.60,523.70 L124.00,523.70 L124.40,523.70 L124.80,523.70 L125.20,523.70 L125.60,523.70 L126.00,523.70 L126.40,523.70 L126.80,523.70 L127.20,523.70 L127.60,523.70 L128.00,523.70 L128.40,523.70 L128.80,523.70 L129.20,523.70 L129.60,523.70 L130.00,523.70 L130.40,523.70 L130.80,523.70 L131.20,523.70 L131.60,523.70 L132.00,523.70" fill="none" stroke="#c51330" stroke-width="1.45" stroke-linejoin="round" />
<path d="M53.60,522.69 L54.00,537.50 L54.40,539.04 L54.80,539.20 L55.20,539.19 L55.60,539.18 L56.00,539.17 L56.40,539.15 L56.80,539.12 L57.20,539.09 L57.60,539.05 L58.00,539.02 L58.40,539.00 L58.80,538.96 L59.20,538.92 L59.60,538.86 L60.00,538.77 L60.40,538.68 L60.80,538.61 L61.20,538.61 L61.60,538.58 L62.00,538.58 L62.40,538.60 L62.80,538.61 L63.20,538.51 L63.60,538.43 L64.00,538.38 L64.40,538.33 L64.80,538.28 L65.20,538.22 L65.60,538.19 L66.00,538.16 L66.40,538.17 L66.80,538.17 L67.20,538.06 L67.60,537.93 L68.00,537.70 L68.40,537.58 L68.80,537.36 L69.20,537.35 L69.60,537.18 L70.00,537.09 L70.40,536.66 L70.80,536.07 L71.20,535.41 L71.60,534.92 L72.00,534.40 L72.40,533.41 L72.80,532.59 L73.20,531.93 L73.60,531.23 L74.00,530.07 L74.40,528.96 L74.80,527.84 L75.20,526.70 L75.60,525.73 L76.00,524.62 L76.40,523.73 L76.80,522.60 L77.20,521.63 L77.60,520.15 L78.00,519.08 L78.40,517.98 L78.80,516.86 L79.20,515.41 L79.60,514.25 L80.00,513.09 L80.40,512.13 L80.80,511.31 L81.20,510.94 L81.60,511.18 L82.00,512.53 L82.40,514.03 L82.80,515.22 L83.20,516.43 L83.60,517.65 L84.00,518.49 L84.40,519.31 L84.80,520.28 L85.20,521.38 L85.60,522.25 L86.00,523.16 L86.40,523.64 L86.80,524.19 L87.20,524.79 L87.60,525.58 L88.00,526.10 L88.40,526.57 L88.80,527.21 L89.20,528.18 L89.60,528.79 L90.00,529.28 L90.40,530.05 L90.80,531.02 L91.20,531.61 L91.60,532.30 L92.00,533.03 L92.40,533.55 L92.80,533.92 L93.20,534.20 L93.60,534.79 L94.00,535.39 L94.40,536.18 L94.80,536.45 L95.20,536.63 L95.60,536.90 L96.00,537.18 L96.40,537.46 L96.80,537.67 L97.20,537.89 L97.60,538.09 L98.00,538.38 L98.40,538.59 L98.80,538.75 L99.20,538.86 L99.60,538.95 L100.00,539.01 L100.40,539.04 L100.80,539.08 L101.20,539.11 L101.60,539.14 L102.00,539.16 L102.40,539.17 L102.80,539.19 L103.20,539.20 L103.60,539.20 L104.00,539.20 L104.40,539.20 L104.80,539.20 L105.20,539.20 L105.60,539.20 L106.00,539.20 L106.40,539.20 L106.80,539.20 L107.20,539.20 L107.60,539.20 L108.00,539.20 L108.40,539.20 L108.80,539.20 L109.20,539.20 L109.60,539.20 L110.00,539.20 L110.40,539.20 L110.80,539.20 L111.20,539.20 L111.60,539.20 L112.00,539.20 L112.40,539.20 L112.80,539.20 L113.20,539.20 L113.60,539.20 L114.00,539.20 L114.40,539.20 L114.80,539.20 L115.20,539.20 L115.60,539.20 L116.00,539.20 L116.40,539.20 L116.80,539.20 L117.20,539.20 L117.60,539.20 L118.00,539.20 L118.40,539.20 L118.80,539.20 L119.20,539.20 L119.60,539.20 L120.00,539.20 L120.40,539.20 L120.80,539.20 L121.20,539.20 L121.60,539.20 L122.00,539.20 L122.40,539.20 L122.80,539.20 L123.20,539.20 L123.60,539.20 L124.00,539.20 L124.40,539.20 L124.80,539.20 L125.20,539.20 L125.60,539.20 L126.00,539.20 L126.40,539.20 L126.80,539.20 L127.20,539.20 L127.60,539.20 L128.00,539.20 L128.40,539.20 L128.80,539.20 L129.20,539.20 L129.60,539.20 L130.00,539.20 L130.40,539.20 L130.80,539.20 L131.20,539.20 L131.60,539.20 L132.00,539.20" fill="none" stroke="#38b44c" stroke-width="1.45" stroke-linejoin="round" />
<path d="M53.60,555.50 L54.00,555.50 L54.40,555.50 L54.80,555.50 L55.20,555.50 L55.60,555.50 L56.00,555.50 L56.40,555.50 L56.80,555.50 L57.20,555.50 L57.60,555.50 L58.00,555.50 L58.40,555.50 L58.80,555.50 L59.20,555.50 L59.60,555.50 L60.00,555.50 L60.40,555.50 L60.80,555.50 L61.20,555.50 L61.60,555.50 L62.00,555.50 L62.40,555.50 L62.80,555.50 L63.20,555.50 L63.60,555.50 L64.00,555.50 L64.40,555.50 L64.80,555.50 L65.20,555.50 L65.60,555.50 L66.00,555.50 L66.40,555.50 L66.80,555.50 L67.20,555.50 L67.60,555.50 L68.00,555.50 L68.40,555.50 L68.80,555.50 L69.20,555.50 L69.60,555.50 L70.00,555.50 L70.40,555.50 L70.80,555.50 L71.20,555.50 L71.60,555.50 L72.00,555.50 L72.40,555.50 L72.80,555.50 L73.20,555.50 L73.60,555.50 L74.00,555.50 L74.40,555.50 L74.80,555.50 L75.20,555.50 L75.60,555.50 L76.00,555.50 L76.40,555.46 L76.80,555.36 L77.20,555.22 L77.60,555.02 L78.00,554.85 L78.40,554.72 L78.80,554.65 L79.20,554.52 L79.60,554.14 L80.00,553.67 L80.40,553.16 L80.80,552.65 L81.20,551.90 L81.60,550.85 L82.00,549.97 L82.40,549.52 L82.80,549.09 L83.20,548.08 L83.60,547.28 L84.00,546.79 L84.40,546.18 L84.80,544.93 L85.20,543.94 L85.60,543.23 L86.00,542.44 L86.40,541.68 L86.80,541.07 L87.20,540.10 L87.60,538.86 L88.00,537.80 L88.40,537.38 L88.80,536.75 L89.20,535.80 L89.60,534.77 L90.00,533.88 L90.40,532.83 L90.80,532.26 L91.20,532.25 L91.60,532.34 L92.00,532.10 L92.40,531.90 L92.80,531.78 L93.20,531.52 L93.60,531.36 L94.00,530.88 L94.40,530.45 L94.80,530.22 L95.20,530.22 L95.60,529.96 L96.00,529.48 L96.40,529.78 L96.80,530.12 L97.20,530.44 L97.60,530.55 L98.00,531.35 L98.40,532.25 L98.80,533.23 L99.20,533.47 L99.60,533.29 L100.00,533.26 L100.40,533.69 L100.80,534.31 L101.20,535.04 L101.60,535.77 L102.00,536.50 L102.40,537.56 L102.80,538.50 L103.20,538.94 L103.60,539.38 L104.00,540.16 L104.40,540.97 L104.80,541.56 L105.20,542.33 L105.60,542.90 L106.00,543.22 L106.40,543.81 L106.80,544.85 L107.20,546.11 L107.60,546.69 L108.00,547.16 L108.40,547.48 L108.80,547.89 L109.20,548.35 L109.60,549.59 L110.00,550.44 L110.40,550.78 L110.80,551.06 L111.20,551.74 L111.60,551.87 L112.00,551.83 L112.40,552.16 L112.80,552.56 L113.20,553.07 L113.60,553.69 L114.00,554.09 L114.40,554.29 L114.80,554.60 L115.20,554.82 L115.60,555.03 L116.00,555.13 L116.40,555.26 L116.80,555.36 L117.20,555.45 L117.60,555.49 L118.00,555.50 L118.40,555.50 L118.80,555.50 L119.20,555.50 L119.60,555.50 L120.00,555.50 L120.40,555.50 L120.80,555.50 L121.20,555.50 L121.60,555.50 L122.00,555.50 L122.40,555.50 L122.80,555.50 L123.20,555.50 L123.60,555.50 L124.00,555.50 L124.40,555.50 L124.80,555.50 L125.20,555.50 L125.60,555.50 L126.00,555.50 L126.40,555.50 L126.80,555.50 L127.20,555.50 L127.60,555.50 L128.00,555.50 L128.40,555.50 L128.80,555.50 L129.20,555.50 L129.60,555.50 L130.00,555.50 L130.40,555.50 L130.80,555.50 L131.20,555.50 L131.60,555.50 L132.00,555.50" fill="none" stroke="#115284" stroke-width="1.45" stroke-linejoin="round" />
<path d="M53.60,570.60 L54.00,570.60 L54.40,570.60 L54.80,570.60 L55.20,570.60 L55.60,570.60 L56.00,570.60 L56.40,570.60 L56.80,570.60 L57.20,570.60 L57.60,570.60 L58.00,570.60 L58.40,570.60 L58.80,570.60 L59.20,570.60 L59.60,570.60 L60.00,570.60 L60.40,570.60 L60.80,570.60 L61.20,570.60 L61.60,570.60 L62.00,570.60 L62.40,570.60 L62.80,570.60 L63.20,570.60 L63.60,570.60 L64.00,570.60 L64.40,570.60 L64.80,570.60 L65.20,570.60 L65.60,570.60 L66.00,570.60 L66.40,570.60 L66.80,570.60 L67.20,570.60 L67.60,570.60 L68.00,570.60 L68.40,570.60 L68.80,570.60 L69.20,570.60 L69.60,570.60 L70.00,570.60 L70.40,570.60 L70.80,570.60 L71.20,570.60 L71.60,570.60 L72.00,570.60 L72.40,570.60 L72.80,570.60 L73.20,570.60 L73.60,570.60 L74.00,570.60 L74.40,570.60 L74.80,570.60 L75.20,570.60 L75.60,570.60 L76.00,570.12 L76.40,569.40 L76.80,568.61 L77.20,567.73 L77.60,566.74 L78.00,566.27 L78.40,565.77 L78.80,564.59 L79.20,563.02 L79.60,561.75 L80.00,560.69 L80.40,559.93 L80.80,559.00 L81.20,558.29 L81.60,556.93 L82.00,555.64 L82.40,554.50 L82.80,553.72 L83.20,552.62 L83.60,551.88 L84.00,552.29 L84.40,553.21 L84.80,553.74 L85.20,553.97 L85.60,554.16 L86.00,554.50 L86.40,554.55 L86.80,554.22 L87.20,553.09 L87.60,552.35 L88.00,551.55 L88.40,551.11 L88.80,550.09 L89.20,549.32 L89.60,548.46 L90.00,548.01 L90.40,547.99 L90.80,547.74 L91.20,547.63 L91.60,546.95 L92.00,547.00 L92.40,546.94 L92.80,547.29 L93.20,547.99 L93.60,549.22 L94.00,550.26 L94.40,550.52 L94.80,550.41 L95.20,550.77 L95.60,551.54 L96.00,552.75 L96.40,553.12 L96.80,553.76 L97.20,553.94 L97.60,555.29 L98.00,556.63 L98.40,558.15 L98.80,558.65 L99.20,559.16 L99.60,559.43 L100.00,560.04 L100.40,560.85 L100.80,562.00 L101.20,562.78 L101.60,563.46 L102.00,563.89 L102.40,564.38 L102.80,564.50 L103.20,564.47 L103.60,564.87 L104.00,565.40 L104.40,565.82 L104.80,566.23 L105.20,567.09 L105.60,567.22 L106.00,567.03 L106.40,567.86 L106.80,569.00 L107.20,569.64 L107.60,570.18 L108.00,570.60 L108.40,570.60 L108.80,570.60 L109.20,570.60 L109.60,570.60 L110.00,570.60 L110.40,570.60 L110.80,570.60 L111.20,570.60 L111.60,570.60 L112.00,570.60 L112.40,570.60 L112.80,570.60 L113.20,570.60 L113.60,570.60 L114.00,570.60 L114.40,570.60 L114.80,570.60 L115.20,570.60 L115.60,570.60 L116.00,570.60 L116.40,570.60 L116.80,570.60 L117.20,570.60 L117.60,570.60 L118.00,570.60 L118.40,570.60 L118.80,570.60 L119.20,570.60 L119.60,570.60 L120.00,570.60 L120.40,570.60 L120.80,570.60 L121.20,570.60 L121.60,570.60 L122.00,570.60 L122.40,570.60 L122.80,570.60 L123.20,570.60 L123.60,570.60 L124.00,570.60 L124.40,570.60 L124.80,570.60 L125.20,570.60 L125.60,570.60 L126.00,570.60 L126.40,570.60 L126.80,570.60 L127.20,570.60 L127.60,570.60 L128.00,570.60 L128.40,570.60 L128.80,570.60 L129.20,570.60 L129.60,570.60 L130.00,570.60 L130.40,570.60 L130.80,570.60 L131.20,570.60 L131.60,570.60 L132.00,570.60" fill="none" stroke="#58286c" stroke-width="1.45" stroke-linejoin="round" />
<text x="130.80" y="521.30" font-size="7.4" stroke="#c51330" stroke-width="0.12" text-anchor="end" fill="#c51330">349</text>
<text x="130.80" y="537.80" font-size="7.4" stroke="#38b44c" stroke-width="0.12" text-anchor="end" fill="#38b44c">479</text>
<text x="130.80" y="553.20" font-size="7.4" stroke="#115284" stroke-width="0.12" text-anchor="end" fill="#115284">4329</text>
<text x="130.80" y="568.30" font-size="7.4" stroke="#58286c" stroke-width="0.12" text-anchor="end" fill="#58286c">2253</text>
<path d="M53.60,570.30 V491.40 H132.10 V570.30" fill="none" stroke="#1a1a1a" stroke-width="1.1"/>
<line x1="53.10" y1="570.30" x2="132.60" y2="570.30" stroke="#1a1a1a" stroke-width="1.6" />
<text x="229.50" y="486.20" font-size="9.0" stroke="#222" stroke-width="0.22" textLength="53.60" lengthAdjust="spacingAndGlyphs" fill="#222">CTRP (n=67)</text>
<line x1="202.40" y1="488.20" x2="202.40" y2="595.50" stroke="#2b2b2b" stroke-width="1.2" />
<line x1="201.80" y1="594.90" x2="309.00" y2="594.90" stroke="#2b2b2b" stroke-width="1.2" />
<line x1="199.50" y1="491.78" x2="202.40" y2="491.78" stroke="#2b2b2b" stroke-width="0.9" />
<text x="197.40" y="494.38" font-size="7.3" stroke="#222" stroke-width="0.22" text-anchor="end" fill="#222">8</text>
<line x1="199.50" y1="517.56" x2="202.40" y2="517.56" stroke="#2b2b2b" stroke-width="0.9" />
<text x="197.40" y="520.16" font-size="7.3" stroke="#222" stroke-width="0.22" text-anchor="end" fill="#222">7</text>
<line x1="199.50" y1="543.34" x2="202.40" y2="543.34" stroke="#2b2b2b" stroke-width="0.9" />
<text x="197.40" y="545.94" font-size="7.3" stroke="#222" stroke-width="0.22" text-anchor="end" fill="#222">6</text>
<line x1="199.50" y1="569.12" x2="202.40" y2="569.12" stroke="#2b2b2b" stroke-width="0.9" />
<text x="197.40" y="571.72" font-size="7.3" stroke="#222" stroke-width="0.22" text-anchor="end" fill="#222">5</text>
<line x1="199.50" y1="594.90" x2="202.40" y2="594.90" stroke="#2b2b2b" stroke-width="0.9" />
<text x="197.40" y="597.50" font-size="7.3" stroke="#222" stroke-width="0.22" text-anchor="end" fill="#222">4</text>
<line x1="202.30" y1="594.90" x2="202.30" y2="597.50" stroke="#2b2b2b" stroke-width="0.9" />
<text x="202.60" y="607.10" font-size="7.2" stroke="#222" stroke-width="0.22" text-anchor="middle" fill="#222">0</text>
<line x1="236.90" y1="594.90" x2="236.90" y2="597.50" stroke="#2b2b2b" stroke-width="0.9" />
<text x="237.20" y="607.10" font-size="7.2" stroke="#222" stroke-width="0.22" text-anchor="middle" fill="#222">5</text>
<line x1="271.50" y1="594.90" x2="271.50" y2="597.50" stroke="#2b2b2b" stroke-width="0.9" />
<text x="271.50" y="607.10" font-size="7.2" stroke="#222" stroke-width="0.22" text-anchor="middle" fill="#222">10</text>
<line x1="305.60" y1="594.90" x2="305.60" y2="597.50" stroke="#2b2b2b" stroke-width="0.9" />
<text x="305.60" y="607.10" font-size="7.2" stroke="#222" stroke-width="0.22" text-anchor="middle" fill="#222">15</text>
<text x="256.00" y="619.90" font-size="10.0" stroke="#222" stroke-width="0.22" text-anchor="middle" textLength="51.40" lengthAdjust="spacingAndGlyphs" fill="#222">Cytarabine AUC</text>
<text x="186.10" y="540.90" font-size="8.8" stroke="#222" stroke-width="0.22" text-anchor="middle" textLength="81.00" lengthAdjust="spacingAndGlyphs" fill="#222" transform="rotate(-90 186.10 540.90)">RRM2 mRNA expression</text>
<path d="M205.10,524.33 L207.37,525.44 L209.63,526.55 L211.90,527.66 L214.17,528.76 L216.43,529.85 L218.70,530.94 L220.97,532.03 L223.23,533.10 L225.50,534.17 L227.77,535.22 L230.03,536.26 L232.30,537.29 L234.57,538.29 L236.83,539.26 L239.10,540.20 L241.37,541.10 L243.63,541.95 L245.90,542.75 L248.17,543.49 L250.43,544.17 L252.70,544.80 L254.97,545.37 L257.23,545.89 L259.50,546.38 L261.77,546.83 L264.03,547.26 L266.30,547.66 L268.57,548.05 L270.83,548.43 L273.10,548.79 L275.37,549.14 L277.63,549.49 L279.90,549.83 L282.17,550.16 L284.43,550.49 L286.70,550.82 L288.97,551.14 L291.23,551.46 L293.50,551.77 L293.50,569.83 L291.23,568.71 L288.97,567.60 L286.70,566.49 L284.43,565.39 L282.17,564.28 L279.90,563.19 L277.63,562.10 L275.37,561.01 L273.10,559.93 L270.83,558.87 L268.57,557.81 L266.30,556.77 L264.03,555.74 L261.77,554.74 L259.50,553.76 L257.23,552.82 L254.97,551.91 L252.70,551.05 L250.43,550.24 L248.17,549.49 L245.90,548.80 L243.63,548.17 L241.37,547.59 L239.10,547.06 L236.83,546.57 L234.57,546.11 L232.30,545.68 L230.03,545.27 L227.77,544.88 L225.50,544.51 L223.23,544.14 L220.97,543.79 L218.70,543.44 L216.43,543.10 L214.17,542.77 L211.90,542.44 L209.63,542.11 L207.37,541.79 L205.10,541.47 Z" fill="#eebdc7"/>
<circle cx="226.50" cy="499.60" r="1.25" fill="#c51330"/>
<circle cx="216.80" cy="505.40" r="1.25" fill="#c51330"/>
<circle cx="212.20" cy="511.80" r="1.25" fill="#c51330"/>
<circle cx="241.50" cy="519.20" r="1.25" fill="#c51330"/>
<circle cx="219.20" cy="522.20" r="1.25" fill="#c51330"/>
<circle cx="226.50" cy="523.80" r="1.25" fill="#c51330"/>
<circle cx="233.50" cy="525.70" r="1.25" fill="#c51330"/>
<circle cx="215.70" cy="528.00" r="1.25" fill="#c51330"/>
<circle cx="222.60" cy="529.60" r="1.25" fill="#c51330"/>
<circle cx="226.50" cy="530.30" r="1.25" fill="#c51330"/>
<circle cx="238.80" cy="528.50" r="1.25" fill="#c51330"/>
<circle cx="245.70" cy="531.20" r="1.25" fill="#c51330"/>
<circle cx="247.30" cy="534.20" r="1.25" fill="#c51330"/>
<circle cx="242.20" cy="534.20" r="1.25" fill="#c51330"/>
<circle cx="265.10" cy="521.10" r="1.25" fill="#c51330"/>
<circle cx="271.50" cy="533.10" r="1.25" fill="#c51330"/>
<circle cx="268.30" cy="535.40" r="1.25" fill="#c51330"/>
<circle cx="271.50" cy="537.20" r="1.25" fill="#c51330"/>
<circle cx="289.50" cy="535.80" r="1.25" fill="#c51330"/>
<circle cx="205.10" cy="532.60" r="1.25" fill="#c51330"/>
<circle cx="221.90" cy="533.50" r="1.25" fill="#c51330"/>
<circle cx="224.20" cy="537.70" r="1.25" fill="#c51330"/>
<circle cx="230.50" cy="540.00" r="1.25" fill="#c51330"/>
<circle cx="231.20" cy="541.80" r="1.25" fill="#c51330"/>
<circle cx="235.80" cy="540.50" r="1.25" fill="#c51330"/>
<circle cx="220.10" cy="540.50" r="1.25" fill="#c51330"/>
<circle cx="208.80" cy="540.50" r="1.25" fill="#c51330"/>
<circle cx="248.90" cy="538.80" r="1.25" fill="#c51330"/>
<circle cx="250.80" cy="542.80" r="1.25" fill="#c51330"/>
<circle cx="251.20" cy="545.10" r="1.25" fill="#c51330"/>
<circle cx="277.30" cy="541.80" r="1.25" fill="#c51330"/>
<circle cx="278.00" cy="543.50" r="1.25" fill="#c51330"/>
<circle cx="265.10" cy="544.60" r="1.25" fill="#c51330"/>
<circle cx="291.20" cy="545.80" r="1.25" fill="#c51330"/>
<circle cx="205.10" cy="545.30" r="1.25" fill="#c51330"/>
<circle cx="226.50" cy="548.80" r="1.25" fill="#c51330"/>
<circle cx="234.20" cy="550.40" r="1.25" fill="#c51330"/>
<circle cx="291.80" cy="551.10" r="1.25" fill="#c51330"/>
<circle cx="268.10" cy="551.50" r="1.25" fill="#c51330"/>
<circle cx="242.70" cy="552.70" r="1.25" fill="#c51330"/>
<circle cx="249.60" cy="553.40" r="1.25" fill="#c51330"/>
<circle cx="254.20" cy="553.80" r="1.25" fill="#c51330"/>
<circle cx="237.40" cy="555.70" r="1.25" fill="#c51330"/>
<circle cx="242.20" cy="554.30" r="1.25" fill="#c51330"/>
<circle cx="249.20" cy="555.70" r="1.25" fill="#c51330"/>
<circle cx="260.50" cy="555.00" r="1.25" fill="#c51330"/>
<circle cx="215.70" cy="558.50" r="1.25" fill="#c51330"/>
<circle cx="256.50" cy="560.30" r="1.25" fill="#c51330"/>
<circle cx="274.30" cy="559.60" r="1.25" fill="#c51330"/>
<circle cx="228.40" cy="561.90" r="1.25" fill="#c51330"/>
<circle cx="278.90" cy="565.40" r="1.25" fill="#c51330"/>
<circle cx="246.80" cy="567.20" r="1.25" fill="#c51330"/>
<circle cx="250.30" cy="566.50" r="1.25" fill="#c51330"/>
<circle cx="293.50" cy="568.80" r="1.25" fill="#c51330"/>
<circle cx="248.50" cy="571.20" r="1.25" fill="#c51330"/>
<circle cx="266.90" cy="571.20" r="1.25" fill="#c51330"/>
<circle cx="257.20" cy="572.80" r="1.25" fill="#c51330"/>
<circle cx="270.40" cy="574.60" r="1.25" fill="#c51330"/>
<circle cx="258.20" cy="576.50" r="1.25" fill="#c51330"/>
<circle cx="236.50" cy="576.50" r="1.25" fill="#c51330"/>
<circle cx="234.20" cy="580.40" r="1.25" fill="#c51330"/>
<circle cx="272.90" cy="588.90" r="1.25" fill="#c51330"/>
<circle cx="212.00" cy="545.00" r="1.25" fill="#c51330"/>
<circle cx="283.00" cy="552.00" r="1.25" fill="#c51330"/>
<path d="M205.10,532.90 L293.50,560.80" fill="none" stroke="#c51330" stroke-width="1.5" stroke-linejoin="round" />
<text x="204.60" y="580.50" font-size="7.2" stroke="#222" stroke-width="0.22" textLength="26.00" lengthAdjust="spacingAndGlyphs" fill="#222">r=–0.39</text>
<text x="204.60" y="589.10" font-size="7.2" stroke="#222" stroke-width="0.22" textLength="27.40" lengthAdjust="spacingAndGlyphs" fill="#222"><tspan font-style="italic">P</tspan>=0.001</text>
<text x="407.50" y="489.40" font-size="8.9" stroke="#222" stroke-width="0.22" textLength="45.00" lengthAdjust="spacingAndGlyphs" fill="#222">GSE14468</text>
<line x1="383.50" y1="497.20" x2="383.50" y2="572.40" stroke="#2b2b2b" stroke-width="1.2" />
<line x1="382.90" y1="571.80" x2="476.80" y2="571.80" stroke="#2b2b2b" stroke-width="1.2" />
<line x1="380.60" y1="502.00" x2="383.50" y2="502.00" stroke="#2b2b2b" stroke-width="0.9" />
<text x="379.10" y="504.60" font-size="7.4" stroke="#222" stroke-width="0.22" text-anchor="end" textLength="16.70" lengthAdjust="spacingAndGlyphs" fill="#222">1.00</text>
<line x1="380.60" y1="518.50" x2="383.50" y2="518.50" stroke="#2b2b2b" stroke-width="0.9" />
<text x="379.10" y="521.10" font-size="7.4" stroke="#222" stroke-width="0.22" text-anchor="end" textLength="16.70" lengthAdjust="spacingAndGlyphs" fill="#222">0.75</text>
<line x1="380.60" y1="535.00" x2="383.50" y2="535.00" stroke="#2b2b2b" stroke-width="0.9" />
<text x="379.10" y="537.60" font-size="7.4" stroke="#222" stroke-width="0.22" text-anchor="end" textLength="16.70" lengthAdjust="spacingAndGlyphs" fill="#222">0.50</text>
<line x1="380.60" y1="551.50" x2="383.50" y2="551.50" stroke="#2b2b2b" stroke-width="0.9" />
<text x="379.10" y="554.10" font-size="7.4" stroke="#222" stroke-width="0.22" text-anchor="end" textLength="16.70" lengthAdjust="spacingAndGlyphs" fill="#222">0.25</text>
<line x1="380.60" y1="568.00" x2="383.50" y2="568.00" stroke="#2b2b2b" stroke-width="0.9" />
<text x="379.10" y="570.60" font-size="7.4" stroke="#222" stroke-width="0.22" text-anchor="end" textLength="16.70" lengthAdjust="spacingAndGlyphs" fill="#222">0.00</text>
<line x1="387.70" y1="571.80" x2="387.70" y2="574.40" stroke="#2b2b2b" stroke-width="0.9" />
<text x="387.70" y="584.20" font-size="7.6" stroke="#222" stroke-width="0.22" text-anchor="middle" fill="#222">0</text>
<line x1="409.04" y1="571.80" x2="409.04" y2="574.40" stroke="#2b2b2b" stroke-width="0.9" />
<text x="409.04" y="584.20" font-size="7.6" stroke="#222" stroke-width="0.22" text-anchor="middle" fill="#222">50</text>
<line x1="430.39" y1="571.80" x2="430.39" y2="574.40" stroke="#2b2b2b" stroke-width="0.9" />
<text x="430.39" y="584.20" font-size="7.6" stroke="#222" stroke-width="0.22" text-anchor="middle" fill="#222">100</text>
<line x1="451.74" y1="571.80" x2="451.74" y2="574.40" stroke="#2b2b2b" stroke-width="0.9" />
<text x="451.74" y="584.20" font-size="7.6" stroke="#222" stroke-width="0.22" text-anchor="middle" fill="#222">150</text>
<line x1="473.08" y1="571.80" x2="473.08" y2="574.40" stroke="#2b2b2b" stroke-width="0.9" />
<text x="473.08" y="584.20" font-size="7.6" stroke="#222" stroke-width="0.22" text-anchor="middle" fill="#222">200</text>
<text x="356.60" y="534.80" font-size="9.6" stroke="#222" stroke-width="0.22" text-anchor="middle" textLength="65.00" lengthAdjust="spacingAndGlyphs" fill="#222" transform="rotate(-90 356.60 534.80)">Survival probability</text>
<path d="M387.70,502.00 L388.98,502.00 L388.98,505.30 L390.01,505.30 L390.01,510.78 L390.77,510.78 L390.77,515.20 L391.58,515.20 L391.58,520.02 L392.40,520.02 L392.40,525.10 L393.51,525.10 L393.51,530.38 L394.53,530.38 L394.53,532.36 L395.68,532.36 L395.68,533.68 L396.66,533.68 L396.66,535.00 L397.95,535.00 L397.95,536.32 L399.65,536.32 L399.65,538.30 L401.36,538.30 L401.36,539.62 L403.92,539.62 L403.92,540.28 L406.91,540.28 L406.91,540.94 L413.31,540.94 L413.31,541.60 L430.39,541.60 L430.39,542.26 L450.03,542.26 L450.03,542.59 L450.24,542.59 L450.24,545.82 L469.66,545.82 L469.66,545.82" fill="none" stroke="#c51330" stroke-width="1.45" stroke-linejoin="round" />
<path d="M387.70,502.00 L388.98,502.00 L388.98,505.30 L389.83,505.30 L389.83,509.92 L391.20,509.92 L391.20,515.40 L391.97,515.40 L391.97,521.80 L392.99,521.80 L392.99,529.19 L393.80,529.19 L393.80,535.66 L394.62,535.66 L394.62,541.93 L395.81,541.93 L395.81,546.22 L397.01,546.22 L397.01,548.86 L398.37,548.86 L398.37,550.18 L400.38,550.18 L400.38,551.17 L404.78,551.17 L404.78,551.83 L409.47,551.83 L409.47,552.36 L415.45,552.36 L415.45,552.95 L418.86,552.95 L418.86,553.48 L424.58,553.48 L424.58,555.79 L435.00,555.79 L435.00,559.22 L467.32,559.22 L467.32,559.22" fill="none" stroke="#115284" stroke-width="1.45" stroke-linejoin="round" />
<line x1="400.51" y1="537.10" x2="400.51" y2="539.50" stroke="#c51330" stroke-width="0.6" />
<line x1="406.91" y1="539.74" x2="406.91" y2="542.14" stroke="#c51330" stroke-width="0.6" />
<line x1="411.18" y1="539.74" x2="411.18" y2="542.14" stroke="#c51330" stroke-width="0.6" />
<line x1="414.17" y1="540.40" x2="414.17" y2="542.80" stroke="#c51330" stroke-width="0.6" />
<line x1="417.58" y1="540.40" x2="417.58" y2="542.80" stroke="#c51330" stroke-width="0.6" />
<line x1="421.00" y1="540.40" x2="421.00" y2="542.80" stroke="#c51330" stroke-width="0.6" />
<line x1="423.99" y1="540.40" x2="423.99" y2="542.80" stroke="#c51330" stroke-width="0.6" />
<line x1="426.97" y1="540.40" x2="426.97" y2="542.80" stroke="#c51330" stroke-width="0.6" />
<line x1="429.54" y1="540.40" x2="429.54" y2="542.80" stroke="#c51330" stroke-width="0.6" />
<line x1="432.52" y1="541.06" x2="432.52" y2="543.46" stroke="#c51330" stroke-width="0.6" />
<line x1="435.51" y1="541.06" x2="435.51" y2="543.46" stroke="#c51330" stroke-width="0.6" />
<line x1="438.93" y1="541.06" x2="438.93" y2="543.46" stroke="#c51330" stroke-width="0.6" />
<line x1="442.34" y1="541.06" x2="442.34" y2="543.46" stroke="#c51330" stroke-width="0.6" />
<line x1="445.33" y1="541.06" x2="445.33" y2="543.46" stroke="#c51330" stroke-width="0.6" />
<line x1="456.00" y1="544.62" x2="456.00" y2="547.02" stroke="#c51330" stroke-width="0.6" />
<line x1="462.41" y1="544.62" x2="462.41" y2="547.02" stroke="#c51330" stroke-width="0.6" />
<line x1="468.81" y1="544.62" x2="468.81" y2="547.02" stroke="#c51330" stroke-width="0.6" />
<line x1="396.24" y1="545.02" x2="396.24" y2="547.42" stroke="#115284" stroke-width="0.6" />
<line x1="404.78" y1="550.63" x2="404.78" y2="553.03" stroke="#115284" stroke-width="0.6" />
<line x1="411.18" y1="551.16" x2="411.18" y2="553.56" stroke="#115284" stroke-width="0.6" />
<line x1="416.73" y1="551.75" x2="416.73" y2="554.15" stroke="#115284" stroke-width="0.6" />
<line x1="421.85" y1="552.28" x2="421.85" y2="554.68" stroke="#115284" stroke-width="0.6" />
<line x1="425.27" y1="554.59" x2="425.27" y2="556.99" stroke="#115284" stroke-width="0.6" />
<line x1="428.26" y1="554.59" x2="428.26" y2="556.99" stroke="#115284" stroke-width="0.6" />
<line x1="438.93" y1="558.02" x2="438.93" y2="560.42" stroke="#115284" stroke-width="0.6" />
<line x1="445.33" y1="558.02" x2="445.33" y2="560.42" stroke="#115284" stroke-width="0.6" />
<line x1="451.74" y1="558.02" x2="451.74" y2="560.42" stroke="#115284" stroke-width="0.6" />
<line x1="462.41" y1="558.02" x2="462.41" y2="560.42" stroke="#115284" stroke-width="0.6" />
<line x1="467.96" y1="558.02" x2="467.96" y2="560.42" stroke="#115284" stroke-width="0.6" />
<line x1="396.90" y1="502.00" x2="402.70" y2="502.00" stroke="#c51330" stroke-width="1.4" />
<text x="405.00" y="504.40" font-size="7.4" stroke="#222" stroke-width="0.22" textLength="73.80" lengthAdjust="spacingAndGlyphs" fill="#222">RRM2.level≥7.69: high</text>
<line x1="396.90" y1="510.30" x2="402.70" y2="510.30" stroke="#115284" stroke-width="1.4" />
<text x="405.00" y="512.70" font-size="7.4" stroke="#222" stroke-width="0.22" textLength="70.00" lengthAdjust="spacingAndGlyphs" fill="#222">RRM2.level&lt;7.69: low</text>
<text x="389.30" y="566.60" font-size="7.2" stroke="#222" stroke-width="0.22" textLength="27.20" lengthAdjust="spacingAndGlyphs" fill="#222"><tspan font-style="italic">P</tspan>=0.019</text>
<text x="381.70" y="591.60" font-size="7.6" stroke="#222" stroke-width="0.22" textLength="52.50" lengthAdjust="spacingAndGlyphs" fill="#222">Number at risk</text>
<text x="476.00" y="591.60" font-size="7.6" stroke="#222" stroke-width="0.22" text-anchor="end" textLength="25.60" lengthAdjust="spacingAndGlyphs" fill="#222">Months</text>
<line x1="381.70" y1="593.80" x2="476.00" y2="593.80" stroke="#222" stroke-width="0.9" />
<line x1="387.70" y1="593.80" x2="387.70" y2="597.40" stroke="#222" stroke-width="0.8" />
<line x1="409.04" y1="593.80" x2="409.04" y2="597.40" stroke="#222" stroke-width="0.8" />
<line x1="430.39" y1="593.80" x2="430.39" y2="597.40" stroke="#222" stroke-width="0.8" />
<line x1="451.74" y1="593.80" x2="451.74" y2="597.40" stroke="#222" stroke-width="0.8" />
<line x1="473.08" y1="593.80" x2="473.08" y2="597.40" stroke="#222" stroke-width="0.8" />
<text x="379.00" y="607.20" font-size="7.8" stroke="#d0354e" stroke-width="0.22" text-anchor="end" textLength="17.60" lengthAdjust="spacingAndGlyphs" fill="#d0354e">High</text>
<text x="379.00" y="617.50" font-size="7.8" stroke="#3a6aa0" stroke-width="0.22" text-anchor="end" textLength="14.80" lengthAdjust="spacingAndGlyphs" fill="#3a6aa0">Low</text>
<text x="387.90" y="607.20" font-size="7.8" stroke="#d0354e" stroke-width="0.12" text-anchor="middle" fill="#d0354e">192</text>
<text x="387.90" y="617.50" font-size="7.8" stroke="#3a6aa0" stroke-width="0.12" text-anchor="middle" fill="#3a6aa0">70</text>
<text x="409.04" y="607.20" font-size="7.8" stroke="#d0354e" stroke-width="0.12" text-anchor="middle" fill="#d0354e">72</text>
<text x="409.04" y="617.50" font-size="7.8" stroke="#3a6aa0" stroke-width="0.12" text-anchor="middle" fill="#3a6aa0">13</text>
<text x="430.39" y="607.20" font-size="7.8" stroke="#d0354e" stroke-width="0.12" text-anchor="middle" fill="#d0354e">29</text>
<text x="430.39" y="617.50" font-size="7.8" stroke="#3a6aa0" stroke-width="0.12" text-anchor="middle" fill="#3a6aa0">5</text>
<text x="451.74" y="607.20" font-size="7.8" stroke="#d0354e" stroke-width="0.12" text-anchor="middle" fill="#d0354e">6</text>
<text x="451.74" y="617.50" font-size="7.8" stroke="#3a6aa0" stroke-width="0.12" text-anchor="middle" fill="#3a6aa0">1</text>
<text x="473.08" y="607.20" font-size="7.8" stroke="#d0354e" stroke-width="0.12" text-anchor="middle" fill="#d0354e">0</text>
<text x="473.08" y="617.50" font-size="7.8" stroke="#3a6aa0" stroke-width="0.12" text-anchor="middle" fill="#3a6aa0">0</text>
<text x="356.90" y="608.90" font-size="10.4" stroke="#222" stroke-width="0.22" text-anchor="middle" textLength="18.80" lengthAdjust="spacingAndGlyphs" fill="#222" transform="rotate(-90 356.90 608.90)">Strata</text></svg></body></html>
